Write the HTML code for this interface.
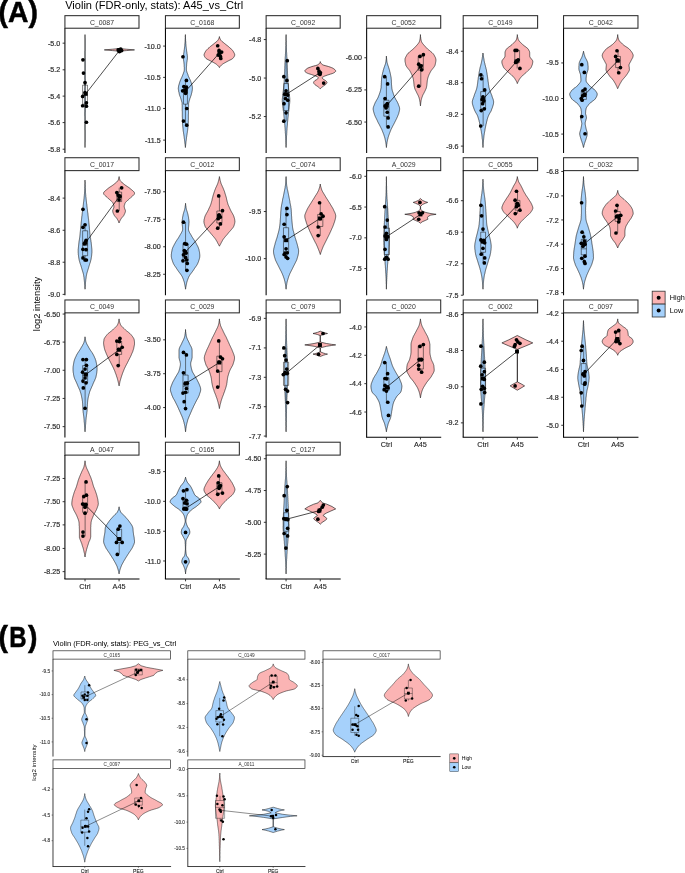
<!DOCTYPE html>
<html lang="en"><head><meta charset="utf-8"><title>Violin plots</title>
<style>html,body{margin:0;padding:0;background:#fff;overflow:hidden}svg{display:block}</style>
</head><body>
<svg width="685" height="873" viewBox="0 0 685 873" font-family='"Liberation Sans", Arial, sans-serif'>
<rect width="685" height="873" fill="#fff"/>
<text transform="translate(-1.4,22.3) scale(0.97,1)" font-size="29.2" font-weight="bold" fill="#000" stroke="#000" stroke-width="0.5">(A)</text>
<g font-size="29.2" font-weight="bold" fill="#000" stroke="#000" stroke-width="0.5"><text transform="translate(-1.4,647.4) scale(0.97,1)">(</text><text transform="translate(9.3,647.4) scale(0.82,1)">B</text><text transform="translate(28.0,647.4) scale(0.97,1)">)</text></g>
<text x="65.2" y="9" font-size="11" fill="#000" textLength="178" lengthAdjust="spacingAndGlyphs">Violin (FDR-only, stats): A45_vs_Ctrl</text>
<text x="53" y="645.8" font-size="7.5" fill="#000" textLength="123.3" lengthAdjust="spacingAndGlyphs">Violin (FDR-only, stats): PEG_vs_Ctrl</text>
<text transform="translate(39.7,304) rotate(-90)" font-size="9.3" fill="#000" text-anchor="middle">log2 intensity</text>
<text transform="translate(35.9,762.6) rotate(-90)" font-size="6.25" fill="#000" text-anchor="middle">log2 intensity</text>
<g>
<path d="M85,34.6 85,35.1 85,35.6 85,36.1 85,36.6 85,37.1 85,37.6 85,38.1 85.1,38.6 85.1,39.1 85.1,39.6 85.1,40.1 85.1,40.6 85.1,41.1 85.1,41.6 85.1,42.1 85.1,42.6 85.1,43.1 85.1,43.6 85.1,44.1 85.1,44.6 85.1,45.1 85.1,45.6 85.1,46.1 85.1,46.6 85.1,47.1 85.1,47.6 85.1,48.1 85.1,48.6 85.1,49.1 85.1,49.6 85.1,50.1 85.1,50.6 85.1,51.1 85.1,51.6 85.1,52.1 85.1,52.6 85.1,53.1 85.1,53.6 85.1,54.1 85.1,54.6 85.1,55.1 85.1,55.6 85.1,56.1 85.1,56.6 85.1,57.1 85.1,57.6 85.2,58.1 85.2,58.6 85.2,59.1 85.2,59.6 85.2,60.1 85.2,60.6 85.2,61.1 85.2,61.6 85.2,62.1 85.2,62.6 85.2,63.1 85.2,63.6 85.2,64.1 85.2,64.6 85.2,65.1 85.2,65.6 85.2,66.1 85.2,66.6 85.2,67.1 85.2,67.6 85.2,68.1 85.2,68.6 85.2,69.1 85.2,69.6 85.2,70.1 85.2,70.6 85.2,71.1 85.2,71.6 85.2,72.1 85.2,72.6 85.2,73.1 85.2,73.6 85.2,74.1 85.2,74.6 85.2,75.1 85.2,75.6 85.2,76.1 85.2,76.6 85.2,77.1 85.2,77.6 85.2,78.1 85.2,78.6 85.3,79.1 85.3,79.6 85.3,80.1 85.3,80.6 85.3,81.1 85.3,81.6 85.3,82.1 85.3,82.6 85.3,83.1 85.3,83.6 85.3,84.1 85.3,84.6 85.3,85.1 85.3,85.6 85.3,86.1 85.3,86.6 85.3,87.1 85.3,87.6 85.3,88.1 85.3,88.6 85.3,89.1 85.3,89.6 85.3,90.1 85.3,90.6 85.4,91.1 85.4,91.6 85.4,92.1 85.4,92.6 85.4,93.1 85.4,93.6 85.4,94.1 85.4,94.6 85.4,95.1 85.4,95.6 85.4,96.1 85.4,96.6 85.4,97.1 85.4,97.6 85.4,98.1 85.4,98.6 85.4,99.1 85.4,99.6 85.4,100.1 85.4,100.6 85.4,101.1 85.4,101.6 85.4,102.1 85.4,102.6 85.3,103.1 85.3,103.6 85.3,104.1 85.3,104.6 85.3,105.1 85.3,105.6 85.3,106.1 85.3,106.6 85.3,107.1 85.3,107.6 85.3,108.1 85.3,108.6 85.3,109.1 85.3,109.6 85.3,110.1 85.3,110.6 85.3,111.1 85.3,111.6 85.3,112.1 85.2,112.6 85.2,113.1 85.2,113.6 85.2,114.1 85.2,114.6 85.2,115.1 85.2,115.6 85.2,116.1 85.2,116.6 85.2,117.1 85.2,117.6 85.2,118.1 85.2,118.6 85.2,119.1 85.2,119.6 85.2,120.1 85.2,120.6 85.2,121.1 85.2,121.6 85.2,122.1 85.2,122.6 85.2,123.1 85.2,123.6 85.2,124.1 85.1,124.6 85.1,125.1 85.1,125.6 85.1,126.1 85.1,126.6 85.1,127.1 85.1,127.6 85.1,128.1 85.1,128.6 85.1,129.1 85.1,129.6 85.1,130.1 85.1,130.6 85.1,131.1 85.1,131.6 85.1,132.1 85.1,132.6 85.1,133.1 85.1,133.6 85.1,134.1 85.1,134.6 85.1,135.1 85.1,135.6 85.1,136.1 85.1,136.6 85.1,137.1 85.1,137.6 85.1,138.1 85.1,138.6 85.1,139.1 85.1,139.6 85.1,140.1 85.1,140.6 85.1,141.1 85.1,141.6 85.1,142.1 85,142.6 85,143.1 85,143.6 85,144.1 85,144.6 85,145.1 85,145.6 85,146.1 85,146.6 85,147.1 85,147.5 85,147.5 85,147.1 85,146.6 85,146.1 85,145.6 85,145.1 85,144.6 85,144.1 85,143.6 85,143.1 85,142.6 85,142.1 85,141.6 85,141.1 85,140.6 85,140.1 85,139.6 85,139.1 85,138.6 85,138.1 85,137.6 85,137.1 85,136.6 85,136.1 85,135.6 85,135.1 85,134.6 85,134.1 85,133.6 85,133.1 85,132.6 85,132.1 85,131.6 85,131.1 85,130.6 84.9,130.1 84.9,129.6 84.9,129.1 84.9,128.6 84.9,128.1 84.9,127.6 84.9,127.1 84.9,126.6 84.9,126.1 84.9,125.6 84.9,125.1 84.9,124.6 84.9,124.1 84.9,123.6 84.9,123.1 84.9,122.6 84.9,122.1 84.9,121.6 84.9,121.1 84.9,120.6 84.9,120.1 84.9,119.6 84.9,119.1 84.9,118.6 84.9,118.1 84.9,117.6 84.9,117.1 84.9,116.6 84.8,116.1 84.8,115.6 84.8,115.1 84.8,114.6 84.8,114.1 84.8,113.6 84.8,113.1 84.8,112.6 84.8,112.1 84.8,111.6 84.8,111.1 84.8,110.6 84.8,110.1 84.8,109.6 84.8,109.1 84.8,108.6 84.8,108.1 84.8,107.6 84.8,107.1 84.8,106.6 84.8,106.1 84.7,105.6 84.7,105.1 84.7,104.6 84.7,104.1 84.7,103.6 84.7,103.1 84.7,102.6 84.7,102.1 84.7,101.6 84.7,101.1 84.7,100.6 84.7,100.1 84.7,99.6 84.7,99.1 84.7,98.6 84.7,98.1 84.7,97.6 84.7,97.1 84.7,96.6 84.7,96.1 84.7,95.6 84.7,95.1 84.7,94.6 84.7,94.1 84.7,93.6 84.7,93.1 84.7,92.6 84.7,92.1 84.7,91.6 84.7,91.1 84.7,90.6 84.7,90.1 84.7,89.6 84.7,89.1 84.7,88.6 84.7,88.1 84.8,87.6 84.8,87.1 84.8,86.6 84.8,86.1 84.8,85.6 84.8,85.1 84.8,84.6 84.8,84.1 84.8,83.6 84.8,83.1 84.8,82.6 84.8,82.1 84.8,81.6 84.8,81.1 84.8,80.6 84.8,80.1 84.8,79.6 84.8,79.1 84.8,78.6 84.8,78.1 84.8,77.6 84.8,77.1 84.8,76.6 84.8,76.1 84.8,75.6 84.8,75.1 84.8,74.6 84.8,74.1 84.8,73.6 84.8,73.1 84.8,72.6 84.8,72.1 84.8,71.6 84.8,71.1 84.9,70.6 84.9,70.1 84.9,69.6 84.9,69.1 84.9,68.6 84.9,68.1 84.9,67.6 84.9,67.1 84.9,66.6 84.9,66.1 84.9,65.6 84.9,65.1 84.9,64.6 84.9,64.1 84.9,63.6 84.9,63.1 84.9,62.6 84.9,62.1 84.9,61.6 84.9,61.1 84.9,60.6 84.9,60.1 84.9,59.6 84.9,59.1 84.9,58.6 84.9,58.1 84.9,57.6 84.9,57.1 84.9,56.6 84.9,56.1 84.9,55.6 84.9,55.1 84.9,54.6 84.9,54.1 84.9,53.6 84.9,53.1 84.9,52.6 84.9,52.1 84.9,51.6 84.9,51.1 85,50.6 85,50.1 85,49.6 85,49.1 85,48.6 85,48.1 85,47.6 85,47.1 85,46.6 85,46.1 85,45.6 85,45.1 85,44.6 85,44.1 85,43.6 85,43.1 85,42.6 85,42.1 85,41.6 85,41.1 85,40.6 85,40.1 85,39.6 85,39.1 85,38.6 85,38.1 85,37.6 85,37.1 85,36.6 85,36.1 85,35.6 85,35.1 85,34.6Z" fill="#a6d1fb" stroke="#111" stroke-width="0.62" stroke-linejoin="round"/>
<path d="M119.4,48.5 126.3,49.2 134.5,49.9 126.3,50.6 119.4,51.2 119.4,51.2 112.5,50.6 104.3,49.9 112.5,49.2 119.4,48.5Z" fill="#fbb4b4" stroke="#111" stroke-width="0.62" stroke-linejoin="round"/>
<rect x="82.62" y="85.11" width="4.81" height="19.08" fill="#a6d1fb" fill-opacity="0"/>
<path d="M85.03,82.53V85.11M85.03,104.19V106.25M82.62,85.11H87.44V104.19H82.62ZM82.62,94.22H87.44" fill="none" stroke="#1a1a1a" stroke-width="0.55"/>
<path d="M85.72,93.88L119.41,50.56" stroke="#000" stroke-width="0.7" fill="none"/>
<circle cx="82.97" cy="59.84" r="1.85"/>
<circle cx="83.48" cy="73.08" r="1.85"/>
<circle cx="85.03" cy="82.53" r="1.85"/>
<circle cx="82.62" cy="96.45" r="1.85"/>
<circle cx="85.03" cy="92.5" r="1.85"/>
<circle cx="86.41" cy="102.81" r="1.85"/>
<circle cx="82.62" cy="105.73" r="1.85"/>
<circle cx="86.41" cy="106.25" r="1.85"/>
<circle cx="86.41" cy="122.23" r="1.85"/>
<circle cx="118.2" cy="49.88" r="1.85"/>
<circle cx="119.92" cy="49.53" r="1.85"/>
<circle cx="121.64" cy="50.56" r="1.85"/>
<circle cx="119.41" cy="51.59" r="1.85"/>
<circle cx="120.78" cy="49.19" r="1.85"/>
<rect x="83.77" y="91.92" width="3.9" height="3.9"/>
<rect x="117.46" y="48.61" width="3.9" height="3.9"/>
<rect x="64.92" y="15.67" width="74.07" height="12.55" fill="#fff" stroke="#2b2b2b" stroke-width="1.05"/>
<text x="101.96" y="25" font-size="6.9" fill="#333" text-anchor="middle">C_0087</text>
<path d="M64.92,28.22V153" stroke="#000" stroke-width="1.05" fill="none"/>
<path d="M62.62,43.17H64.92" stroke="#222" stroke-width="0.9"/>
<text x="60.12" y="45.73" font-size="7.1" fill="#333" stroke="#333" stroke-width="0.22" text-anchor="end">-5.0</text>
<path d="M62.62,69.81H64.92" stroke="#222" stroke-width="0.9"/>
<text x="60.12" y="72.37" font-size="7.1" fill="#333" stroke="#333" stroke-width="0.22" text-anchor="end">-5.2</text>
<path d="M62.62,96.11H64.92" stroke="#222" stroke-width="0.9"/>
<text x="60.12" y="98.67" font-size="7.1" fill="#333" stroke="#333" stroke-width="0.22" text-anchor="end">-5.4</text>
<path d="M62.62,122.58H64.92" stroke="#222" stroke-width="0.9"/>
<text x="60.12" y="125.13" font-size="7.1" fill="#333" stroke="#333" stroke-width="0.22" text-anchor="end">-5.6</text>
<path d="M62.62,149.22H64.92" stroke="#222" stroke-width="0.9"/>
<text x="60.12" y="151.77" font-size="7.1" fill="#333" stroke="#333" stroke-width="0.22" text-anchor="end">-5.8</text>
</g>
<g>
<path d="M185.4,34.6 185.4,35.1 185.4,35.6 185.4,36.1 185.4,36.6 185.4,37.1 185.5,37.6 185.5,38.1 185.5,38.6 185.5,39.1 185.6,39.6 185.6,40.1 185.6,40.6 185.7,41.1 185.7,41.6 185.7,42.1 185.8,42.6 185.8,43.1 185.8,43.6 185.9,44.1 185.9,44.6 185.9,45.1 186,45.6 186,46.1 186.1,46.6 186.2,47.1 186.2,47.6 186.3,48.1 186.3,48.6 186.4,49.1 186.5,49.6 186.5,50.1 186.6,50.6 186.7,51.1 186.7,51.6 186.8,52.1 186.9,52.6 186.9,53.1 187,53.6 187.1,54.1 187.2,54.6 187.2,55.1 187.3,55.6 187.4,56.1 187.4,56.6 187.4,57.1 187.4,57.6 187.4,58.1 187.4,58.6 187.3,59.1 187.3,59.6 187.2,60.1 187.1,60.6 187,61.1 187,61.6 186.9,62.1 186.8,62.6 186.8,63.1 186.7,63.6 186.7,64.1 186.6,64.6 186.6,65.1 186.6,65.6 186.5,66.1 186.5,66.6 186.5,67.1 186.4,67.6 186.4,68.1 186.4,68.6 186.4,69.1 186.4,69.6 186.5,70.1 186.5,70.6 186.6,71.1 186.8,71.6 186.9,72.1 187.1,72.6 187.3,73.1 187.5,73.6 187.7,74.1 187.9,74.6 188,75.1 188.2,75.6 188.4,76.1 188.6,76.6 188.8,77.1 189.1,77.6 189.3,78.1 189.5,78.6 189.8,79.1 190,79.6 190.2,80.1 190.5,80.6 190.7,81.1 190.8,81.6 191,82.1 191.2,82.6 191.3,83.1 191.5,83.6 191.6,84.1 191.8,84.6 191.9,85.1 192.1,85.6 192.2,86.1 192.3,86.6 192.3,87.1 192.4,87.6 192.4,88.1 192.4,88.6 192.4,89.1 192.3,89.6 192.3,90.1 192.2,90.6 192.1,91.1 192,91.6 191.9,92.1 191.8,92.6 191.7,93.1 191.5,93.6 191.4,94.1 191.3,94.6 191.2,95.1 191,95.6 190.8,96.1 190.6,96.6 190.5,97.1 190.3,97.6 190.1,98.1 189.9,98.6 189.8,99.1 189.6,99.6 189.5,100.1 189.3,100.6 189.2,101.1 189,101.6 188.9,102.1 188.8,102.6 188.7,103.1 188.6,103.6 188.6,104.1 188.6,104.6 188.6,105.1 188.6,105.6 188.6,106.1 188.6,106.6 188.6,107.1 188.5,107.6 188.5,108.1 188.5,108.6 188.5,109.1 188.5,109.6 188.5,110.1 188.5,110.6 188.5,111.1 188.5,111.6 188.5,112.1 188.5,112.6 188.5,113.1 188.5,113.6 188.5,114.1 188.4,114.6 188.4,115.1 188.4,115.6 188.4,116.1 188.4,116.6 188.4,117.1 188.4,117.6 188.4,118.1 188.4,118.6 188.4,119.1 188.4,119.6 188.3,120.1 188.3,120.6 188.3,121.1 188.3,121.6 188.3,122.1 188.3,122.6 188.2,123.1 188.2,123.6 188.2,124.1 188.1,124.6 188.1,125.1 188.1,125.6 188,126.1 188,126.6 187.9,127.1 187.9,127.6 187.8,128.1 187.8,128.6 187.7,129.1 187.7,129.6 187.6,130.1 187.6,130.6 187.5,131.1 187.4,131.6 187.3,132.1 187.3,132.6 187.2,133.1 187.1,133.6 187,134.1 187,134.6 186.9,135.1 186.8,135.6 186.7,136.1 186.7,136.6 186.6,137.1 186.5,137.6 186.5,138.1 186.4,138.6 186.3,139.1 186.3,139.6 186.2,140.1 186.2,140.6 186.1,141.1 186,141.6 186,142.1 185.9,142.6 185.9,143.1 185.8,143.6 185.7,144.1 185.7,144.6 185.6,145.1 185.6,145.6 185.5,146.1 185.5,146.6 185.4,147.1 185.4,147.5 185.4,147.5 185.3,147.1 185.3,146.6 185.2,146.1 185.2,145.6 185.1,145.1 185.1,144.6 185,144.1 184.9,143.6 184.9,143.1 184.8,142.6 184.8,142.1 184.7,141.6 184.7,141.1 184.6,140.6 184.5,140.1 184.5,139.6 184.4,139.1 184.3,138.6 184.3,138.1 184.2,137.6 184.2,137.1 184.1,136.6 184,136.1 183.9,135.6 183.9,135.1 183.8,134.6 183.7,134.1 183.6,133.6 183.6,133.1 183.5,132.6 183.4,132.1 183.3,131.6 183.3,131.1 183.2,130.6 183.1,130.1 183.1,129.6 183,129.1 183,128.6 182.9,128.1 182.9,127.6 182.8,127.1 182.8,126.6 182.7,126.1 182.7,125.6 182.6,125.1 182.6,124.6 182.6,124.1 182.5,123.6 182.5,123.1 182.5,122.6 182.5,122.1 182.4,121.6 182.4,121.1 182.4,120.6 182.4,120.1 182.4,119.6 182.4,119.1 182.4,118.6 182.4,118.1 182.4,117.6 182.3,117.1 182.3,116.6 182.3,116.1 182.3,115.6 182.3,115.1 182.3,114.6 182.3,114.1 182.3,113.6 182.3,113.1 182.3,112.6 182.3,112.1 182.3,111.6 182.2,111.1 182.2,110.6 182.2,110.1 182.2,109.6 182.2,109.1 182.2,108.6 182.2,108.1 182.2,107.6 182.2,107.1 182.2,106.6 182.2,106.1 182.2,105.6 182.2,105.1 182.1,104.6 182.1,104.1 182.1,103.6 182.1,103.1 182,102.6 181.9,102.1 181.7,101.6 181.6,101.1 181.4,100.6 181.3,100.1 181.1,99.6 181,99.1 180.8,98.6 180.7,98.1 180.5,97.6 180.3,97.1 180.1,96.6 179.9,96.1 179.7,95.6 179.6,95.1 179.4,94.6 179.3,94.1 179.2,93.6 179.1,93.1 179,92.6 178.9,92.1 178.7,91.6 178.6,91.1 178.6,90.6 178.5,90.1 178.4,89.6 178.4,89.1 178.3,88.6 178.3,88.1 178.4,87.6 178.4,87.1 178.5,86.6 178.6,86.1 178.7,85.6 178.8,85.1 179,84.6 179.1,84.1 179.3,83.6 179.4,83.1 179.6,82.6 179.7,82.1 179.9,81.6 180.1,81.1 180.3,80.6 180.5,80.1 180.7,79.6 181,79.1 181.2,78.6 181.4,78.1 181.7,77.6 181.9,77.1 182.1,76.6 182.3,76.1 182.5,75.6 182.7,75.1 182.9,74.6 183.1,74.1 183.3,73.6 183.5,73.1 183.6,72.6 183.8,72.1 184,71.6 184.1,71.1 184.2,70.6 184.3,70.1 184.3,69.6 184.3,69.1 184.3,68.6 184.3,68.1 184.3,67.6 184.3,67.1 184.2,66.6 184.2,66.1 184.2,65.6 184.1,65.1 184.1,64.6 184.1,64.1 184,63.6 184,63.1 183.9,62.6 183.9,62.1 183.8,61.6 183.7,61.1 183.6,60.6 183.6,60.1 183.5,59.6 183.4,59.1 183.4,58.6 183.3,58.1 183.3,57.6 183.3,57.1 183.3,56.6 183.4,56.1 183.4,55.6 183.5,55.1 183.6,54.6 183.7,54.1 183.7,53.6 183.8,53.1 183.9,52.6 183.9,52.1 184,51.6 184.1,51.1 184.1,50.6 184.2,50.1 184.3,49.6 184.3,49.1 184.4,48.6 184.5,48.1 184.5,47.6 184.6,47.1 184.7,46.6 184.7,46.1 184.8,45.6 184.8,45.1 184.8,44.6 184.9,44.1 184.9,43.6 185,43.1 185,42.6 185,42.1 185.1,41.6 185.1,41.1 185.1,40.6 185.2,40.1 185.2,39.6 185.2,39.1 185.2,38.6 185.3,38.1 185.3,37.6 185.3,37.1 185.3,36.6 185.3,36.1 185.4,35.6 185.4,35.1 185.4,34.6Z" fill="#a6d1fb" stroke="#111" stroke-width="0.62" stroke-linejoin="round"/>
<path d="M219.4,36.6 219.5,37.1 219.6,37.6 219.8,38.1 220,38.6 220.2,39.1 220.5,39.6 220.8,40.1 221.2,40.6 221.7,41.1 222.2,41.6 222.8,42.1 223.5,42.6 224.1,43.1 224.7,43.6 225.3,44.1 226,44.6 226.6,45.1 227.3,45.6 227.9,46.1 228.5,46.6 229.1,47.1 229.6,47.6 230.2,48.1 230.8,48.6 231.3,49.1 231.9,49.6 232.3,50.1 232.7,50.6 233.1,51.1 233.4,51.6 233.7,52.1 233.9,52.6 234.2,53.1 234.4,53.6 234.6,54.1 234.7,54.6 234.7,55.1 234.6,55.6 234.4,56.1 234.2,56.6 233.9,57.1 233.5,57.6 233.1,58.1 232.6,58.6 231.9,59.1 231,59.6 229.9,60.1 228.9,60.6 227.9,61.1 227,61.6 226.1,62.1 225.2,62.6 224.3,63.1 223.4,63.6 222.7,64.1 222,64.6 221.4,65.1 220.9,65.6 220.4,66.1 220,66.6 219.7,67.1 219.4,67.6 219.4,67.6 219.2,67.1 218.8,66.6 218.4,66.1 217.9,65.6 217.4,65.1 216.8,64.6 216.2,64.1 215.4,63.6 214.5,63.1 213.6,62.6 212.7,62.1 211.8,61.6 210.9,61.1 209.9,60.6 208.9,60.1 207.9,59.6 206.9,59.1 206.2,58.6 205.7,58.1 205.3,57.6 204.9,57.1 204.6,56.6 204.4,56.1 204.2,55.6 204.1,55.1 204.1,54.6 204.2,54.1 204.4,53.6 204.6,53.1 204.9,52.6 205.1,52.1 205.4,51.6 205.7,51.1 206.1,50.6 206.5,50.1 207,49.6 207.5,49.1 208,48.6 208.6,48.1 209.2,47.6 209.7,47.1 210.3,46.6 210.9,46.1 211.6,45.6 212.2,45.1 212.9,44.6 213.5,44.1 214.1,43.6 214.7,43.1 215.3,42.6 216,42.1 216.6,41.6 217.1,41.1 217.6,40.6 218,40.1 218.3,39.6 218.6,39.1 218.8,38.6 219,38.1 219.2,37.6 219.3,37.1 219.4,36.6Z" fill="#fbb4b4" stroke="#111" stroke-width="0.62" stroke-linejoin="round"/>
<rect x="183.48" y="85.62" width="3.95" height="18.56" fill="#a6d1fb" fill-opacity="0"/>
<path d="M185.46,80.47V85.62M185.46,104.19V125.16M183.48,85.62H187.44V104.19H183.48ZM183.48,90.27H187.44" fill="none" stroke="#1a1a1a" stroke-width="0.55"/>
<path d="M185.72,91.12L219.41,52.97" stroke="#000" stroke-width="0.7" fill="none"/>
<circle cx="182.97" cy="56.75" r="1.85"/>
<circle cx="186.41" cy="80.47" r="1.85"/>
<circle cx="183.83" cy="86.48" r="1.85"/>
<circle cx="186.41" cy="87.34" r="1.85"/>
<circle cx="182.62" cy="90.78" r="1.85"/>
<circle cx="185.03" cy="89.92" r="1.85"/>
<circle cx="185.55" cy="93.36" r="1.85"/>
<circle cx="186.75" cy="108.48" r="1.85"/>
<circle cx="183.48" cy="121.03" r="1.85"/>
<circle cx="186.75" cy="125.16" r="1.85"/>
<circle cx="217.69" cy="45.75" r="1.85"/>
<circle cx="219.06" cy="50.39" r="1.85"/>
<circle cx="221.64" cy="52.11" r="1.85"/>
<circle cx="218.2" cy="55.03" r="1.85"/>
<circle cx="220.44" cy="56.41" r="1.85"/>
<circle cx="220.78" cy="58.47" r="1.85"/>
<rect x="183.77" y="89.17" width="3.9" height="3.9"/>
<rect x="217.46" y="51.02" width="3.9" height="3.9"/>
<rect x="165.44" y="15.67" width="73.9" height="12.55" fill="#fff" stroke="#2b2b2b" stroke-width="1.05"/>
<text x="202.39" y="25" font-size="6.9" fill="#333" text-anchor="middle">C_0168</text>
<path d="M165.44,28.22V153" stroke="#000" stroke-width="1.05" fill="none"/>
<path d="M163.14,46.09H165.44" stroke="#222" stroke-width="0.9"/>
<text x="160.64" y="48.65" font-size="7.1" fill="#333" stroke="#333" stroke-width="0.22" text-anchor="end">-10.0</text>
<path d="M163.14,77.38H165.44" stroke="#222" stroke-width="0.9"/>
<text x="160.64" y="79.93" font-size="7.1" fill="#333" stroke="#333" stroke-width="0.22" text-anchor="end">-10.5</text>
<path d="M163.14,108.48H165.44" stroke="#222" stroke-width="0.9"/>
<text x="160.64" y="111.04" font-size="7.1" fill="#333" stroke="#333" stroke-width="0.22" text-anchor="end">-11.0</text>
<path d="M163.14,140.11H165.44" stroke="#222" stroke-width="0.9"/>
<text x="160.64" y="142.67" font-size="7.1" fill="#333" stroke="#333" stroke-width="0.22" text-anchor="end">-11.5</text>
</g>
<g>
<path d="M286.1,34.6 286.1,35.1 286.1,35.6 286.1,36.1 286.1,36.6 286.1,37.1 286.1,37.6 286.1,38.1 286.1,38.6 286.1,39.1 286.1,39.6 286.1,40.1 286.1,40.6 286.2,41.1 286.2,41.6 286.2,42.1 286.2,42.6 286.2,43.1 286.2,43.6 286.2,44.1 286.2,44.6 286.3,45.1 286.3,45.6 286.3,46.1 286.3,46.6 286.3,47.1 286.3,47.6 286.4,48.1 286.4,48.6 286.4,49.1 286.4,49.6 286.5,50.1 286.5,50.6 286.5,51.1 286.5,51.6 286.6,52.1 286.6,52.6 286.6,53.1 286.7,53.6 286.7,54.1 286.7,54.6 286.7,55.1 286.8,55.6 286.8,56.1 286.8,56.6 286.9,57.1 286.9,57.6 286.9,58.1 286.9,58.6 287,59.1 287,59.6 287,60.1 287,60.6 287.1,61.1 287.1,61.6 287.1,62.1 287.1,62.6 287.2,63.1 287.2,63.6 287.2,64.1 287.2,64.6 287.2,65.1 287.3,65.6 287.3,66.1 287.3,66.6 287.3,67.1 287.3,67.6 287.3,68.1 287.4,68.6 287.4,69.1 287.4,69.6 287.4,70.1 287.4,70.6 287.4,71.1 287.5,71.6 287.5,72.1 287.5,72.6 287.5,73.1 287.5,73.6 287.6,74.1 287.6,74.6 287.6,75.1 287.6,75.6 287.6,76.1 287.7,76.6 287.7,77.1 287.7,77.6 287.7,78.1 287.8,78.6 287.8,79.1 287.8,79.6 287.9,80.1 287.9,80.6 287.9,81.1 288,81.6 288,82.1 288,82.6 288.1,83.1 288.1,83.6 288.2,84.1 288.2,84.6 288.3,85.1 288.3,85.6 288.3,86.1 288.4,86.6 288.4,87.1 288.5,87.6 288.5,88.1 288.6,88.6 288.6,89.1 288.7,89.6 288.8,90.1 288.8,90.6 288.9,91.1 288.9,91.6 289,92.1 289.1,92.6 289.2,93.1 289.2,93.6 289.3,94.1 289.4,94.6 289.4,95.1 289.5,95.6 289.5,96.1 289.6,96.6 289.6,97.1 289.7,97.6 289.7,98.1 289.8,98.6 289.8,99.1 289.8,99.6 289.8,100.1 289.8,100.6 289.8,101.1 289.8,101.6 289.8,102.1 289.7,102.6 289.7,103.1 289.6,103.6 289.6,104.1 289.5,104.6 289.5,105.1 289.4,105.6 289.3,106.1 289.3,106.6 289.2,107.1 289.2,107.6 289.1,108.1 289.1,108.6 289,109.1 288.9,109.6 288.9,110.1 288.8,110.6 288.7,111.1 288.7,111.6 288.6,112.1 288.5,112.6 288.5,113.1 288.4,113.6 288.4,114.1 288.3,114.6 288.3,115.1 288.2,115.6 288.2,116.1 288.1,116.6 288,117.1 288,117.6 287.9,118.1 287.9,118.6 287.9,119.1 287.8,119.6 287.8,120.1 287.7,120.6 287.7,121.1 287.6,121.6 287.6,122.1 287.5,122.6 287.5,123.1 287.4,123.6 287.4,124.1 287.4,124.6 287.3,125.1 287.3,125.6 287.2,126.1 287.2,126.6 287.2,127.1 287.1,127.6 287.1,128.1 287,128.6 287,129.1 287,129.6 286.9,130.1 286.9,130.6 286.9,131.1 286.8,131.6 286.8,132.1 286.8,132.6 286.8,133.1 286.7,133.6 286.7,134.1 286.7,134.6 286.6,135.1 286.6,135.6 286.6,136.1 286.5,136.6 286.5,137.1 286.5,137.6 286.5,138.1 286.4,138.6 286.4,139.1 286.4,139.6 286.4,140.1 286.3,140.6 286.3,141.1 286.3,141.6 286.3,142.1 286.2,142.6 286.2,143.1 286.2,143.6 286.2,144.1 286.2,144.6 286.1,145.1 286.1,145.6 286.1,146.1 286.1,146.6 286.1,147.1 286.1,147.5 286.1,147.5 286,147.1 286,146.6 286,146.1 286,145.6 286,145.1 286,144.6 285.9,144.1 285.9,143.6 285.9,143.1 285.9,142.6 285.9,142.1 285.8,141.6 285.8,141.1 285.8,140.6 285.8,140.1 285.7,139.6 285.7,139.1 285.7,138.6 285.7,138.1 285.6,137.6 285.6,137.1 285.6,136.6 285.6,136.1 285.5,135.6 285.5,135.1 285.5,134.6 285.4,134.1 285.4,133.6 285.4,133.1 285.3,132.6 285.3,132.1 285.3,131.6 285.3,131.1 285.2,130.6 285.2,130.1 285.2,129.6 285.1,129.1 285.1,128.6 285,128.1 285,127.6 285,127.1 284.9,126.6 284.9,126.1 284.9,125.6 284.8,125.1 284.8,124.6 284.7,124.1 284.7,123.6 284.6,123.1 284.6,122.6 284.5,122.1 284.5,121.6 284.5,121.1 284.4,120.6 284.4,120.1 284.3,119.6 284.3,119.1 284.2,118.6 284.2,118.1 284.1,117.6 284.1,117.1 284,116.6 284,116.1 283.9,115.6 283.9,115.1 283.8,114.6 283.8,114.1 283.7,113.6 283.7,113.1 283.6,112.6 283.5,112.1 283.5,111.6 283.4,111.1 283.3,110.6 283.3,110.1 283.2,109.6 283.1,109.1 283.1,108.6 283,108.1 282.9,107.6 282.9,107.1 282.8,106.6 282.8,106.1 282.7,105.6 282.7,105.1 282.6,104.6 282.6,104.1 282.5,103.6 282.4,103.1 282.4,102.6 282.4,102.1 282.3,101.6 282.3,101.1 282.3,100.6 282.3,100.1 282.3,99.6 282.3,99.1 282.4,98.6 282.4,98.1 282.5,97.6 282.5,97.1 282.6,96.6 282.6,96.1 282.7,95.6 282.7,95.1 282.8,94.6 282.8,94.1 282.9,93.6 283,93.1 283,92.6 283.1,92.1 283.2,91.6 283.2,91.1 283.3,90.6 283.4,90.1 283.4,89.6 283.5,89.1 283.5,88.6 283.6,88.1 283.6,87.6 283.7,87.1 283.7,86.6 283.8,86.1 283.8,85.6 283.9,85.1 283.9,84.6 284,84.1 284,83.6 284,83.1 284.1,82.6 284.1,82.1 284.2,81.6 284.2,81.1 284.2,80.6 284.3,80.1 284.3,79.6 284.3,79.1 284.4,78.6 284.4,78.1 284.4,77.6 284.4,77.1 284.5,76.6 284.5,76.1 284.5,75.6 284.5,75.1 284.5,74.6 284.6,74.1 284.6,73.6 284.6,73.1 284.6,72.6 284.6,72.1 284.7,71.6 284.7,71.1 284.7,70.6 284.7,70.1 284.7,69.6 284.7,69.1 284.8,68.6 284.8,68.1 284.8,67.6 284.8,67.1 284.8,66.6 284.9,66.1 284.9,65.6 284.9,65.1 284.9,64.6 284.9,64.1 284.9,63.6 285,63.1 285,62.6 285,62.1 285,61.6 285.1,61.1 285.1,60.6 285.1,60.1 285.1,59.6 285.2,59.1 285.2,58.6 285.2,58.1 285.2,57.6 285.3,57.1 285.3,56.6 285.3,56.1 285.4,55.6 285.4,55.1 285.4,54.6 285.4,54.1 285.5,53.6 285.5,53.1 285.5,52.6 285.6,52.1 285.6,51.6 285.6,51.1 285.6,50.6 285.7,50.1 285.7,49.6 285.7,49.1 285.7,48.6 285.8,48.1 285.8,47.6 285.8,47.1 285.8,46.6 285.8,46.1 285.9,45.6 285.9,45.1 285.9,44.6 285.9,44.1 285.9,43.6 285.9,43.1 285.9,42.6 285.9,42.1 286,41.6 286,41.1 286,40.6 286,40.1 286,39.6 286,39.1 286,38.6 286,38.1 286,37.6 286,37.1 286,36.6 286.1,36.1 286.1,35.6 286.1,35.1 286.1,34.6Z" fill="#a6d1fb" stroke="#111" stroke-width="0.62" stroke-linejoin="round"/>
<path d="M320.3,61.6 320.4,62.1 320.6,62.6 320.9,63.1 321.3,63.6 321.7,64.1 322.4,64.6 323.4,65.1 325.1,65.6 327,66.1 328.7,66.6 330.2,67.1 331.5,67.6 332.7,68.1 333.5,68.6 334.2,69.1 334.8,69.6 335.3,70.1 335.6,70.6 335.7,71.1 335.5,71.6 335,72.1 334.2,72.6 333.4,73.1 332.2,73.6 330.5,74.1 328.9,74.6 327.4,75.1 325.9,75.6 324.6,76.1 323.6,76.6 322.7,77.1 322.1,77.6 322.2,78.1 322.6,78.6 323.2,79.1 323.9,79.6 324.7,80.1 325.6,80.6 326.2,81.1 326.6,81.6 326.9,82.1 327,82.6 326.8,83.1 326.5,83.6 326.1,84.1 325.6,84.6 325,85.1 324.2,85.6 323.4,86.1 322.7,86.6 322.1,87.1 321.5,87.6 321,88.1 320.4,88.6 320.3,88.7 320.3,88.7 320.1,88.6 319.6,88.1 319,87.6 318.4,87.1 317.8,86.6 317.1,86.1 316.3,85.6 315.5,85.1 314.9,84.6 314.4,84.1 314,83.6 313.7,83.1 313.6,82.6 313.7,82.1 314,81.6 314.4,81.1 314.9,80.6 315.8,80.1 316.7,79.6 317.3,79.1 317.9,78.6 318.4,78.1 318.4,77.6 317.8,77.1 316.9,76.6 315.9,76.1 314.6,75.6 313.1,75.1 311.7,74.6 310,74.1 308.4,73.6 307.2,73.1 306.3,72.6 305.6,72.1 305,71.6 304.8,71.1 304.9,70.6 305.2,70.1 305.7,69.6 306.4,69.1 307,68.6 307.8,68.1 309,67.6 310.4,67.1 311.8,66.6 313.5,66.1 315.5,65.6 317.2,65.1 318.1,64.6 318.8,64.1 319.3,63.6 319.6,63.1 320,62.6 320.2,62.1 320.3,61.6Z" fill="#fbb4b4" stroke="#111" stroke-width="0.62" stroke-linejoin="round"/>
<rect x="283.83" y="83.56" width="4.64" height="26.98" fill="#a6d1fb" fill-opacity="0"/>
<path d="M286.15,60.7V83.56M286.15,110.55V121.2M283.83,83.56H288.47V110.55H283.83ZM283.83,95.94H288.47" fill="none" stroke="#1a1a1a" stroke-width="0.55"/>
<path d="M286.41,94.22L319.41,73.08" stroke="#000" stroke-width="0.7" fill="none"/>
<circle cx="287.27" cy="60.7" r="1.85"/>
<circle cx="283.83" cy="76.69" r="1.85"/>
<circle cx="286.92" cy="80.47" r="1.85"/>
<circle cx="286.06" cy="90.78" r="1.85"/>
<circle cx="284.69" cy="94.22" r="1.85"/>
<circle cx="287.78" cy="95.08" r="1.85"/>
<circle cx="285.55" cy="98.52" r="1.85"/>
<circle cx="287.78" cy="100.23" r="1.85"/>
<circle cx="284" cy="103.67" r="1.85"/>
<circle cx="286.06" cy="112.78" r="1.85"/>
<circle cx="283.83" cy="121.2" r="1.85"/>
<circle cx="317.86" cy="68.44" r="1.85"/>
<circle cx="319.06" cy="71.02" r="1.85"/>
<circle cx="320.44" cy="72.73" r="1.85"/>
<circle cx="319.92" cy="74.45" r="1.85"/>
<circle cx="323.7" cy="83.05" r="1.85"/>
<rect x="284.46" y="92.27" width="3.9" height="3.9"/>
<rect x="317.46" y="71.13" width="3.9" height="3.9"/>
<rect x="266.12" y="15.67" width="74.07" height="12.55" fill="#fff" stroke="#2b2b2b" stroke-width="1.05"/>
<text x="303.16" y="25" font-size="6.9" fill="#333" text-anchor="middle">C_0092</text>
<path d="M266.12,28.22V153" stroke="#000" stroke-width="1.05" fill="none"/>
<path d="M263.82,39.56H266.12" stroke="#222" stroke-width="0.9"/>
<text x="261.32" y="42.12" font-size="7.1" fill="#333" stroke="#333" stroke-width="0.22" text-anchor="end">-4.8</text>
<path d="M263.82,78.06H266.12" stroke="#222" stroke-width="0.9"/>
<text x="261.32" y="80.62" font-size="7.1" fill="#333" stroke="#333" stroke-width="0.22" text-anchor="end">-5.0</text>
<path d="M263.82,116.56H266.12" stroke="#222" stroke-width="0.9"/>
<text x="261.32" y="119.12" font-size="7.1" fill="#333" stroke="#333" stroke-width="0.22" text-anchor="end">-5.2</text>
</g>
<g>
<path d="M386.4,56.1 386.4,56.6 386.4,57.1 386.5,57.6 386.5,58.1 386.6,58.6 386.6,59.1 386.7,59.6 386.7,60.1 386.8,60.6 386.9,61.1 386.9,61.6 387,62.1 387.1,62.6 387.2,63.1 387.4,63.6 387.5,64.1 387.7,64.6 387.8,65.1 388,65.6 388.2,66.1 388.4,66.6 388.5,67.1 388.7,67.6 388.9,68.1 389,68.6 389.2,69.1 389.3,69.6 389.5,70.1 389.6,70.6 389.7,71.1 389.8,71.6 390,72.1 390.1,72.6 390.2,73.1 390.3,73.6 390.4,74.1 390.5,74.6 390.6,75.1 390.7,75.6 390.8,76.1 390.9,76.6 391,77.1 391.1,77.6 391.1,78.1 391.2,78.6 391.2,79.1 391.3,79.6 391.3,80.1 391.4,80.6 391.4,81.1 391.4,81.6 391.4,82.1 391.4,82.6 391.5,83.1 391.5,83.6 391.5,84.1 391.5,84.6 391.6,85.1 391.6,85.6 391.6,86.1 391.7,86.6 391.7,87.1 391.8,87.6 391.8,88.1 391.9,88.6 392,89.1 392.1,89.6 392.2,90.1 392.3,90.6 392.5,91.1 392.6,91.6 392.8,92.1 393,92.6 393.1,93.1 393.3,93.6 393.5,94.1 393.6,94.6 393.8,95.1 394,95.6 394.2,96.1 394.4,96.6 394.6,97.1 394.8,97.6 395.1,98.1 395.4,98.6 395.6,99.1 395.9,99.6 396.2,100.1 396.5,100.6 396.8,101.1 397.1,101.6 397.3,102.1 397.6,102.6 397.8,103.1 398.1,103.6 398.3,104.1 398.4,104.6 398.6,105.1 398.8,105.6 399,106.1 399.2,106.6 399.3,107.1 399.5,107.6 399.6,108.1 399.6,108.6 399.6,109.1 399.6,109.6 399.5,110.1 399.4,110.6 399.3,111.1 399.2,111.6 399.1,112.1 398.9,112.6 398.8,113.1 398.7,113.6 398.5,114.1 398.3,114.6 398.1,115.1 397.9,115.6 397.7,116.1 397.5,116.6 397.3,117.1 397,117.6 396.8,118.1 396.6,118.6 396.3,119.1 396.1,119.6 395.8,120.1 395.6,120.6 395.3,121.1 395.1,121.6 394.8,122.1 394.6,122.6 394.3,123.1 394.1,123.6 393.8,124.1 393.6,124.6 393.3,125.1 393,125.6 392.8,126.1 392.5,126.6 392.2,127.1 392,127.6 391.7,128.1 391.5,128.6 391.2,129.1 391,129.6 390.8,130.1 390.6,130.6 390.4,131.1 390.2,131.6 390,132.1 389.8,132.6 389.6,133.1 389.4,133.6 389.2,134.1 389.1,134.6 388.9,135.1 388.7,135.6 388.6,136.1 388.4,136.6 388.2,137.1 388.1,137.6 388,138.1 387.9,138.6 387.7,139.1 387.6,139.6 387.5,140.1 387.4,140.6 387.3,141.1 387.2,141.6 387.1,142.1 387,142.6 387,143.1 386.9,143.6 386.8,144.1 386.7,144.6 386.7,145.1 386.6,145.6 386.5,146.1 386.5,146.6 386.4,147.1 386.4,147.5 386.4,147.5 386.4,147.1 386.3,146.6 386.3,146.1 386.2,145.6 386.2,145.1 386.1,144.6 386,144.1 385.9,143.6 385.9,143.1 385.8,142.6 385.7,142.1 385.6,141.6 385.5,141.1 385.4,140.6 385.3,140.1 385.2,139.6 385.1,139.1 385,138.6 384.8,138.1 384.7,137.6 384.6,137.1 384.4,136.6 384.3,136.1 384.1,135.6 383.9,135.1 383.8,134.6 383.6,134.1 383.4,133.6 383.2,133.1 383,132.6 382.8,132.1 382.6,131.6 382.4,131.1 382.2,130.6 382,130.1 381.8,129.6 381.6,129.1 381.3,128.6 381.1,128.1 380.8,127.6 380.6,127.1 380.3,126.6 380.1,126.1 379.8,125.6 379.5,125.1 379.3,124.6 379,124.1 378.7,123.6 378.5,123.1 378.2,122.6 378,122.1 377.7,121.6 377.5,121.1 377.3,120.6 377,120.1 376.8,119.6 376.5,119.1 376.3,118.6 376,118.1 375.8,117.6 375.5,117.1 375.3,116.6 375.1,116.1 374.9,115.6 374.7,115.1 374.5,114.6 374.3,114.1 374.2,113.6 374,113.1 373.9,112.6 373.7,112.1 373.6,111.6 373.5,111.1 373.4,110.6 373.3,110.1 373.2,109.6 373.2,109.1 373.2,108.6 373.2,108.1 373.3,107.6 373.5,107.1 373.6,106.6 373.8,106.1 374,105.6 374.2,105.1 374.4,104.6 374.5,104.1 374.8,103.6 375,103.1 375.2,102.6 375.5,102.1 375.8,101.6 376,101.1 376.3,100.6 376.6,100.1 376.9,99.6 377.2,99.1 377.5,98.6 377.7,98.1 378,97.6 378.2,97.1 378.4,96.6 378.6,96.1 378.8,95.6 379,95.1 379.2,94.6 379.3,94.1 379.5,93.6 379.7,93.1 379.9,92.6 380,92.1 380.2,91.6 380.3,91.1 380.5,90.6 380.6,90.1 380.7,89.6 380.8,89.1 380.9,88.6 381,88.1 381.1,87.6 381.1,87.1 381.1,86.6 381.2,86.1 381.2,85.6 381.2,85.1 381.3,84.6 381.3,84.1 381.3,83.6 381.3,83.1 381.4,82.6 381.4,82.1 381.4,81.6 381.4,81.1 381.5,80.6 381.5,80.1 381.5,79.6 381.6,79.1 381.6,78.6 381.7,78.1 381.7,77.6 381.8,77.1 381.9,76.6 382,76.1 382.1,75.6 382.2,75.1 382.3,74.6 382.4,74.1 382.5,73.6 382.6,73.1 382.7,72.6 382.8,72.1 383,71.6 383.1,71.1 383.2,70.6 383.3,70.1 383.5,69.6 383.6,69.1 383.8,68.6 383.9,68.1 384.1,67.6 384.3,67.1 384.5,66.6 384.6,66.1 384.8,65.6 385,65.1 385.2,64.6 385.3,64.1 385.5,63.6 385.6,63.1 385.7,62.6 385.8,62.1 385.9,61.6 386,61.1 386,60.6 386.1,60.1 386.2,59.6 386.2,59.1 386.3,58.6 386.3,58.1 386.3,57.6 386.4,57.1 386.4,56.6 386.4,56.1Z" fill="#a6d1fb" stroke="#111" stroke-width="0.62" stroke-linejoin="round"/>
<path d="M420.4,34.6 420.4,35.1 420.5,35.6 420.5,36.1 420.5,36.6 420.6,37.1 420.7,37.6 420.7,38.1 420.8,38.6 420.9,39.1 421,39.6 421.1,40.1 421.2,40.6 421.3,41.1 421.5,41.6 421.7,42.1 422,42.6 422.3,43.1 422.7,43.6 423.1,44.1 423.5,44.6 423.9,45.1 424.4,45.6 424.9,46.1 425.3,46.6 425.8,47.1 426.2,47.6 426.7,48.1 427.2,48.6 427.7,49.1 428.3,49.6 428.9,50.1 429.6,50.6 430.2,51.1 430.8,51.6 431.4,52.1 432,52.6 432.5,53.1 433,53.6 433.4,54.1 433.8,54.6 434.1,55.1 434.4,55.6 434.6,56.1 434.9,56.6 435.2,57.1 435.4,57.6 435.6,58.1 435.7,58.6 435.8,59.1 435.9,59.6 435.9,60.1 435.9,60.6 435.8,61.1 435.8,61.6 435.7,62.1 435.6,62.6 435.5,63.1 435.4,63.6 435.3,64.1 435.2,64.6 435,65.1 434.9,65.6 434.6,66.1 434.3,66.6 434,67.1 433.6,67.6 433.2,68.1 432.8,68.6 432.4,69.1 432,69.6 431.6,70.1 431.2,70.6 430.9,71.1 430.6,71.6 430.3,72.1 430.1,72.6 429.8,73.1 429.6,73.6 429.3,74.1 429.1,74.6 428.9,75.1 428.7,75.6 428.5,76.1 428.3,76.6 428.1,77.1 428,77.6 427.8,78.1 427.7,78.6 427.6,79.1 427.5,79.6 427.4,80.1 427.3,80.6 427.3,81.1 427.2,81.6 427.2,82.1 427.1,82.6 427.1,83.1 427,83.6 427,84.1 426.9,84.6 426.8,85.1 426.8,85.6 426.7,86.1 426.6,86.6 426.5,87.1 426.4,87.6 426.3,88.1 426.1,88.6 425.9,89.1 425.6,89.6 425.4,90.1 425.2,90.6 424.9,91.1 424.7,91.6 424.4,92.1 424.2,92.6 423.9,93.1 423.7,93.6 423.4,94.1 423.1,94.6 422.9,95.1 422.6,95.6 422.4,96.1 422.3,96.6 422.1,97.1 421.9,97.6 421.7,98.1 421.6,98.6 421.5,99.1 421.3,99.6 421.2,100.1 421.1,100.6 421,101.1 421,101.6 420.9,102.1 420.8,102.6 420.7,103.1 420.7,103.6 420.6,104.1 420.6,104.6 420.5,105.1 420.5,105.6 420.4,105.9 420.4,105.9 420.4,105.6 420.4,105.1 420.3,104.6 420.3,104.1 420.2,103.6 420.1,103.1 420.1,102.6 420,102.1 419.9,101.6 419.8,101.1 419.7,100.6 419.7,100.1 419.5,99.6 419.4,99.1 419.3,98.6 419.1,98.1 419,97.6 418.8,97.1 418.6,96.6 418.4,96.1 418.2,95.6 418,95.1 417.7,94.6 417.5,94.1 417.2,93.6 416.9,93.1 416.7,92.6 416.4,92.1 416.2,91.6 416,91.1 415.7,90.6 415.5,90.1 415.2,89.6 415,89.1 414.8,88.6 414.6,88.1 414.5,87.6 414.4,87.1 414.3,86.6 414.2,86.1 414.1,85.6 414,85.1 414,84.6 413.9,84.1 413.9,83.6 413.8,83.1 413.8,82.6 413.7,82.1 413.7,81.6 413.6,81.1 413.5,80.6 413.5,80.1 413.4,79.6 413.3,79.1 413.2,78.6 413.1,78.1 412.9,77.6 412.8,77.1 412.6,76.6 412.4,76.1 412.2,75.6 412,75.1 411.8,74.6 411.5,74.1 411.3,73.6 411.1,73.1 410.8,72.6 410.6,72.1 410.3,71.6 410,71.1 409.7,70.6 409.3,70.1 408.9,69.6 408.5,69.1 408.1,68.6 407.6,68.1 407.3,67.6 406.9,67.1 406.6,66.6 406.3,66.1 406,65.6 405.8,65.1 405.7,64.6 405.6,64.1 405.5,63.6 405.4,63.1 405.3,62.6 405.2,62.1 405.1,61.6 405,61.1 405,60.6 405,60.1 405,59.6 405,59.1 405.1,58.6 405.3,58.1 405.5,57.6 405.7,57.1 406,56.6 406.2,56.1 406.5,55.6 406.8,55.1 407.1,54.6 407.4,54.1 407.9,53.6 408.3,53.1 408.9,52.6 409.4,52.1 410.1,51.6 410.7,51.1 411.3,50.6 411.9,50.1 412.5,49.6 413.1,49.1 413.7,48.6 414.2,48.1 414.6,47.6 415.1,47.1 415.6,46.6 416,46.1 416.5,45.6 416.9,45.1 417.4,44.6 417.8,44.1 418.2,43.6 418.6,43.1 418.9,42.6 419.2,42.1 419.4,41.6 419.5,41.1 419.7,40.6 419.8,40.1 419.9,39.6 420,39.1 420.1,38.6 420.1,38.1 420.2,37.6 420.3,37.1 420.3,36.6 420.4,36.1 420.4,35.6 420.4,35.1 420.4,34.6Z" fill="#fbb4b4" stroke="#111" stroke-width="0.62" stroke-linejoin="round"/>
<rect x="383.83" y="100.23" width="5.16" height="15.98" fill="#a6d1fb" fill-opacity="0"/>
<path d="M386.41,76.69V100.23M386.41,116.22V126.88M383.83,100.23H388.98V116.22H383.83ZM383.83,107.11H388.98" fill="none" stroke="#1a1a1a" stroke-width="0.55"/>
<rect x="418.2" y="56.06" width="5.16" height="14.09" fill="#fbb4b4" fill-opacity="0"/>
<path d="M420.78,54.69V56.06M420.78,70.16V86.48M418.2,56.06H423.36V70.16H418.2ZM418.2,65H423.36" fill="none" stroke="#1a1a1a" stroke-width="0.55"/>
<path d="M386.75,105.39L420.44,66.72" stroke="#000" stroke-width="0.7" fill="none"/>
<circle cx="384.69" cy="76.69" r="1.85"/>
<circle cx="387.61" cy="83.91" r="1.85"/>
<circle cx="385.03" cy="98.52" r="1.85"/>
<circle cx="387.27" cy="103.67" r="1.85"/>
<circle cx="385.03" cy="105.91" r="1.85"/>
<circle cx="386.06" cy="107.97" r="1.85"/>
<circle cx="387.27" cy="112.27" r="1.85"/>
<circle cx="388.12" cy="117.94" r="1.85"/>
<circle cx="388.12" cy="126.88" r="1.85"/>
<circle cx="423.36" cy="54.69" r="1.85"/>
<circle cx="419.92" cy="56.41" r="1.85"/>
<circle cx="418.72" cy="64.14" r="1.85"/>
<circle cx="421.12" cy="65.86" r="1.85"/>
<circle cx="421.64" cy="69.81" r="1.85"/>
<circle cx="418.72" cy="86.14" r="1.85"/>
<rect x="384.8" y="103.44" width="3.9" height="3.9"/>
<rect x="418.49" y="64.77" width="3.9" height="3.9"/>
<rect x="366.64" y="15.67" width="74.07" height="12.55" fill="#fff" stroke="#2b2b2b" stroke-width="1.05"/>
<text x="403.68" y="25" font-size="6.9" fill="#333" text-anchor="middle">C_0052</text>
<path d="M366.64,28.22V153" stroke="#000" stroke-width="1.05" fill="none"/>
<path d="M364.34,57.78H366.64" stroke="#222" stroke-width="0.9"/>
<text x="361.84" y="60.34" font-size="7.1" fill="#333" stroke="#333" stroke-width="0.22" text-anchor="end">-6.00</text>
<path d="M364.34,89.92H366.64" stroke="#222" stroke-width="0.9"/>
<text x="361.84" y="92.48" font-size="7.1" fill="#333" stroke="#333" stroke-width="0.22" text-anchor="end">-6.25</text>
<path d="M364.34,122.06H366.64" stroke="#222" stroke-width="0.9"/>
<text x="361.84" y="124.62" font-size="7.1" fill="#333" stroke="#333" stroke-width="0.22" text-anchor="end">-6.50</text>
</g>
<g>
<path d="M483,53 483,53.5 483.1,54 483.2,54.5 483.2,55 483.3,55.5 483.4,56 483.5,56.5 483.5,57 483.6,57.5 483.7,58 483.8,58.5 483.9,59 484,59.5 484,60 484.1,60.5 484.2,61 484.3,61.5 484.4,62 484.5,62.5 484.6,63 484.8,63.5 484.9,64 485,64.5 485.1,65 485.3,65.5 485.4,66 485.5,66.5 485.7,67 485.8,67.5 485.9,68 486,68.5 486.2,69 486.3,69.5 486.4,70 486.5,70.5 486.6,71 486.6,71.5 486.7,72 486.8,72.5 486.9,73 487,73.5 487.1,74 487.1,74.5 487.2,75 487.3,75.5 487.4,76 487.4,76.5 487.5,77 487.6,77.5 487.7,78 487.7,78.5 487.8,79 487.9,79.5 488,80 488,80.5 488.1,81 488.1,81.5 488.2,82 488.3,82.5 488.3,83 488.4,83.5 488.4,84 488.5,84.5 488.6,85 488.7,85.5 488.7,86 488.8,86.5 488.9,87 489,87.5 489.1,88 489.3,88.5 489.4,89 489.5,89.5 489.7,90 489.9,90.5 490.1,91 490.3,91.5 490.5,92 490.6,92.5 490.8,93 491,93.5 491.2,94 491.4,94.5 491.6,95 491.8,95.5 491.9,96 492.1,96.5 492.3,97 492.4,97.5 492.6,98 492.8,98.5 493,99 493.2,99.5 493.3,100 493.4,100.5 493.5,101 493.6,101.5 493.6,102 493.6,102.5 493.6,103 493.5,103.5 493.4,104 493.3,104.5 493.2,105 493,105.5 492.9,106 492.7,106.5 492.5,107 492.4,107.5 492.2,108 492,108.5 491.8,109 491.6,109.5 491.5,110 491.3,110.5 491,111 490.8,111.5 490.5,112 490.2,112.5 489.9,113 489.6,113.5 489.4,114 489.1,114.5 488.8,115 488.6,115.5 488.4,116 488.2,116.5 488,117 487.8,117.5 487.7,118 487.5,118.5 487.4,119 487.2,119.5 487.1,120 487,120.5 486.8,121 486.7,121.5 486.6,122 486.5,122.5 486.4,123 486.3,123.5 486.1,124 486,124.5 485.9,125 485.8,125.5 485.7,126 485.6,126.5 485.5,127 485.4,127.5 485.3,128 485.2,128.5 485.1,129 485,129.5 484.9,130 484.9,130.5 484.8,131 484.7,131.5 484.6,132 484.5,132.5 484.4,133 484.3,133.5 484.3,134 484.2,134.5 484.1,135 484,135.5 484,136 483.9,136.5 483.9,137 483.8,137.5 483.7,138 483.7,138.5 483.6,139 483.6,139.5 483.5,140 483.5,140.5 483.4,141 483.4,141.5 483.3,142 483.3,142.5 483.3,143 483.2,143.5 483.2,144 483.1,144.5 483.1,145 483.1,145.5 483,146 483,146.5 483,147 483,147.5 483,147.5 483,147.5 483,147.5 482.9,147 482.9,146.5 482.9,146 482.9,145.5 482.8,145 482.8,144.5 482.8,144 482.7,143.5 482.7,143 482.6,142.5 482.6,142 482.6,141.5 482.5,141 482.5,140.5 482.4,140 482.4,139.5 482.3,139 482.2,138.5 482.2,138 482.1,137.5 482.1,137 482,136.5 482,136 481.9,135.5 481.8,135 481.8,134.5 481.7,134 481.6,133.5 481.5,133 481.4,132.5 481.4,132 481.3,131.5 481.2,131 481.1,130.5 481,130 480.9,129.5 480.8,129 480.7,128.5 480.6,128 480.5,127.5 480.4,127 480.3,126.5 480.2,126 480.1,125.5 480,125 479.9,124.5 479.8,124 479.7,123.5 479.6,123 479.5,122.5 479.3,122 479.2,121.5 479.1,121 479,120.5 478.8,120 478.7,119.5 478.6,119 478.4,118.5 478.3,118 478.1,117.5 477.9,117 477.8,116.5 477.6,116 477.4,115.5 477.1,115 476.9,114.5 476.6,114 476.3,113.5 476,113 475.7,112.5 475.4,112 475.2,111.5 474.9,111 474.7,110.5 474.5,110 474.3,109.5 474.1,109 473.9,108.5 473.8,108 473.6,107.5 473.4,107 473.2,106.5 473.1,106 472.9,105.5 472.8,105 472.6,104.5 472.5,104 472.4,103.5 472.4,103 472.3,102.5 472.3,102 472.3,101.5 472.4,101 472.5,100.5 472.6,100 472.8,99.5 472.9,99 473.1,98.5 473.3,98 473.5,97.5 473.7,97 473.9,96.5 474,96 474.2,95.5 474.4,95 474.5,94.5 474.7,94 474.9,93.5 475.1,93 475.3,92.5 475.5,92 475.7,91.5 475.9,91 476,90.5 476.2,90 476.4,89.5 476.5,89 476.7,88.5 476.8,88 476.9,87.5 477,87 477.1,86.5 477.2,86 477.3,85.5 477.4,85 477.4,84.5 477.5,84 477.6,83.5 477.6,83 477.7,82.5 477.7,82 477.8,81.5 477.9,81 477.9,80.5 478,80 478.1,79.5 478.1,79 478.2,78.5 478.3,78 478.3,77.5 478.4,77 478.5,76.5 478.6,76 478.6,75.5 478.7,75 478.8,74.5 478.9,74 479,73.5 479,73 479.1,72.5 479.2,72 479.3,71.5 479.4,71 479.5,70.5 479.6,70 479.7,69.5 479.8,69 479.9,68.5 480,68 480.1,67.5 480.3,67 480.4,66.5 480.5,66 480.7,65.5 480.8,65 480.9,64.5 481.1,64 481.2,63.5 481.3,63 481.4,62.5 481.5,62 481.6,61.5 481.7,61 481.8,60.5 481.9,60 482,59.5 482.1,59 482.2,58.5 482.2,58 482.3,57.5 482.4,57 482.5,56.5 482.6,56 482.6,55.5 482.7,55 482.8,54.5 482.8,54 482.9,53.5 483,53Z" fill="#a6d1fb" stroke="#111" stroke-width="0.62" stroke-linejoin="round"/>
<path d="M517.3,34.6 517.4,35.1 517.4,35.6 517.5,36.1 517.5,36.6 517.6,37.1 517.8,37.6 517.9,38.1 518,38.6 518.2,39.1 518.3,39.6 518.6,40.1 518.9,40.6 519.3,41.1 519.7,41.6 520.2,42.1 520.7,42.6 521.2,43.1 521.7,43.6 522.2,44.1 522.7,44.6 523.3,45.1 523.9,45.6 524.6,46.1 525.3,46.6 526,47.1 526.6,47.6 527.2,48.1 527.8,48.6 528.2,49.1 528.5,49.6 528.8,50.1 529,50.6 529.3,51.1 529.5,51.6 529.6,52.1 529.7,52.6 529.7,53.1 529.7,53.6 529.7,54.1 529.7,54.6 529.7,55.1 529.7,55.6 529.7,56.1 529.8,56.6 530,57.1 530.3,57.6 530.7,58.1 531.1,58.6 531.5,59.1 531.9,59.6 532.3,60.1 532.6,60.6 532.7,61.1 532.8,61.6 532.8,62.1 532.7,62.6 532.7,63.1 532.5,63.6 532.4,64.1 532.3,64.6 532.1,65.1 531.9,65.6 531.7,66.1 531.5,66.6 531.3,67.1 531,67.6 530.6,68.1 530.2,68.6 529.7,69.1 529.2,69.6 528.7,70.1 528.1,70.6 527.6,71.1 527.1,71.6 526.6,72.1 526.1,72.6 525.5,73.1 524.9,73.6 524.3,74.1 523.7,74.6 523.1,75.1 522.6,75.6 522,76.1 521.5,76.6 521.1,77.1 520.7,77.6 520.3,78.1 519.9,78.6 519.6,79.1 519.2,79.6 518.9,80.1 518.7,80.6 518.4,81.1 518.2,81.6 517.9,82.1 517.7,82.6 517.5,83.1 517.3,83.6 517.3,83.6 517.2,83.1 517,82.6 516.8,82.1 516.5,81.6 516.3,81.1 516,80.6 515.7,80.1 515.4,79.6 515.1,79.1 514.8,78.6 514.4,78.1 514,77.6 513.6,77.1 513.2,76.6 512.7,76.1 512.1,75.6 511.6,75.1 511,74.6 510.4,74.1 509.8,73.6 509.2,73.1 508.6,72.6 508.1,72.1 507.6,71.6 507.1,71.1 506.5,70.6 506,70.1 505.5,69.6 505,69.1 504.5,68.6 504.1,68.1 503.7,67.6 503.4,67.1 503.2,66.6 503,66.1 502.8,65.6 502.6,65.1 502.4,64.6 502.3,64.1 502.1,63.6 502,63.1 501.9,62.6 501.9,62.1 501.9,61.6 501.9,61.1 502.1,60.6 502.4,60.1 502.8,59.6 503.2,59.1 503.6,58.6 504,58.1 504.4,57.6 504.7,57.1 504.9,56.6 505,56.1 505,55.6 505,55.1 505,54.6 505,54.1 505,53.6 505,53.1 505,52.6 505.1,52.1 505.2,51.6 505.4,51.1 505.6,50.6 505.9,50.1 506.1,49.6 506.5,49.1 506.9,48.6 507.4,48.1 508.1,47.6 508.7,47.1 509.4,46.6 510.1,46.1 510.8,45.6 511.4,45.1 512,44.6 512.5,44.1 513,43.6 513.5,43.1 514,42.6 514.5,42.1 515,41.6 515.4,41.1 515.8,40.6 516.1,40.1 516.4,39.6 516.5,39.1 516.7,38.6 516.8,38.1 516.9,37.6 517.1,37.1 517.1,36.6 517.2,36.1 517.3,35.6 517.3,35.1 517.3,34.6Z" fill="#fbb4b4" stroke="#111" stroke-width="0.62" stroke-linejoin="round"/>
<rect x="480.73" y="91.64" width="4.81" height="17.19" fill="#a6d1fb" fill-opacity="0"/>
<path d="M483.14,74.97V91.64M483.14,108.83V126.02M480.73,91.64H485.55V108.83H480.73ZM480.73,100.23H485.55" fill="none" stroke="#1a1a1a" stroke-width="0.55"/>
<rect x="514.77" y="50.39" width="4.81" height="12.03" fill="#fbb4b4" fill-opacity="0"/>
<path d="M517.17,50.39V50.39M517.17,62.42V68.44M514.77,50.39H519.58V62.42H514.77ZM514.77,59.84H519.58" fill="none" stroke="#1a1a1a" stroke-width="0.55"/>
<path d="M482.97,99.38L516.48,61.56" stroke="#000" stroke-width="0.7" fill="none"/>
<circle cx="480.91" cy="74.97" r="1.85"/>
<circle cx="481.59" cy="78.75" r="1.85"/>
<circle cx="484.69" cy="89.92" r="1.85"/>
<circle cx="482.97" cy="96.8" r="1.85"/>
<circle cx="482.11" cy="99.38" r="1.85"/>
<circle cx="483.83" cy="101.09" r="1.85"/>
<circle cx="482.62" cy="103.67" r="1.85"/>
<circle cx="484.34" cy="108.83" r="1.85"/>
<circle cx="481.25" cy="110.55" r="1.85"/>
<circle cx="480.73" cy="126.02" r="1.85"/>
<circle cx="515.11" cy="50.39" r="1.85"/>
<circle cx="516.83" cy="50.39" r="1.85"/>
<circle cx="518.2" cy="59.84" r="1.85"/>
<circle cx="515.62" cy="62.42" r="1.85"/>
<circle cx="517.34" cy="60.7" r="1.85"/>
<circle cx="519.92" cy="68.44" r="1.85"/>
<rect x="481.02" y="97.42" width="3.9" height="3.9"/>
<rect x="514.53" y="59.61" width="3.9" height="3.9"/>
<rect x="463.2" y="15.67" width="74.42" height="12.55" fill="#fff" stroke="#2b2b2b" stroke-width="1.05"/>
<text x="500.41" y="25" font-size="6.9" fill="#333" text-anchor="middle">C_0149</text>
<path d="M463.2,28.22V153" stroke="#000" stroke-width="1.05" fill="none"/>
<path d="M460.9,51.25H463.2" stroke="#222" stroke-width="0.9"/>
<text x="458.4" y="53.81" font-size="7.1" fill="#333" stroke="#333" stroke-width="0.22" text-anchor="end">-8.4</text>
<path d="M460.9,82.7H463.2" stroke="#222" stroke-width="0.9"/>
<text x="458.4" y="85.26" font-size="7.1" fill="#333" stroke="#333" stroke-width="0.22" text-anchor="end">-8.8</text>
<path d="M460.9,114.33H463.2" stroke="#222" stroke-width="0.9"/>
<text x="458.4" y="116.88" font-size="7.1" fill="#333" stroke="#333" stroke-width="0.22" text-anchor="end">-9.2</text>
<path d="M460.9,146.12H463.2" stroke="#222" stroke-width="0.9"/>
<text x="458.4" y="148.68" font-size="7.1" fill="#333" stroke="#333" stroke-width="0.22" text-anchor="end">-9.6</text>
</g>
<g>
<path d="M583.5,51.2 583.6,51.8 583.7,52.2 583.8,52.8 583.9,53.2 584.1,53.8 584.2,54.2 584.3,54.8 584.5,55.2 584.7,55.8 584.8,56.2 585,56.8 585.2,57.2 585.4,57.8 585.7,58.2 585.9,58.8 586.2,59.2 586.5,59.8 586.7,60.2 587,60.8 587.2,61.2 587.4,61.8 587.6,62.2 587.7,62.8 587.8,63.2 587.8,63.8 587.9,64.2 587.9,64.8 588,65.2 588,65.8 588.1,66.2 588.1,66.8 588.1,67.2 588.1,67.8 588.1,68.2 588.1,68.8 588.1,69.2 588,69.8 587.9,70.2 587.7,70.8 587.6,71.2 587.4,71.8 587.2,72.2 587,72.8 586.9,73.2 586.7,73.8 586.6,74.2 586.5,74.8 586.4,75.2 586.4,75.8 586.3,76.2 586.3,76.8 586.2,77.2 586.2,77.8 586.1,78.2 586.1,78.8 586.1,79.2 586.1,79.8 586.1,80.2 586.1,80.8 586.2,81.2 586.4,81.8 586.7,82.2 587,82.8 587.4,83.2 587.8,83.8 588.3,84.2 588.7,84.8 589.2,85.2 589.6,85.8 590.1,86.2 590.7,86.8 591.3,87.2 592,87.8 592.7,88.2 593.4,88.8 594,89.2 594.6,89.8 595.1,90.2 595.5,90.8 595.8,91.2 596.2,91.8 596.5,92.2 596.8,92.8 597,93.2 597.2,93.8 597.2,94.2 597.2,94.8 597.1,95.2 596.9,95.8 596.7,96.2 596.5,96.8 596.2,97.2 596,97.8 595.7,98.2 595.4,98.8 594.9,99.2 594.4,99.8 593.8,100.2 593.2,100.8 592.5,101.2 591.8,101.8 591.1,102.2 590.5,102.8 589.9,103.2 589.4,103.8 589,104.2 588.6,104.8 588.2,105.2 587.7,105.8 587.4,106.2 587,106.8 586.7,107.2 586.4,107.8 586.2,108.2 586.1,108.8 586,109.2 585.9,109.8 585.8,110.2 585.7,110.8 585.7,111.2 585.6,111.8 585.6,112.2 585.6,112.8 585.5,113.2 585.6,113.8 585.7,114.2 585.8,114.8 586,115.2 586.1,115.8 586.2,116.2 586.3,116.8 586.4,117.2 586.4,117.8 586.3,118.2 586.3,118.8 586.1,119.2 586,119.8 585.9,120.2 585.7,120.8 585.6,121.2 585.4,121.8 585.3,122.2 585.2,122.8 585.2,123.2 585.2,123.8 585.2,124.2 585.3,124.8 585.4,125.2 585.5,125.8 585.6,126.2 585.7,126.8 585.8,127.2 585.9,127.8 586,128.2 586.1,128.8 586.2,129.2 586.4,129.8 586.5,130.2 586.7,130.8 586.8,131.2 587,131.8 587.1,132.2 587.2,132.8 587.2,133.2 587.3,133.8 587.2,134.2 587.2,134.8 587.1,135.2 587,135.8 586.9,136.2 586.7,136.8 586.6,137.2 586.4,137.8 586.3,138.2 586.1,138.8 586,139.2 585.8,139.8 585.6,140.2 585.5,140.8 585.3,141.2 585.1,141.8 584.9,142.2 584.8,142.8 584.6,143.2 584.4,143.8 584.3,144.2 584.2,144.8 584,145.2 583.9,145.8 583.8,146.2 583.7,146.8 583.5,147.2 583.5,147.5 583.5,147.5 583.4,147.2 583.3,146.8 583.2,146.2 583.1,145.8 582.9,145.2 582.8,144.8 582.7,144.2 582.5,143.8 582.4,143.2 582.2,142.8 582,142.2 581.9,141.8 581.7,141.2 581.5,140.8 581.3,140.2 581.2,139.8 581,139.2 580.9,138.8 580.7,138.2 580.6,137.8 580.4,137.2 580.3,136.8 580.1,136.2 580,135.8 579.9,135.2 579.8,134.8 579.7,134.2 579.7,133.8 579.7,133.2 579.8,132.8 579.9,132.2 580,131.8 580.2,131.2 580.3,130.8 580.5,130.2 580.6,129.8 580.8,129.2 580.9,128.8 581,128.2 581.1,127.8 581.2,127.2 581.3,126.8 581.4,126.2 581.5,125.8 581.6,125.2 581.7,124.8 581.7,124.2 581.8,123.8 581.8,123.2 581.7,122.8 581.6,122.2 581.5,121.8 581.4,121.2 581.3,120.8 581.1,120.2 581,119.8 580.8,119.2 580.7,118.8 580.6,118.2 580.6,117.8 580.6,117.2 580.6,116.8 580.7,116.2 580.9,115.8 581,115.2 581.1,114.8 581.3,114.2 581.4,113.8 581.4,113.2 581.4,112.8 581.4,112.2 581.4,111.8 581.3,111.2 581.2,110.8 581.2,110.2 581.1,109.8 581,109.2 580.9,108.8 580.7,108.2 580.5,107.8 580.3,107.2 580,106.8 579.6,106.2 579.2,105.8 578.8,105.2 578.4,104.8 578,104.2 577.5,103.8 577.1,103.2 576.5,102.8 575.9,102.2 575.2,101.8 574.5,101.2 573.8,100.8 573.2,100.2 572.6,99.8 572,99.2 571.6,98.8 571.3,98.2 571,97.8 570.7,97.2 570.5,96.8 570.2,96.2 570,95.8 569.9,95.2 569.8,94.8 569.7,94.2 569.8,93.8 569.9,93.2 570.2,92.8 570.5,92.2 570.8,91.8 571.1,91.2 571.5,90.8 571.9,90.2 572.4,89.8 573,89.2 573.6,88.8 574.3,88.2 575,87.8 575.6,87.2 576.3,86.8 576.9,86.2 577.4,85.8 577.8,85.2 578.2,84.8 578.7,84.2 579.1,83.8 579.6,83.2 580,82.8 580.3,82.2 580.6,81.8 580.8,81.2 580.9,80.8 580.9,80.2 580.9,79.8 580.9,79.2 580.9,78.8 580.8,78.2 580.8,77.8 580.7,77.2 580.7,76.8 580.7,76.2 580.6,75.8 580.6,75.2 580.5,74.8 580.4,74.2 580.2,73.8 580.1,73.2 579.9,72.8 579.7,72.2 579.6,71.8 579.4,71.2 579.2,70.8 579.1,70.2 579,69.8 578.9,69.2 578.9,68.8 578.8,68.2 578.9,67.8 578.9,67.2 578.9,66.8 578.9,66.2 579,65.8 579,65.2 579,64.8 579.1,64.2 579.1,63.8 579.2,63.2 579.3,62.8 579.4,62.2 579.6,61.8 579.8,61.2 580,60.8 580.3,60.2 580.5,59.8 580.8,59.2 581.1,58.8 581.3,58.2 581.6,57.8 581.8,57.2 582,56.8 582.2,56.2 582.3,55.8 582.5,55.2 582.6,54.8 582.8,54.2 582.9,53.8 583,53.2 583.2,52.8 583.3,52.2 583.4,51.8 583.5,51.2Z" fill="#a6d1fb" stroke="#111" stroke-width="0.62" stroke-linejoin="round"/>
<path d="M617.7,34.6 617.7,35.1 617.7,35.6 617.8,36.1 617.9,36.6 618,37.1 618.1,37.6 618.2,38.1 618.4,38.6 618.5,39.1 618.7,39.6 618.9,40.1 619.2,40.6 619.6,41.1 620,41.6 620.5,42.1 621,42.6 621.5,43.1 622,43.6 622.5,44.1 623.1,44.6 623.7,45.1 624.3,45.6 625.1,46.1 625.8,46.6 626.6,47.1 627.4,47.6 628.1,48.1 628.7,48.6 629.3,49.1 629.8,49.6 630.2,50.1 630.6,50.6 631,51.1 631.4,51.6 631.7,52.1 632.1,52.6 632.4,53.1 632.6,53.6 632.9,54.1 633,54.6 633.1,55.1 633.2,55.6 633.1,56.1 633,56.6 632.9,57.1 632.7,57.6 632.4,58.1 632.2,58.6 631.9,59.1 631.6,59.6 631.3,60.1 631.1,60.6 630.8,61.1 630.6,61.6 630.3,62.1 630,62.6 629.7,63.1 629.5,63.6 629.2,64.1 629.1,64.6 629,65.1 629,65.6 629.1,66.1 629.1,66.6 629.2,67.1 629.3,67.6 629.3,68.1 629.3,68.6 629.4,69.1 629.4,69.6 629.3,70.1 629.2,70.6 629,71.1 628.7,71.6 628.4,72.1 628.1,72.6 627.8,73.1 627.5,73.6 627.1,74.1 626.8,74.6 626.4,75.1 626.1,75.6 625.7,76.1 625.3,76.6 624.9,77.1 624.4,77.6 624,78.1 623.5,78.6 623.1,79.1 622.7,79.6 622.3,80.1 621.9,80.6 621.6,81.1 621.3,81.6 621,82.1 620.7,82.6 620.4,83.1 620.1,83.6 619.8,84.1 619.6,84.6 619.3,85.1 619.1,85.6 618.8,86.1 618.6,86.6 618.4,87.1 618.2,87.6 617.9,88.1 617.7,88.6 617.7,88.7 617.7,88.7 617.6,88.6 617.4,88.1 617.2,87.6 617,87.1 616.8,86.6 616.5,86.1 616.3,85.6 616,85.1 615.8,84.6 615.5,84.1 615.3,83.6 615,83.1 614.7,82.6 614.4,82.1 614.1,81.6 613.8,81.1 613.5,80.6 613.1,80.1 612.7,79.6 612.3,79.1 611.9,78.6 611.4,78.1 610.9,77.6 610.5,77.1 610,76.6 609.6,76.1 609.3,75.6 608.9,75.1 608.6,74.6 608.3,74.1 607.9,73.6 607.6,73.1 607.2,72.6 606.9,72.1 606.7,71.6 606.4,71.1 606.2,70.6 606.1,70.1 606,69.6 606,69.1 606,68.6 606.1,68.1 606.1,67.6 606.2,67.1 606.2,66.6 606.3,66.1 606.3,65.6 606.3,65.1 606.3,64.6 606.1,64.1 605.9,63.6 605.6,63.1 605.3,62.6 605.1,62.1 604.8,61.6 604.6,61.1 604.3,60.6 604,60.1 603.7,59.6 603.5,59.1 603.2,58.6 602.9,58.1 602.7,57.6 602.5,57.1 602.4,56.6 602.3,56.1 602.2,55.6 602.3,55.1 602.4,54.6 602.5,54.1 602.7,53.6 603,53.1 603.3,52.6 603.6,52.1 604,51.6 604.4,51.1 604.8,50.6 605.2,50.1 605.6,49.6 606.1,49.1 606.6,48.6 607.3,48.1 608,47.6 608.8,47.1 609.5,46.6 610.3,46.1 611,45.6 611.7,45.1 612.3,44.6 612.8,44.1 613.4,43.6 613.9,43.1 614.4,42.6 614.9,42.1 615.3,41.6 615.8,41.1 616.1,40.6 616.5,40.1 616.7,39.6 616.9,39.1 617,38.6 617.2,38.1 617.3,37.6 617.4,37.1 617.5,36.6 617.6,36.1 617.6,35.6 617.7,35.1 617.7,34.6Z" fill="#fbb4b4" stroke="#111" stroke-width="0.62" stroke-linejoin="round"/>
<rect x="581.25" y="90.78" width="5.16" height="8.59" fill="#a6d1fb" fill-opacity="0"/>
<path d="M583.83,89.06V90.78M583.83,99.38V100.23M581.25,90.78H586.41V99.38H581.25ZM581.25,95.08H586.41" fill="none" stroke="#1a1a1a" stroke-width="0.55"/>
<rect x="615.62" y="56.41" width="4.81" height="11.17" fill="#fbb4b4" fill-opacity="0"/>
<path d="M618.03,50.73V56.41M618.03,67.58V72.73M615.62,56.41H620.44V67.58H615.62ZM615.62,60.7H620.44" fill="none" stroke="#1a1a1a" stroke-width="0.55"/>
<path d="M584.34,95.08L617.86,60.7" stroke="#000" stroke-width="0.7" fill="none"/>
<circle cx="581.77" cy="64.66" r="1.85"/>
<circle cx="584.34" cy="72.39" r="1.85"/>
<circle cx="585.03" cy="89.06" r="1.85"/>
<circle cx="582.97" cy="90.78" r="1.85"/>
<circle cx="584.69" cy="94.22" r="1.85"/>
<circle cx="582.62" cy="95.94" r="1.85"/>
<circle cx="581.25" cy="98.52" r="1.85"/>
<circle cx="582.11" cy="100.23" r="1.85"/>
<circle cx="581.77" cy="116.56" r="1.85"/>
<circle cx="585.03" cy="133.75" r="1.85"/>
<circle cx="617" cy="50.73" r="1.85"/>
<circle cx="615.62" cy="56.41" r="1.85"/>
<circle cx="620.44" cy="67.58" r="1.85"/>
<circle cx="618.72" cy="72.73" r="1.85"/>
<circle cx="617.34" cy="59.84" r="1.85"/>
<rect x="582.39" y="93.13" width="3.9" height="3.9"/>
<rect x="615.91" y="58.75" width="3.9" height="3.9"/>
<rect x="563.55" y="15.67" width="74.42" height="12.55" fill="#fff" stroke="#2b2b2b" stroke-width="1.05"/>
<text x="600.75" y="25" font-size="6.9" fill="#333" text-anchor="middle">C_0042</text>
<path d="M563.55,28.22V153" stroke="#000" stroke-width="1.05" fill="none"/>
<path d="M561.25,62.94H563.55" stroke="#222" stroke-width="0.9"/>
<text x="558.75" y="65.49" font-size="7.1" fill="#333" stroke="#333" stroke-width="0.22" text-anchor="end">-9.5</text>
<path d="M561.25,98.52H563.55" stroke="#222" stroke-width="0.9"/>
<text x="558.75" y="101.07" font-size="7.1" fill="#333" stroke="#333" stroke-width="0.22" text-anchor="end">-10.0</text>
<path d="M561.25,134.09H563.55" stroke="#222" stroke-width="0.9"/>
<text x="558.75" y="136.65" font-size="7.1" fill="#333" stroke="#333" stroke-width="0.22" text-anchor="end">-10.5</text>
</g>
<g>
<path d="M85,180.1 85,180.6 85,181.1 85,181.6 85.1,182.1 85.1,182.6 85.1,183.1 85.1,183.6 85.1,184.1 85.1,184.6 85.1,185.1 85.2,185.6 85.2,186.1 85.2,186.6 85.2,187.1 85.2,187.6 85.3,188.1 85.3,188.6 85.3,189.1 85.4,189.6 85.4,190.1 85.4,190.6 85.4,191.1 85.5,191.6 85.5,192.1 85.5,192.6 85.6,193.1 85.6,193.6 85.6,194.1 85.7,194.6 85.7,195.1 85.8,195.6 85.8,196.1 85.8,196.6 85.9,197.1 86,197.6 86,198.1 86.1,198.6 86.1,199.1 86.2,199.6 86.2,200.1 86.3,200.6 86.4,201.1 86.4,201.6 86.5,202.1 86.5,202.6 86.6,203.1 86.6,203.6 86.7,204.1 86.8,204.6 86.8,205.1 86.9,205.6 86.9,206.1 87,206.6 87.1,207.1 87.1,207.6 87.2,208.1 87.2,208.6 87.3,209.1 87.4,209.6 87.4,210.1 87.5,210.6 87.5,211.1 87.6,211.6 87.7,212.1 87.7,212.6 87.8,213.1 87.9,213.6 87.9,214.1 88,214.6 88,215.1 88.1,215.6 88.2,216.1 88.2,216.6 88.3,217.1 88.3,217.6 88.4,218.1 88.4,218.6 88.5,219.1 88.6,219.6 88.6,220.1 88.7,220.6 88.7,221.1 88.8,221.6 88.8,222.1 88.9,222.6 88.9,223.1 89,223.6 89,224.1 89.1,224.6 89.1,225.1 89.2,225.6 89.2,226.1 89.3,226.6 89.3,227.1 89.4,227.6 89.4,228.1 89.4,228.6 89.5,229.1 89.5,229.6 89.6,230.1 89.6,230.6 89.7,231.1 89.7,231.6 89.8,232.1 89.8,232.6 89.9,233.1 89.9,233.6 90,234.1 90,234.6 90.1,235.1 90.1,235.6 90.2,236.1 90.3,236.6 90.3,237.1 90.4,237.6 90.5,238.1 90.6,238.6 90.6,239.1 90.7,239.6 90.8,240.1 90.9,240.6 90.9,241.1 91,241.6 91.1,242.1 91.2,242.6 91.2,243.1 91.3,243.6 91.3,244.1 91.4,244.6 91.4,245.1 91.5,245.6 91.5,246.1 91.6,246.6 91.6,247.1 91.7,247.6 91.7,248.1 91.8,248.6 91.8,249.1 91.9,249.6 91.9,250.1 91.9,250.6 91.9,251.1 91.9,251.6 91.9,252.1 91.9,252.6 91.8,253.1 91.8,253.6 91.8,254.1 91.7,254.6 91.7,255.1 91.6,255.6 91.5,256.1 91.5,256.6 91.4,257.1 91.3,257.6 91.2,258.1 91.2,258.6 91.1,259.1 91,259.6 90.9,260.1 90.7,260.6 90.6,261.1 90.5,261.6 90.3,262.1 90.2,262.6 90,263.1 89.8,263.6 89.7,264.1 89.5,264.6 89.4,265.1 89.2,265.6 89,266.1 88.9,266.6 88.8,267.1 88.6,267.6 88.5,268.1 88.3,268.6 88.1,269.1 88,269.6 87.8,270.1 87.7,270.6 87.5,271.1 87.4,271.6 87.2,272.1 87.1,272.6 86.9,273.1 86.8,273.6 86.7,274.1 86.6,274.6 86.5,275.1 86.4,275.6 86.3,276.1 86.2,276.6 86.2,277.1 86.1,277.6 86,278.1 86,278.6 85.9,279.1 85.8,279.6 85.8,280.1 85.7,280.6 85.7,281.1 85.6,281.6 85.6,282.1 85.5,282.6 85.5,283.1 85.4,283.6 85.4,284.1 85.3,284.6 85.3,285.1 85.3,285.6 85.2,286.1 85.2,286.6 85.2,287.1 85.1,287.6 85.1,288.1 85.1,288.6 85,289.1 85,289.2 85,289.2 85,289.1 85,288.6 85,288.1 84.9,287.6 84.9,287.1 84.9,286.6 84.8,286.1 84.8,285.6 84.8,285.1 84.7,284.6 84.7,284.1 84.6,283.6 84.6,283.1 84.5,282.6 84.5,282.1 84.4,281.6 84.4,281.1 84.3,280.6 84.3,280.1 84.2,279.6 84.2,279.1 84.1,278.6 84,278.1 84,277.6 83.9,277.1 83.8,276.6 83.8,276.1 83.7,275.6 83.6,275.1 83.5,274.6 83.4,274.1 83.3,273.6 83.1,273.1 83,272.6 82.8,272.1 82.7,271.6 82.5,271.1 82.4,270.6 82.2,270.1 82.1,269.6 81.9,269.1 81.8,268.6 81.6,268.1 81.5,267.6 81.3,267.1 81.2,266.6 81,266.1 80.9,265.6 80.7,265.1 80.5,264.6 80.4,264.1 80.2,263.6 80.1,263.1 79.9,262.6 79.7,262.1 79.6,261.6 79.5,261.1 79.3,260.6 79.2,260.1 79.1,259.6 79,259.1 78.9,258.6 78.8,258.1 78.7,257.6 78.7,257.1 78.6,256.6 78.5,256.1 78.5,255.6 78.4,255.1 78.3,254.6 78.3,254.1 78.3,253.6 78.2,253.1 78.2,252.6 78.2,252.1 78.2,251.6 78.2,251.1 78.2,250.6 78.2,250.1 78.2,249.6 78.2,249.1 78.3,248.6 78.3,248.1 78.4,247.6 78.4,247.1 78.5,246.6 78.5,246.1 78.6,245.6 78.6,245.1 78.7,244.6 78.7,244.1 78.8,243.6 78.8,243.1 78.9,242.6 79,242.1 79,241.6 79.1,241.1 79.2,240.6 79.3,240.1 79.4,239.6 79.4,239.1 79.5,238.6 79.6,238.1 79.7,237.6 79.7,237.1 79.8,236.6 79.9,236.1 79.9,235.6 80,235.1 80,234.6 80.1,234.1 80.1,233.6 80.2,233.1 80.2,232.6 80.3,232.1 80.3,231.6 80.4,231.1 80.4,230.6 80.5,230.1 80.5,229.6 80.6,229.1 80.6,228.6 80.7,228.1 80.7,227.6 80.8,227.1 80.8,226.6 80.9,226.1 80.9,225.6 81,225.1 81,224.6 81.1,224.1 81.1,223.6 81.2,223.1 81.2,222.6 81.2,222.1 81.3,221.6 81.3,221.1 81.4,220.6 81.5,220.1 81.5,219.6 81.6,219.1 81.6,218.6 81.7,218.1 81.7,217.6 81.8,217.1 81.8,216.6 81.9,216.1 82,215.6 82,215.1 82.1,214.6 82.1,214.1 82.2,213.6 82.3,213.1 82.3,212.6 82.4,212.1 82.5,211.6 82.5,211.1 82.6,210.6 82.6,210.1 82.7,209.6 82.8,209.1 82.8,208.6 82.9,208.1 82.9,207.6 83,207.1 83.1,206.6 83.1,206.1 83.2,205.6 83.2,205.1 83.3,204.6 83.4,204.1 83.4,203.6 83.5,203.1 83.5,202.6 83.6,202.1 83.7,201.6 83.7,201.1 83.8,200.6 83.8,200.1 83.9,199.6 83.9,199.1 84,198.6 84.1,198.1 84.1,197.6 84.2,197.1 84.2,196.6 84.3,196.1 84.3,195.6 84.4,195.1 84.4,194.6 84.4,194.1 84.5,193.6 84.5,193.1 84.5,192.6 84.6,192.1 84.6,191.6 84.6,191.1 84.7,190.6 84.7,190.1 84.7,189.6 84.7,189.1 84.8,188.6 84.8,188.1 84.8,187.6 84.8,187.1 84.9,186.6 84.9,186.1 84.9,185.6 84.9,185.1 84.9,184.6 85,184.1 85,183.6 85,183.1 85,182.6 85,182.1 85,181.6 85,181.1 85,180.6 85,180.1Z" fill="#a6d1fb" stroke="#111" stroke-width="0.62" stroke-linejoin="round"/>
<path d="M119.1,176.6 119.1,177.1 119.2,177.6 119.3,178.1 119.4,178.6 119.6,179.1 119.8,179.6 119.9,180.1 120.2,180.6 120.6,181.1 121,181.6 121.6,182.1 122.1,182.6 122.7,183.1 123.3,183.6 123.9,184.1 124.5,184.6 125.2,185.1 125.9,185.6 126.7,186.1 127.4,186.6 128.2,187.1 128.9,187.6 129.6,188.1 130.2,188.6 130.8,189.1 131.4,189.6 132,190.1 132.6,190.6 133.2,191.1 133.7,191.6 134.1,192.1 134.4,192.6 134.5,193.1 134.5,193.6 134.3,194.1 134,194.6 133.5,195.1 133,195.6 132.5,196.1 131.9,196.6 131.3,197.1 130.7,197.6 130.2,198.1 129.7,198.6 129.2,199.1 128.6,199.6 128,200.1 127.4,200.6 126.8,201.1 126.3,201.6 125.8,202.1 125.4,202.6 125.1,203.1 124.9,203.6 124.8,204.1 124.6,204.6 124.4,205.1 124.3,205.6 124.3,206.1 124.2,206.6 124.3,207.1 124.4,207.6 124.5,208.1 124.7,208.6 124.9,209.1 125.1,209.6 125.3,210.1 125.4,210.6 125.4,211.1 125.4,211.6 125.3,212.1 125.1,212.6 124.9,213.1 124.7,213.6 124.5,214.1 124.2,214.6 124,215.1 123.7,215.6 123.3,216.1 122.9,216.6 122.4,217.1 122,217.6 121.6,218.1 121.2,218.6 120.9,219.1 120.6,219.6 120.3,220.1 120.1,220.6 119.8,221.1 119.6,221.6 119.4,222.1 119.2,222.6 119.1,223 119.1,223 118.9,222.6 118.7,222.1 118.5,221.6 118.3,221.1 118.1,220.6 117.8,220.1 117.5,219.6 117.2,219.1 116.9,218.6 116.6,218.1 116.1,217.6 115.7,217.1 115.2,216.6 114.8,216.1 114.4,215.6 114.2,215.1 113.9,214.6 113.7,214.1 113.4,213.6 113.2,213.1 113,212.6 112.9,212.1 112.8,211.6 112.7,211.1 112.7,210.6 112.8,210.1 113,209.6 113.2,209.1 113.4,208.6 113.6,208.1 113.8,207.6 113.9,207.1 113.9,206.6 113.9,206.1 113.8,205.6 113.7,205.1 113.5,204.6 113.4,204.1 113.2,203.6 113,203.1 112.7,202.6 112.3,202.1 111.9,201.6 111.3,201.1 110.8,200.6 110.2,200.1 109.6,199.6 109,199.1 108.4,198.6 107.9,198.1 107.4,197.6 106.8,197.1 106.2,196.6 105.7,196.1 105.1,195.6 104.6,195.1 104.1,194.6 103.8,194.1 103.6,193.6 103.6,193.1 103.7,192.6 104,192.1 104.4,191.6 104.9,191.1 105.5,190.6 106.1,190.1 106.7,189.6 107.3,189.1 107.9,188.6 108.5,188.1 109.2,187.6 109.9,187.1 110.7,186.6 111.5,186.1 112.2,185.6 112.9,185.1 113.6,184.6 114.2,184.1 114.8,183.6 115.4,183.1 116,182.6 116.6,182.1 117.1,181.6 117.5,181.1 117.9,180.6 118.2,180.1 118.4,179.6 118.6,179.1 118.7,178.6 118.9,178.1 119,177.6 119,177.1 119.1,176.6Z" fill="#fbb4b4" stroke="#111" stroke-width="0.62" stroke-linejoin="round"/>
<rect x="82.62" y="230.78" width="4.98" height="24.92" fill="#a6d1fb" fill-opacity="0"/>
<path d="M85.12,224.77V230.78M85.12,255.7V260M82.62,230.78H87.61V255.7H82.62ZM82.62,245.39H87.61" fill="none" stroke="#1a1a1a" stroke-width="0.55"/>
<rect x="116.83" y="192.11" width="4.81" height="9.45" fill="#fbb4b4" fill-opacity="0"/>
<path d="M119.23,187.81V192.11M119.23,201.56V211.02M116.83,192.11H121.64V201.56H116.83ZM116.83,196.41H121.64" fill="none" stroke="#1a1a1a" stroke-width="0.55"/>
<path d="M85.55,242.81L119.41,196.41" stroke="#000" stroke-width="0.7" fill="none"/>
<circle cx="82.97" cy="209.3" r="1.85"/>
<circle cx="85.03" cy="224.77" r="1.85"/>
<circle cx="82.97" cy="227.34" r="1.85"/>
<circle cx="86.06" cy="240.23" r="1.85"/>
<circle cx="84.34" cy="243.67" r="1.85"/>
<circle cx="82.97" cy="249.34" r="1.85"/>
<circle cx="86.06" cy="249.69" r="1.85"/>
<circle cx="82.97" cy="257.94" r="1.85"/>
<circle cx="85.03" cy="260" r="1.85"/>
<circle cx="86.41" cy="260" r="1.85"/>
<circle cx="121.64" cy="187.81" r="1.85"/>
<circle cx="116.83" cy="192.62" r="1.85"/>
<circle cx="118.2" cy="195.03" r="1.85"/>
<circle cx="119.92" cy="196.41" r="1.85"/>
<circle cx="119.06" cy="199.84" r="1.85"/>
<circle cx="117.34" cy="211.02" r="1.85"/>
<rect x="83.6" y="240.86" width="3.9" height="3.9"/>
<rect x="117.46" y="194.46" width="3.9" height="3.9"/>
<rect x="64.92" y="157.73" width="74.07" height="12.89" fill="#fff" stroke="#2b2b2b" stroke-width="1.05"/>
<text x="101.96" y="167" font-size="6.9" fill="#333" text-anchor="middle">C_0017</text>
<path d="M64.92,170.62V295.23" stroke="#000" stroke-width="1.05" fill="none"/>
<path d="M62.62,198.12H64.92" stroke="#222" stroke-width="0.9"/>
<text x="60.12" y="200.68" font-size="7.1" fill="#333" stroke="#333" stroke-width="0.22" text-anchor="end">-8.4</text>
<path d="M62.62,230.27H64.92" stroke="#222" stroke-width="0.9"/>
<text x="60.12" y="232.82" font-size="7.1" fill="#333" stroke="#333" stroke-width="0.22" text-anchor="end">-8.6</text>
<path d="M62.62,262.23H64.92" stroke="#222" stroke-width="0.9"/>
<text x="60.12" y="264.79" font-size="7.1" fill="#333" stroke="#333" stroke-width="0.22" text-anchor="end">-8.8</text>
<path d="M62.62,294.38H64.92" stroke="#222" stroke-width="0.9"/>
<text x="60.12" y="296.93" font-size="7.1" fill="#333" stroke="#333" stroke-width="0.22" text-anchor="end">-9.0</text>
</g>
<g>
<path d="M185.5,203.3 185.6,203.8 185.6,204.3 185.7,204.8 185.7,205.3 185.8,205.8 185.9,206.3 186,206.8 186,207.3 186.1,207.8 186.2,208.3 186.3,208.8 186.4,209.3 186.5,209.8 186.7,210.3 186.8,210.8 187,211.3 187.2,211.8 187.3,212.3 187.5,212.8 187.6,213.3 187.8,213.8 187.9,214.3 188,214.8 188.1,215.3 188.2,215.8 188.3,216.3 188.4,216.8 188.5,217.3 188.6,217.8 188.6,218.3 188.7,218.8 188.8,219.3 188.8,219.8 188.9,220.3 188.9,220.8 189,221.3 189,221.8 189,222.3 189,222.8 188.9,223.3 188.9,223.8 188.9,224.3 188.8,224.8 188.8,225.3 188.7,225.8 188.7,226.3 188.6,226.8 188.6,227.3 188.5,227.8 188.5,228.3 188.5,228.8 188.5,229.3 188.5,229.8 188.6,230.3 188.8,230.8 189,231.3 189.2,231.8 189.4,232.3 189.7,232.8 190,233.3 190.3,233.8 190.6,234.3 190.9,234.8 191.2,235.3 191.5,235.8 191.7,236.3 192,236.8 192.3,237.3 192.7,237.8 193,238.3 193.3,238.8 193.6,239.3 194,239.8 194.3,240.3 194.6,240.8 195,241.3 195.3,241.8 195.6,242.3 195.8,242.8 196.1,243.3 196.4,243.8 196.6,244.3 196.9,244.8 197.2,245.3 197.4,245.8 197.7,246.3 197.9,246.8 198.1,247.3 198.4,247.8 198.5,248.3 198.7,248.8 198.9,249.3 199,249.8 199.1,250.3 199.2,250.8 199.3,251.3 199.4,251.8 199.5,252.3 199.6,252.8 199.6,253.3 199.7,253.8 199.7,254.3 199.8,254.8 199.8,255.3 199.8,255.8 199.8,256.3 199.7,256.8 199.7,257.3 199.6,257.8 199.5,258.3 199.3,258.8 199.2,259.3 199.1,259.8 198.9,260.3 198.7,260.8 198.6,261.3 198.4,261.8 198.2,262.3 198,262.8 197.8,263.3 197.5,263.8 197.3,264.3 197,264.8 196.7,265.3 196.4,265.8 196,266.3 195.7,266.8 195.3,267.3 195,267.8 194.6,268.3 194.3,268.8 194,269.3 193.6,269.8 193.3,270.3 193,270.8 192.6,271.3 192.3,271.8 191.9,272.3 191.5,272.8 191.1,273.3 190.8,273.8 190.4,274.3 190,274.8 189.7,275.3 189.4,275.8 189.1,276.3 188.8,276.8 188.6,277.3 188.4,277.8 188.2,278.3 188,278.8 187.8,279.3 187.6,279.8 187.4,280.3 187.3,280.8 187.1,281.3 187,281.8 186.8,282.3 186.7,282.8 186.6,283.3 186.5,283.8 186.4,284.3 186.3,284.8 186.2,285.3 186.1,285.8 186,286.3 185.9,286.8 185.8,287.3 185.7,287.8 185.7,288.3 185.6,288.8 185.5,289.2 185.5,289.2 185.5,288.8 185.4,288.3 185.4,287.8 185.3,287.3 185.2,286.8 185.1,286.3 185,285.8 184.9,285.3 184.8,284.8 184.7,284.3 184.6,283.8 184.5,283.3 184.4,282.8 184.3,282.3 184.1,281.8 184,281.3 183.8,280.8 183.6,280.3 183.5,279.8 183.3,279.3 183.1,278.8 182.9,278.3 182.7,277.8 182.5,277.3 182.3,276.8 182,276.3 181.7,275.8 181.4,275.3 181,274.8 180.7,274.3 180.3,273.8 180,273.3 179.6,272.8 179.2,272.3 178.8,271.8 178.5,271.3 178.1,270.8 177.8,270.3 177.5,269.8 177.1,269.3 176.8,268.8 176.4,268.3 176.1,267.8 175.8,267.3 175.4,266.8 175.1,266.3 174.7,265.8 174.4,265.3 174.1,264.8 173.8,264.3 173.5,263.8 173.3,263.3 173.1,262.8 172.9,262.3 172.7,261.8 172.5,261.3 172.4,260.8 172.2,260.3 172,259.8 171.9,259.3 171.7,258.8 171.6,258.3 171.5,257.8 171.4,257.3 171.3,256.8 171.3,256.3 171.3,255.8 171.3,255.3 171.3,254.8 171.3,254.3 171.4,253.8 171.5,253.3 171.5,252.8 171.6,252.3 171.7,251.8 171.8,251.3 171.9,250.8 172,250.3 172.1,249.8 172.2,249.3 172.4,248.8 172.5,248.3 172.7,247.8 172.9,247.3 173.2,246.8 173.4,246.3 173.7,245.8 173.9,245.3 174.2,244.8 174.4,244.3 174.7,243.8 175,243.3 175.3,242.8 175.5,242.3 175.8,241.8 176.1,241.3 176.4,240.8 176.8,240.3 177.1,239.8 177.4,239.3 177.8,238.8 178.1,238.3 178.4,237.8 178.8,237.3 179.1,236.8 179.3,236.3 179.6,235.8 179.9,235.3 180.2,234.8 180.5,234.3 180.8,233.8 181.1,233.3 181.4,232.8 181.6,232.3 181.9,231.8 182.1,231.3 182.3,230.8 182.5,230.3 182.6,229.8 182.6,229.3 182.6,228.8 182.6,228.3 182.6,227.8 182.5,227.3 182.5,226.8 182.4,226.3 182.4,225.8 182.3,225.3 182.3,224.8 182.2,224.3 182.2,223.8 182.1,223.3 182.1,222.8 182.1,222.3 182.1,221.8 182.1,221.3 182.2,220.8 182.2,220.3 182.3,219.8 182.3,219.3 182.4,218.8 182.5,218.3 182.5,217.8 182.6,217.3 182.7,216.8 182.8,216.3 182.9,215.8 183,215.3 183.1,214.8 183.2,214.3 183.3,213.8 183.5,213.3 183.6,212.8 183.8,212.3 183.9,211.8 184.1,211.3 184.3,210.8 184.4,210.3 184.6,209.8 184.7,209.3 184.8,208.8 184.9,208.3 185,207.8 185.1,207.3 185.1,206.8 185.2,206.3 185.3,205.8 185.3,205.3 185.4,204.8 185.5,204.3 185.5,203.8 185.5,203.3Z" fill="#a6d1fb" stroke="#111" stroke-width="0.62" stroke-linejoin="round"/>
<path d="M219.4,176.6 219.5,177.1 219.6,177.6 219.7,178.1 219.8,178.6 219.9,179.1 220,179.6 220.1,180.1 220.2,180.6 220.4,181.1 220.5,181.6 220.6,182.1 220.8,182.6 220.9,183.1 221.1,183.6 221.3,184.1 221.5,184.6 221.7,185.1 222,185.6 222.2,186.1 222.4,186.6 222.7,187.1 222.9,187.6 223.1,188.1 223.3,188.6 223.6,189.1 223.7,189.6 223.9,190.1 224.1,190.6 224.3,191.1 224.5,191.6 224.6,192.1 224.8,192.6 224.9,193.1 225.1,193.6 225.3,194.1 225.4,194.6 225.6,195.1 225.7,195.6 225.9,196.1 226,196.6 226.1,197.1 226.3,197.6 226.4,198.1 226.5,198.6 226.6,199.1 226.7,199.6 226.8,200.1 227,200.6 227.1,201.1 227.2,201.6 227.3,202.1 227.5,202.6 227.6,203.1 227.8,203.6 227.9,204.1 228.1,204.6 228.3,205.1 228.5,205.6 228.7,206.1 229,206.6 229.2,207.1 229.4,207.6 229.6,208.1 229.9,208.6 230.1,209.1 230.3,209.6 230.6,210.1 230.8,210.6 231.1,211.1 231.3,211.6 231.6,212.1 231.9,212.6 232.2,213.1 232.5,213.6 232.8,214.1 233,214.6 233.3,215.1 233.5,215.6 233.7,216.1 233.9,216.6 234,217.1 234.2,217.6 234.3,218.1 234.5,218.6 234.6,219.1 234.7,219.6 234.8,220.1 234.8,220.6 234.9,221.1 234.9,221.6 234.8,222.1 234.8,222.6 234.7,223.1 234.6,223.6 234.4,224.1 234.3,224.6 234.2,225.1 234,225.6 233.8,226.1 233.6,226.6 233.3,227.1 233,227.6 232.6,228.1 232.2,228.6 231.8,229.1 231.3,229.6 230.9,230.1 230.5,230.6 230,231.1 229.6,231.6 229.1,232.1 228.7,232.6 228.3,233.1 227.9,233.6 227.5,234.1 227.1,234.6 226.6,235.1 226.2,235.6 225.7,236.1 225.3,236.6 224.9,237.1 224.5,237.6 224.1,238.1 223.7,238.6 223.3,239.1 223,239.6 222.7,240.1 222.4,240.6 222.1,241.1 221.9,241.6 221.6,242.1 221.3,242.6 221.1,243.1 220.8,243.6 220.5,244.1 220.3,244.6 220,245.1 219.7,245.6 219.5,246.1 219.4,246.2 219.4,246.2 219.3,246.1 219.1,245.6 218.8,245.1 218.6,244.6 218.3,244.1 218,243.6 217.7,243.1 217.5,242.6 217.2,242.1 217,241.6 216.7,241.1 216.4,240.6 216.1,240.1 215.8,239.6 215.5,239.1 215.1,238.6 214.7,238.1 214.3,237.6 213.9,237.1 213.5,236.6 213.1,236.1 212.6,235.6 212.2,235.1 211.8,234.6 211.3,234.1 210.9,233.6 210.5,233.1 210.1,232.6 209.7,232.1 209.2,231.6 208.8,231.1 208.4,230.6 207.9,230.1 207.5,229.6 207,229.1 206.6,228.6 206.2,228.1 205.8,227.6 205.5,227.1 205.2,226.6 205,226.1 204.8,225.6 204.7,225.1 204.5,224.6 204.4,224.1 204.2,223.6 204.1,223.1 204,222.6 204,222.1 203.9,221.6 203.9,221.1 204,220.6 204,220.1 204.1,219.6 204.2,219.1 204.4,218.6 204.5,218.1 204.6,217.6 204.8,217.1 204.9,216.6 205.1,216.1 205.3,215.6 205.5,215.1 205.8,214.6 206.1,214.1 206.3,213.6 206.6,213.1 206.9,212.6 207.2,212.1 207.5,211.6 207.7,211.1 208,210.6 208.2,210.1 208.5,209.6 208.7,209.1 208.9,208.6 209.2,208.1 209.4,207.6 209.6,207.1 209.9,206.6 210.1,206.1 210.3,205.6 210.5,205.1 210.7,204.6 210.9,204.1 211,203.6 211.2,203.1 211.3,202.6 211.5,202.1 211.6,201.6 211.7,201.1 211.9,200.6 212,200.1 212.1,199.6 212.2,199.1 212.3,198.6 212.4,198.1 212.6,197.6 212.7,197.1 212.8,196.6 213,196.1 213.1,195.6 213.2,195.1 213.4,194.6 213.5,194.1 213.7,193.6 213.9,193.1 214,192.6 214.2,192.1 214.4,191.6 214.5,191.1 214.7,190.6 214.9,190.1 215.1,189.6 215.3,189.1 215.5,188.6 215.7,188.1 215.9,187.6 216.1,187.1 216.4,186.6 216.6,186.1 216.8,185.6 217.1,185.1 217.3,184.6 217.5,184.1 217.7,183.6 217.9,183.1 218,182.6 218.2,182.1 218.3,181.6 218.5,181.1 218.6,180.6 218.7,180.1 218.8,179.6 219,179.1 219.1,178.6 219.2,178.1 219.3,177.6 219.3,177.1 219.4,176.6Z" fill="#fbb4b4" stroke="#111" stroke-width="0.62" stroke-linejoin="round"/>
<rect x="182.97" y="243.67" width="5.16" height="16.33" fill="#a6d1fb" fill-opacity="0"/>
<path d="M185.55,222.19V243.67M185.55,260V270.31M182.97,243.67H188.12V260H182.97ZM182.97,253.12H188.12" fill="none" stroke="#1a1a1a" stroke-width="0.55"/>
<rect x="216.83" y="211.02" width="5.16" height="12.03" fill="#fbb4b4" fill-opacity="0"/>
<path d="M219.41,196.06V211.02M219.41,223.05V228.2M216.83,211.02H221.98V223.05H216.83ZM216.83,216.17H221.98" fill="none" stroke="#1a1a1a" stroke-width="0.55"/>
<path d="M185.2,252.27L219.06,216.17" stroke="#000" stroke-width="0.7" fill="none"/>
<circle cx="183.48" cy="222.19" r="1.85"/>
<circle cx="184.69" cy="243.67" r="1.85"/>
<circle cx="186.41" cy="244.19" r="1.85"/>
<circle cx="184.34" cy="250.55" r="1.85"/>
<circle cx="186.06" cy="253.12" r="1.85"/>
<circle cx="183.48" cy="254.84" r="1.85"/>
<circle cx="185.55" cy="257.42" r="1.85"/>
<circle cx="182.97" cy="260.86" r="1.85"/>
<circle cx="186.75" cy="260" r="1.85"/>
<circle cx="187.27" cy="263.44" r="1.85"/>
<circle cx="186.92" cy="270.31" r="1.85"/>
<circle cx="218.72" cy="195.89" r="1.85"/>
<circle cx="222.5" cy="210.67" r="1.85"/>
<circle cx="219.06" cy="214.97" r="1.85"/>
<circle cx="220.44" cy="217.03" r="1.85"/>
<circle cx="218.2" cy="218.75" r="1.85"/>
<circle cx="220.44" cy="223.91" r="1.85"/>
<circle cx="217.69" cy="228.2" r="1.85"/>
<rect x="183.25" y="250.32" width="3.9" height="3.9"/>
<rect x="217.11" y="214.22" width="3.9" height="3.9"/>
<rect x="165.44" y="157.73" width="73.9" height="12.89" fill="#fff" stroke="#2b2b2b" stroke-width="1.05"/>
<text x="202.39" y="167" font-size="6.9" fill="#333" text-anchor="middle">C_0012</text>
<path d="M165.44,170.62V295.23" stroke="#000" stroke-width="1.05" fill="none"/>
<path d="M163.14,191.77H165.44" stroke="#222" stroke-width="0.9"/>
<text x="160.64" y="194.32" font-size="7.1" fill="#333" stroke="#333" stroke-width="0.22" text-anchor="end">-7.50</text>
<path d="M163.14,219.27H165.44" stroke="#222" stroke-width="0.9"/>
<text x="160.64" y="221.82" font-size="7.1" fill="#333" stroke="#333" stroke-width="0.22" text-anchor="end">-7.75</text>
<path d="M163.14,246.77H165.44" stroke="#222" stroke-width="0.9"/>
<text x="160.64" y="249.32" font-size="7.1" fill="#333" stroke="#333" stroke-width="0.22" text-anchor="end">-8.00</text>
<path d="M163.14,274.27H165.44" stroke="#222" stroke-width="0.9"/>
<text x="160.64" y="276.82" font-size="7.1" fill="#333" stroke="#333" stroke-width="0.22" text-anchor="end">-8.25</text>
</g>
<g>
<path d="M286.1,176.6 286.1,177.1 286.1,177.6 286.1,178.1 286.1,178.6 286.2,179.1 286.2,179.6 286.2,180.1 286.2,180.6 286.3,181.1 286.3,181.6 286.4,182.1 286.4,182.6 286.5,183.1 286.5,183.6 286.6,184.1 286.6,184.6 286.7,185.1 286.7,185.6 286.8,186.1 286.9,186.6 287,187.1 287.1,187.6 287.1,188.1 287.2,188.6 287.3,189.1 287.4,189.6 287.6,190.1 287.7,190.6 287.8,191.1 287.9,191.6 288,192.1 288.1,192.6 288.2,193.1 288.3,193.6 288.4,194.1 288.5,194.6 288.6,195.1 288.7,195.6 288.8,196.1 288.9,196.6 289,197.1 289.1,197.6 289.2,198.1 289.3,198.6 289.4,199.1 289.5,199.6 289.6,200.1 289.7,200.6 289.8,201.1 289.9,201.6 289.9,202.1 290,202.6 290.1,203.1 290.2,203.6 290.3,204.1 290.4,204.6 290.5,205.1 290.6,205.6 290.7,206.1 290.8,206.6 290.8,207.1 290.9,207.6 291,208.1 291.1,208.6 291.1,209.1 291.2,209.6 291.2,210.1 291.3,210.6 291.3,211.1 291.3,211.6 291.4,212.1 291.4,212.6 291.4,213.1 291.4,213.6 291.5,214.1 291.5,214.6 291.5,215.1 291.5,215.6 291.6,216.1 291.6,216.6 291.6,217.1 291.7,217.6 291.7,218.1 291.7,218.6 291.8,219.1 291.8,219.6 291.8,220.1 291.9,220.6 291.9,221.1 292,221.6 292,222.1 292.1,222.6 292.1,223.1 292.2,223.6 292.2,224.1 292.3,224.6 292.3,225.1 292.4,225.6 292.4,226.1 292.5,226.6 292.6,227.1 292.6,227.6 292.7,228.1 292.8,228.6 292.9,229.1 293,229.6 293.1,230.1 293.2,230.6 293.4,231.1 293.5,231.6 293.6,232.1 293.8,232.6 293.9,233.1 294,233.6 294.2,234.1 294.3,234.6 294.4,235.1 294.6,235.6 294.7,236.1 294.9,236.6 295,237.1 295.1,237.6 295.3,238.1 295.5,238.6 295.6,239.1 295.8,239.6 295.9,240.1 296.1,240.6 296.3,241.1 296.4,241.6 296.6,242.1 296.7,242.6 296.9,243.1 297,243.6 297.1,244.1 297.3,244.6 297.4,245.1 297.5,245.6 297.7,246.1 297.8,246.6 297.9,247.1 298,247.6 298.2,248.1 298.3,248.6 298.4,249.1 298.5,249.6 298.5,250.1 298.6,250.6 298.6,251.1 298.6,251.6 298.6,252.1 298.5,252.6 298.5,253.1 298.4,253.6 298.3,254.1 298.2,254.6 298.1,255.1 298,255.6 297.8,256.1 297.7,256.6 297.6,257.1 297.4,257.6 297.3,258.1 297.1,258.6 297,259.1 296.8,259.6 296.6,260.1 296.4,260.6 296.2,261.1 295.9,261.6 295.7,262.1 295.4,262.6 295.2,263.1 294.9,263.6 294.7,264.1 294.4,264.6 294.1,265.1 293.9,265.6 293.6,266.1 293.4,266.6 293.2,267.1 292.9,267.6 292.7,268.1 292.4,268.6 292.2,269.1 291.9,269.6 291.6,270.1 291.4,270.6 291.1,271.1 290.9,271.6 290.6,272.1 290.4,272.6 290.1,273.1 289.9,273.6 289.7,274.1 289.5,274.6 289.3,275.1 289.1,275.6 288.9,276.1 288.7,276.6 288.6,277.1 288.4,277.6 288.2,278.1 288.1,278.6 287.9,279.1 287.8,279.6 287.6,280.1 287.5,280.6 287.4,281.1 287.2,281.6 287.1,282.1 287,282.6 286.9,283.1 286.8,283.6 286.7,284.1 286.7,284.6 286.6,285.1 286.5,285.6 286.4,286.1 286.3,286.6 286.3,287.1 286.2,287.6 286.2,288.1 286.1,288.6 286.1,289.1 286.1,289.2 286.1,289.2 286.1,289.1 286,288.6 286,288.1 285.9,287.6 285.8,287.1 285.8,286.6 285.7,286.1 285.6,285.6 285.6,285.1 285.5,284.6 285.4,284.1 285.3,283.6 285.2,283.1 285.1,282.6 285,282.1 284.9,281.6 284.8,281.1 284.6,280.6 284.5,280.1 284.4,279.6 284.2,279.1 284.1,278.6 283.9,278.1 283.7,277.6 283.6,277.1 283.4,276.6 283.2,276.1 283,275.6 282.8,275.1 282.6,274.6 282.4,274.1 282.2,273.6 282,273.1 281.7,272.6 281.5,272.1 281.3,271.6 281,271.1 280.7,270.6 280.5,270.1 280.2,269.6 280,269.1 279.7,268.6 279.5,268.1 279.2,267.6 279,267.1 278.7,266.6 278.5,266.1 278.2,265.6 278,265.1 277.7,264.6 277.5,264.1 277.2,263.6 276.9,263.1 276.7,262.6 276.4,262.1 276.2,261.6 276,261.1 275.7,260.6 275.5,260.1 275.3,259.6 275.2,259.1 275,258.6 274.9,258.1 274.7,257.6 274.6,257.1 274.4,256.6 274.3,256.1 274.2,255.6 274,255.1 273.9,254.6 273.8,254.1 273.7,253.6 273.6,253.1 273.6,252.6 273.5,252.1 273.5,251.6 273.5,251.1 273.5,250.6 273.6,250.1 273.7,249.6 273.7,249.1 273.8,248.6 274,248.1 274.1,247.6 274.2,247.1 274.3,246.6 274.5,246.1 274.6,245.6 274.7,245.1 274.9,244.6 275,244.1 275.1,243.6 275.3,243.1 275.4,242.6 275.5,242.1 275.7,241.6 275.9,241.1 276,240.6 276.2,240.1 276.3,239.6 276.5,239.1 276.7,238.6 276.8,238.1 277,237.6 277.1,237.1 277.3,236.6 277.4,236.1 277.5,235.6 277.7,235.1 277.8,234.6 278,234.1 278.1,233.6 278.2,233.1 278.4,232.6 278.5,232.1 278.6,231.6 278.8,231.1 278.9,230.6 279,230.1 279.1,229.6 279.2,229.1 279.3,228.6 279.4,228.1 279.5,227.6 279.6,227.1 279.6,226.6 279.7,226.1 279.8,225.6 279.8,225.1 279.9,224.6 279.9,224.1 280,223.6 280,223.1 280.1,222.6 280.1,222.1 280.2,221.6 280.2,221.1 280.2,220.6 280.3,220.1 280.3,219.6 280.4,219.1 280.4,218.6 280.4,218.1 280.5,217.6 280.5,217.1 280.5,216.6 280.6,216.1 280.6,215.6 280.6,215.1 280.6,214.6 280.7,214.1 280.7,213.6 280.7,213.1 280.7,212.6 280.8,212.1 280.8,211.6 280.8,211.1 280.9,210.6 280.9,210.1 281,209.6 281,209.1 281.1,208.6 281.1,208.1 281.2,207.6 281.3,207.1 281.4,206.6 281.4,206.1 281.5,205.6 281.6,205.1 281.7,204.6 281.8,204.1 281.9,203.6 282,203.1 282.1,202.6 282.2,202.1 282.3,201.6 282.4,201.1 282.5,200.6 282.5,200.1 282.6,199.6 282.7,199.1 282.8,198.6 282.9,198.1 283.1,197.6 283.2,197.1 283.3,196.6 283.4,196.1 283.5,195.6 283.6,195.1 283.7,194.6 283.8,194.1 283.9,193.6 284,193.1 284.1,192.6 284.2,192.1 284.3,191.6 284.4,191.1 284.5,190.6 284.6,190.1 284.7,189.6 284.8,189.1 284.9,188.6 285,188.1 285.1,187.6 285.2,187.1 285.2,186.6 285.3,186.1 285.4,185.6 285.5,185.1 285.5,184.6 285.6,184.1 285.6,183.6 285.7,183.1 285.7,182.6 285.8,182.1 285.8,181.6 285.8,181.1 285.9,180.6 285.9,180.1 285.9,179.6 286,179.1 286,178.6 286,178.1 286,177.6 286.1,177.1 286.1,176.6Z" fill="#a6d1fb" stroke="#111" stroke-width="0.62" stroke-linejoin="round"/>
<path d="M320.3,184 320.3,184.5 320.4,185 320.5,185.5 320.6,186 320.7,186.5 320.9,187 321,187.5 321.2,188 321.3,188.5 321.5,189 321.6,189.5 321.8,190 322,190.5 322.3,191 322.5,191.5 322.8,192 323.1,192.5 323.4,193 323.7,193.5 324,194 324.3,194.5 324.6,195 324.9,195.5 325.2,196 325.5,196.5 325.8,197 326.1,197.5 326.4,198 326.7,198.5 327,199 327.4,199.5 327.7,200 328,200.5 328.3,201 328.6,201.5 329,202 329.3,202.5 329.6,203 329.9,203.5 330.2,204 330.5,204.5 330.8,205 331.1,205.5 331.4,206 331.7,206.5 332,207 332.3,207.5 332.6,208 332.9,208.5 333.1,209 333.4,209.5 333.6,210 333.8,210.5 334.1,211 334.3,211.5 334.5,212 334.8,212.5 335,213 335.2,213.5 335.3,214 335.5,214.5 335.6,215 335.7,215.5 335.7,216 335.7,216.5 335.7,217 335.6,217.5 335.5,218 335.4,218.5 335.3,219 335.2,219.5 335,220 334.9,220.5 334.7,221 334.6,221.5 334.4,222 334.3,222.5 334.1,223 333.9,223.5 333.8,224 333.6,224.5 333.4,225 333.2,225.5 333,226 332.8,226.5 332.6,227 332.4,227.5 332.1,228 331.9,228.5 331.7,229 331.5,229.5 331.3,230 331,230.5 330.8,231 330.6,231.5 330.4,232 330.1,232.5 329.9,233 329.7,233.5 329.4,234 329.2,234.5 328.9,235 328.7,235.5 328.4,236 328.2,236.5 328,237 327.7,237.5 327.5,238 327.2,238.5 327,239 326.7,239.5 326.5,240 326.2,240.5 326,241 325.7,241.5 325.4,242 325.2,242.5 324.9,243 324.7,243.5 324.4,244 324.2,244.5 323.9,245 323.7,245.5 323.5,246 323.2,246.5 323,247 322.8,247.5 322.6,248 322.4,248.5 322.2,249 322,249.5 321.8,250 321.6,250.5 321.4,251 321.3,251.5 321.1,252 320.9,252.5 320.7,253 320.6,253.5 320.4,254 320.3,254.5 320.3,254.5 320.1,254 320,253.5 319.8,253 319.6,252.5 319.5,252 319.3,251.5 319.1,251 318.9,250.5 318.7,250 318.5,249.5 318.3,249 318.1,248.5 317.9,248 317.7,247.5 317.5,247 317.3,246.5 317.1,246 316.8,245.5 316.6,245 316.4,244.5 316.1,244 315.9,243.5 315.6,243 315.3,242.5 315.1,242 314.8,241.5 314.6,241 314.3,240.5 314.1,240 313.8,239.5 313.6,239 313.3,238.5 313.1,238 312.8,237.5 312.6,237 312.3,236.5 312.1,236 311.8,235.5 311.6,235 311.3,234.5 311.1,234 310.9,233.5 310.6,233 310.4,232.5 310.2,232 309.9,231.5 309.7,231 309.5,230.5 309.3,230 309.1,229.5 308.8,229 308.6,228.5 308.4,228 308.2,227.5 308,227 307.7,226.5 307.5,226 307.3,225.5 307.1,225 307,224.5 306.8,224 306.6,223.5 306.4,223 306.3,222.5 306.1,222 306,221.5 305.8,221 305.7,220.5 305.5,220 305.4,219.5 305.2,219 305.1,218.5 305,218 304.9,217.5 304.8,217 304.8,216.5 304.8,216 304.8,215.5 304.9,215 305,214.5 305.2,214 305.4,213.5 305.6,213 305.8,212.5 306,212 306.2,211.5 306.5,211 306.7,210.5 306.9,210 307.1,209.5 307.4,209 307.6,208.5 307.9,208 308.2,207.5 308.5,207 308.8,206.5 309.1,206 309.4,205.5 309.7,205 310,204.5 310.4,204 310.7,203.5 311,203 311.3,202.5 311.6,202 311.9,201.5 312.2,201 312.5,200.5 312.9,200 313.2,199.5 313.5,199 313.8,198.5 314.1,198 314.4,197.5 314.7,197 315,196.5 315.3,196 315.6,195.5 315.9,195 316.3,194.5 316.6,194 316.9,193.5 317.2,193 317.5,192.5 317.7,192 318,191.5 318.3,191 318.5,190.5 318.7,190 318.9,189.5 319.1,189 319.2,188.5 319.4,188 319.5,187.5 319.7,187 319.8,186.5 319.9,186 320,185.5 320.1,185 320.2,184.5 320.3,184Z" fill="#fbb4b4" stroke="#111" stroke-width="0.62" stroke-linejoin="round"/>
<rect x="283.48" y="227.69" width="5.16" height="24.58" fill="#a6d1fb" fill-opacity="0"/>
<path d="M286.06,208.44V227.69M286.06,252.27V258.28M283.48,227.69H288.64V252.27H283.48ZM283.48,241.09H288.64" fill="none" stroke="#1a1a1a" stroke-width="0.55"/>
<rect x="317.69" y="214.45" width="5.16" height="12.03" fill="#fbb4b4" fill-opacity="0"/>
<path d="M320.27,202.94V214.45M320.27,226.48V235.94M317.69,214.45H322.84V226.48H317.69ZM317.69,217.89H322.84" fill="none" stroke="#1a1a1a" stroke-width="0.55"/>
<path d="M286.06,240.23L320.09,218.41" stroke="#000" stroke-width="0.7" fill="none"/>
<circle cx="286.92" cy="208.44" r="1.85"/>
<circle cx="286.92" cy="214.62" r="1.85"/>
<circle cx="284.17" cy="224.25" r="1.85"/>
<circle cx="284.17" cy="236.8" r="1.85"/>
<circle cx="286.06" cy="248.83" r="1.85"/>
<circle cx="285.03" cy="253.12" r="1.85"/>
<circle cx="287.27" cy="252.78" r="1.85"/>
<circle cx="284.17" cy="254.5" r="1.85"/>
<circle cx="286.06" cy="256.91" r="1.85"/>
<circle cx="287.61" cy="258.28" r="1.85"/>
<circle cx="319.58" cy="202.77" r="1.85"/>
<circle cx="321.12" cy="213.94" r="1.85"/>
<circle cx="323.02" cy="216.17" r="1.85"/>
<circle cx="318.2" cy="227" r="1.85"/>
<circle cx="318.2" cy="235.59" r="1.85"/>
<circle cx="319.92" cy="218.75" r="1.85"/>
<rect x="284.11" y="238.28" width="3.9" height="3.9"/>
<rect x="318.14" y="216.46" width="3.9" height="3.9"/>
<rect x="266.12" y="157.73" width="74.07" height="12.89" fill="#fff" stroke="#2b2b2b" stroke-width="1.05"/>
<text x="303.16" y="167" font-size="6.9" fill="#333" text-anchor="middle">C_0074</text>
<path d="M266.12,170.62V295.23" stroke="#000" stroke-width="1.05" fill="none"/>
<path d="M263.82,211.53H266.12" stroke="#222" stroke-width="0.9"/>
<text x="261.32" y="214.09" font-size="7.1" fill="#333" stroke="#333" stroke-width="0.22" text-anchor="end">-9.5</text>
<path d="M263.82,258.62H266.12" stroke="#222" stroke-width="0.9"/>
<text x="261.32" y="261.18" font-size="7.1" fill="#333" stroke="#333" stroke-width="0.22" text-anchor="end">-10.0</text>
</g>
<g>
<path d="M386.4,176.6 386.4,177.1 386.4,177.6 386.4,178.1 386.4,178.6 386.4,179.1 386.4,179.6 386.4,180.1 386.4,180.6 386.4,181.1 386.5,181.6 386.5,182.1 386.5,182.6 386.5,183.1 386.5,183.6 386.5,184.1 386.5,184.6 386.5,185.1 386.5,185.6 386.6,186.1 386.6,186.6 386.6,187.1 386.6,187.6 386.6,188.1 386.6,188.6 386.6,189.1 386.6,189.6 386.7,190.1 386.7,190.6 386.7,191.1 386.7,191.6 386.7,192.1 386.7,192.6 386.8,193.1 386.8,193.6 386.8,194.1 386.8,194.6 386.8,195.1 386.9,195.6 386.9,196.1 386.9,196.6 386.9,197.1 387,197.6 387,198.1 387,198.6 387.1,199.1 387.1,199.6 387.1,200.1 387.2,200.6 387.2,201.1 387.2,201.6 387.3,202.1 387.3,202.6 387.3,203.1 387.4,203.6 387.4,204.1 387.4,204.6 387.5,205.1 387.5,205.6 387.5,206.1 387.6,206.6 387.6,207.1 387.6,207.6 387.7,208.1 387.7,208.6 387.7,209.1 387.8,209.6 387.8,210.1 387.8,210.6 387.8,211.1 387.9,211.6 387.9,212.1 387.9,212.6 387.9,213.1 388,213.6 388,214.1 388,214.6 388.1,215.1 388.1,215.6 388.1,216.1 388.1,216.6 388.2,217.1 388.2,217.6 388.2,218.1 388.2,218.6 388.3,219.1 388.3,219.6 388.3,220.1 388.3,220.6 388.4,221.1 388.4,221.6 388.4,222.1 388.4,222.6 388.5,223.1 388.5,223.6 388.5,224.1 388.5,224.6 388.6,225.1 388.6,225.6 388.6,226.1 388.6,226.6 388.6,227.1 388.7,227.6 388.7,228.1 388.7,228.6 388.7,229.1 388.7,229.6 388.7,230.1 388.8,230.6 388.8,231.1 388.8,231.6 388.8,232.1 388.8,232.6 388.9,233.1 388.9,233.6 388.9,234.1 388.9,234.6 388.9,235.1 388.9,235.6 388.9,236.1 389,236.6 389,237.1 389,237.6 389,238.1 389,238.6 389,239.1 389,239.6 389,240.1 389,240.6 389,241.1 389,241.6 389,242.1 388.9,242.6 388.9,243.1 388.9,243.6 388.9,244.1 388.9,244.6 388.9,245.1 388.8,245.6 388.8,246.1 388.8,246.6 388.8,247.1 388.7,247.6 388.7,248.1 388.7,248.6 388.7,249.1 388.6,249.6 388.6,250.1 388.6,250.6 388.6,251.1 388.5,251.6 388.5,252.1 388.5,252.6 388.5,253.1 388.4,253.6 388.4,254.1 388.4,254.6 388.4,255.1 388.3,255.6 388.3,256.1 388.2,256.6 388.2,257.1 388.2,257.6 388.1,258.1 388.1,258.6 388,259.1 388,259.6 388,260.1 387.9,260.6 387.9,261.1 387.8,261.6 387.8,262.1 387.8,262.6 387.7,263.1 387.7,263.6 387.6,264.1 387.6,264.6 387.6,265.1 387.5,265.6 387.5,266.1 387.5,266.6 387.4,267.1 387.4,267.6 387.4,268.1 387.3,268.6 387.3,269.1 387.3,269.6 387.2,270.1 387.2,270.6 387.2,271.1 387.1,271.6 387.1,272.1 387.1,272.6 387,273.1 387,273.6 387,274.1 387,274.6 386.9,275.1 386.9,275.6 386.9,276.1 386.9,276.6 386.8,277.1 386.8,277.6 386.8,278.1 386.8,278.6 386.7,279.1 386.7,279.6 386.7,280.1 386.7,280.6 386.7,281.1 386.6,281.6 386.6,282.1 386.6,282.6 386.6,283.1 386.6,283.6 386.6,284.1 386.5,284.6 386.5,285.1 386.5,285.6 386.5,286.1 386.5,286.6 386.5,287.1 386.4,287.6 386.4,288.1 386.4,288.6 386.4,289.1 386.4,289.2 386.4,289.2 386.4,289.1 386.4,288.6 386.4,288.1 386.4,287.6 386.4,287.1 386.3,286.6 386.3,286.1 386.3,285.6 386.3,285.1 386.3,284.6 386.3,284.1 386.2,283.6 386.2,283.1 386.2,282.6 386.2,282.1 386.2,281.6 386.2,281.1 386.1,280.6 386.1,280.1 386.1,279.6 386.1,279.1 386.1,278.6 386,278.1 386,277.6 386,277.1 386,276.6 385.9,276.1 385.9,275.6 385.9,275.1 385.9,274.6 385.8,274.1 385.8,273.6 385.8,273.1 385.7,272.6 385.7,272.1 385.7,271.6 385.6,271.1 385.6,270.6 385.6,270.1 385.6,269.6 385.5,269.1 385.5,268.6 385.5,268.1 385.4,267.6 385.4,267.1 385.4,266.6 385.3,266.1 385.3,265.6 385.3,265.1 385.2,264.6 385.2,264.1 385.1,263.6 385.1,263.1 385.1,262.6 385,262.1 385,261.6 384.9,261.1 384.9,260.6 384.8,260.1 384.8,259.6 384.8,259.1 384.7,258.6 384.7,258.1 384.6,257.6 384.6,257.1 384.6,256.6 384.5,256.1 384.5,255.6 384.5,255.1 384.4,254.6 384.4,254.1 384.4,253.6 384.3,253.1 384.3,252.6 384.3,252.1 384.3,251.6 384.2,251.1 384.2,250.6 384.2,250.1 384.2,249.6 384.1,249.1 384.1,248.6 384.1,248.1 384.1,247.6 384,247.1 384,246.6 384,246.1 384,245.6 384,245.1 383.9,244.6 383.9,244.1 383.9,243.6 383.9,243.1 383.9,242.6 383.9,242.1 383.8,241.6 383.8,241.1 383.8,240.6 383.8,240.1 383.8,239.6 383.8,239.1 383.8,238.6 383.8,238.1 383.8,237.6 383.8,237.1 383.9,236.6 383.9,236.1 383.9,235.6 383.9,235.1 383.9,234.6 383.9,234.1 383.9,233.6 384,233.1 384,232.6 384,232.1 384,231.6 384,231.1 384,230.6 384.1,230.1 384.1,229.6 384.1,229.1 384.1,228.6 384.1,228.1 384.2,227.6 384.2,227.1 384.2,226.6 384.2,226.1 384.2,225.6 384.3,225.1 384.3,224.6 384.3,224.1 384.3,223.6 384.3,223.1 384.4,222.6 384.4,222.1 384.4,221.6 384.4,221.1 384.5,220.6 384.5,220.1 384.5,219.6 384.5,219.1 384.6,218.6 384.6,218.1 384.6,217.6 384.6,217.1 384.7,216.6 384.7,216.1 384.7,215.6 384.8,215.1 384.8,214.6 384.8,214.1 384.8,213.6 384.9,213.1 384.9,212.6 384.9,212.1 384.9,211.6 385,211.1 385,210.6 385,210.1 385.1,209.6 385.1,209.1 385.1,208.6 385.1,208.1 385.2,207.6 385.2,207.1 385.2,206.6 385.3,206.1 385.3,205.6 385.3,205.1 385.4,204.6 385.4,204.1 385.5,203.6 385.5,203.1 385.5,202.6 385.6,202.1 385.6,201.6 385.6,201.1 385.7,200.6 385.7,200.1 385.7,199.6 385.8,199.1 385.8,198.6 385.8,198.1 385.8,197.6 385.9,197.1 385.9,196.6 385.9,196.1 386,195.6 386,195.1 386,194.6 386,194.1 386,193.6 386.1,193.1 386.1,192.6 386.1,192.1 386.1,191.6 386.1,191.1 386.1,190.6 386.1,190.1 386.2,189.6 386.2,189.1 386.2,188.6 386.2,188.1 386.2,187.6 386.2,187.1 386.2,186.6 386.3,186.1 386.3,185.6 386.3,185.1 386.3,184.6 386.3,184.1 386.3,183.6 386.3,183.1 386.3,182.6 386.3,182.1 386.4,181.6 386.4,181.1 386.4,180.6 386.4,180.1 386.4,179.6 386.4,179.1 386.4,178.6 386.4,178.1 386.4,177.6 386.4,177.1 386.4,176.6Z" fill="#a6d1fb" stroke="#111" stroke-width="0.62" stroke-linejoin="round"/>
<path d="M420.4,198.5 422.5,200.4 425.2,201.6 427.7,202.4 425.2,203.3 422.5,204.5 420.6,206.4 420.6,209.3 422.5,211 425.6,212.4 429.9,213.4 436.1,214.3 430.8,215.1 428.5,216.2 427.5,217.4 427.7,218.2 427.8,219.3 425.2,220.5 422.2,221.8 420.4,223.2 420.4,223.2 418.7,221.8 415.6,220.5 413,219.3 413.2,218.2 413.4,217.4 412.4,216.2 410.1,215.1 404.8,214.3 411,213.4 415.3,212.4 418.4,211 420.3,209.3 420.3,206.4 418.4,204.5 415.6,203.3 413.2,202.4 415.6,201.6 418.4,200.4 420.4,198.5Z" fill="#fbb4b4" stroke="#111" stroke-width="0.62" stroke-linejoin="round"/>
<rect x="384.34" y="228.2" width="5.16" height="26.3" fill="#a6d1fb" fill-opacity="0"/>
<path d="M386.92,206.72V228.2M386.92,254.5V259.14M384.34,228.2H389.5V254.5H384.34ZM384.34,237.66H389.5" fill="none" stroke="#1a1a1a" stroke-width="0.55"/>
<path d="M386.41,236.8L420.44,214.45" stroke="#000" stroke-width="0.7" fill="none"/>
<circle cx="384.69" cy="206.72" r="1.85"/>
<circle cx="387.27" cy="220.12" r="1.85"/>
<circle cx="385.03" cy="227" r="1.85"/>
<circle cx="386.41" cy="233.36" r="1.85"/>
<circle cx="385.03" cy="235.94" r="1.85"/>
<circle cx="387.78" cy="236.8" r="1.85"/>
<circle cx="386.41" cy="239.38" r="1.85"/>
<circle cx="385.03" cy="249.34" r="1.85"/>
<circle cx="384.69" cy="259.14" r="1.85"/>
<circle cx="386.41" cy="257.42" r="1.85"/>
<circle cx="388.12" cy="259.14" r="1.85"/>
<circle cx="419.92" cy="202.42" r="1.85"/>
<circle cx="419.06" cy="212.73" r="1.85"/>
<circle cx="420.78" cy="213.94" r="1.85"/>
<circle cx="422.5" cy="212.73" r="1.85"/>
<circle cx="418.72" cy="219.27" r="1.85"/>
<rect x="384.46" y="234.85" width="3.9" height="3.9"/>
<rect x="418.49" y="212.5" width="3.9" height="3.9"/>
<rect x="366.64" y="157.73" width="74.07" height="12.89" fill="#fff" stroke="#2b2b2b" stroke-width="1.05"/>
<text x="403.68" y="167" font-size="6.9" fill="#333" text-anchor="middle">A_0029</text>
<path d="M366.64,170.62V295.23" stroke="#000" stroke-width="1.05" fill="none"/>
<path d="M364.34,176.3H366.64" stroke="#222" stroke-width="0.9"/>
<text x="361.84" y="178.85" font-size="7.1" fill="#333" stroke="#333" stroke-width="0.22" text-anchor="end">-6.0</text>
<path d="M364.34,207.06H366.64" stroke="#222" stroke-width="0.9"/>
<text x="361.84" y="209.62" font-size="7.1" fill="#333" stroke="#333" stroke-width="0.22" text-anchor="end">-6.5</text>
<path d="M364.34,237.83H366.64" stroke="#222" stroke-width="0.9"/>
<text x="361.84" y="240.38" font-size="7.1" fill="#333" stroke="#333" stroke-width="0.22" text-anchor="end">-7.0</text>
<path d="M364.34,268.59H366.64" stroke="#222" stroke-width="0.9"/>
<text x="361.84" y="271.15" font-size="7.1" fill="#333" stroke="#333" stroke-width="0.22" text-anchor="end">-7.5</text>
</g>
<g>
<path d="M483,179.2 483,179.7 483,180.2 483,180.7 483.1,181.2 483.1,181.7 483.1,182.2 483.1,182.7 483.2,183.2 483.2,183.7 483.2,184.2 483.3,184.7 483.3,185.2 483.3,185.7 483.4,186.2 483.4,186.7 483.5,187.2 483.5,187.7 483.5,188.2 483.6,188.7 483.6,189.2 483.7,189.7 483.7,190.2 483.8,190.7 483.8,191.2 483.9,191.7 484,192.2 484,192.7 484.1,193.2 484.2,193.7 484.2,194.2 484.3,194.7 484.4,195.2 484.4,195.7 484.5,196.2 484.6,196.7 484.7,197.2 484.7,197.7 484.8,198.2 484.9,198.7 484.9,199.2 485,199.7 485.1,200.2 485.1,200.7 485.2,201.2 485.2,201.7 485.3,202.2 485.3,202.7 485.3,203.2 485.4,203.7 485.4,204.2 485.5,204.7 485.5,205.2 485.5,205.7 485.6,206.2 485.6,206.7 485.6,207.2 485.7,207.7 485.7,208.2 485.7,208.7 485.8,209.2 485.8,209.7 485.8,210.2 485.9,210.7 485.9,211.2 485.9,211.7 486,212.2 486,212.7 486,213.2 486.1,213.7 486.1,214.2 486.1,214.7 486.2,215.2 486.2,215.7 486.2,216.2 486.3,216.7 486.3,217.2 486.3,217.7 486.3,218.2 486.4,218.7 486.4,219.2 486.4,219.7 486.5,220.2 486.5,220.7 486.5,221.2 486.6,221.7 486.6,222.2 486.6,222.7 486.7,223.2 486.7,223.7 486.8,224.2 486.8,224.7 486.9,225.2 487,225.7 487.1,226.2 487.2,226.7 487.3,227.2 487.4,227.7 487.5,228.2 487.6,228.7 487.7,229.2 487.8,229.7 487.9,230.2 488.1,230.7 488.2,231.2 488.3,231.7 488.4,232.2 488.5,232.7 488.6,233.2 488.8,233.7 488.9,234.2 489,234.7 489.2,235.2 489.3,235.7 489.4,236.2 489.6,236.7 489.7,237.2 489.8,237.7 489.9,238.2 490.1,238.7 490.2,239.2 490.3,239.7 490.4,240.2 490.5,240.7 490.6,241.2 490.7,241.7 490.8,242.2 490.8,242.7 490.9,243.2 491,243.7 491.1,244.2 491.1,244.7 491.2,245.2 491.2,245.7 491.2,246.2 491.2,246.7 491.2,247.2 491.2,247.7 491.1,248.2 491.1,248.7 491.1,249.2 491,249.7 490.9,250.2 490.9,250.7 490.8,251.2 490.7,251.7 490.7,252.2 490.6,252.7 490.5,253.2 490.4,253.7 490.3,254.2 490.2,254.7 490.1,255.2 490,255.7 489.8,256.2 489.7,256.7 489.5,257.2 489.4,257.7 489.2,258.2 489.1,258.7 488.9,259.2 488.7,259.7 488.6,260.2 488.4,260.7 488.3,261.2 488.1,261.7 488,262.2 487.8,262.7 487.7,263.2 487.5,263.7 487.4,264.2 487.2,264.7 487,265.2 486.9,265.7 486.7,266.2 486.6,266.7 486.4,267.2 486.3,267.7 486.1,268.2 486,268.7 485.8,269.2 485.7,269.7 485.6,270.2 485.4,270.7 485.3,271.2 485.2,271.7 485.1,272.2 485,272.7 484.9,273.2 484.8,273.7 484.6,274.2 484.5,274.7 484.4,275.2 484.3,275.7 484.2,276.2 484.2,276.7 484.1,277.2 484,277.7 483.9,278.2 483.9,278.7 483.8,279.2 483.7,279.7 483.7,280.2 483.6,280.7 483.6,281.2 483.5,281.7 483.5,282.2 483.4,282.7 483.3,283.2 483.3,283.7 483.3,284.2 483.2,284.7 483.2,285.2 483.1,285.7 483.1,286.2 483.1,286.7 483,287.2 483,287.7 483,288.2 483,288.7 483,289.2 483,289.2 483,288.7 482.9,288.2 482.9,287.7 482.9,287.2 482.9,286.7 482.8,286.2 482.8,285.7 482.8,285.2 482.7,284.7 482.7,284.2 482.6,283.7 482.6,283.2 482.5,282.7 482.5,282.2 482.4,281.7 482.4,281.2 482.3,280.7 482.3,280.2 482.2,279.7 482.1,279.2 482.1,278.7 482,278.2 481.9,277.7 481.9,277.2 481.8,276.7 481.7,276.2 481.6,275.7 481.5,275.2 481.4,274.7 481.3,274.2 481.2,273.7 481.1,273.2 481,272.7 480.8,272.2 480.7,271.7 480.6,271.2 480.5,270.7 480.4,270.2 480.2,269.7 480.1,269.2 480,268.7 479.8,268.2 479.7,267.7 479.5,267.2 479.4,266.7 479.2,266.2 479.1,265.7 478.9,265.2 478.7,264.7 478.6,264.2 478.4,263.7 478.3,263.2 478.1,262.7 478,262.2 477.8,261.7 477.7,261.2 477.5,260.7 477.4,260.2 477.2,259.7 477,259.2 476.9,258.7 476.7,258.2 476.5,257.7 476.4,257.2 476.2,256.7 476.1,256.2 476,255.7 475.8,255.2 475.7,254.7 475.6,254.2 475.5,253.7 475.4,253.2 475.3,252.7 475.3,252.2 475.2,251.7 475.1,251.2 475.1,250.7 475,250.2 474.9,249.7 474.9,249.2 474.8,248.7 474.8,248.2 474.8,247.7 474.7,247.2 474.7,246.7 474.7,246.2 474.7,245.7 474.8,245.2 474.8,244.7 474.9,244.2 474.9,243.7 475,243.2 475.1,242.7 475.2,242.2 475.3,241.7 475.4,241.2 475.5,240.7 475.6,240.2 475.7,239.7 475.8,239.2 475.9,238.7 476,238.2 476.1,237.7 476.2,237.2 476.4,236.7 476.5,236.2 476.6,235.7 476.8,235.2 476.9,234.7 477,234.2 477.2,233.7 477.3,233.2 477.4,232.7 477.5,232.2 477.6,231.7 477.8,231.2 477.9,230.7 478,230.2 478.1,229.7 478.2,229.2 478.3,228.7 478.5,228.2 478.6,227.7 478.7,227.2 478.8,226.7 478.9,226.2 478.9,225.7 479,225.2 479.1,224.7 479.2,224.2 479.2,223.7 479.3,223.2 479.3,222.7 479.3,222.2 479.4,221.7 479.4,221.2 479.5,220.7 479.5,220.2 479.5,219.7 479.5,219.2 479.6,218.7 479.6,218.2 479.6,217.7 479.7,217.2 479.7,216.7 479.7,216.2 479.7,215.7 479.8,215.2 479.8,214.7 479.8,214.2 479.9,213.7 479.9,213.2 479.9,212.7 480,212.2 480,211.7 480,211.2 480.1,210.7 480.1,210.2 480.1,209.7 480.2,209.2 480.2,208.7 480.2,208.2 480.3,207.7 480.3,207.2 480.3,206.7 480.4,206.2 480.4,205.7 480.4,205.2 480.5,204.7 480.5,204.2 480.5,203.7 480.6,203.2 480.6,202.7 480.7,202.2 480.7,201.7 480.8,201.2 480.8,200.7 480.9,200.2 480.9,199.7 481,199.2 481.1,198.7 481.1,198.2 481.2,197.7 481.3,197.2 481.3,196.7 481.4,196.2 481.5,195.7 481.6,195.2 481.6,194.7 481.7,194.2 481.8,193.7 481.9,193.2 481.9,192.7 482,192.2 482,191.7 482.1,191.2 482.2,190.7 482.2,190.2 482.3,189.7 482.3,189.2 482.4,188.7 482.4,188.2 482.4,187.7 482.5,187.2 482.5,186.7 482.6,186.2 482.6,185.7 482.6,185.2 482.7,184.7 482.7,184.2 482.7,183.7 482.8,183.2 482.8,182.7 482.8,182.2 482.9,181.7 482.9,181.2 482.9,180.7 482.9,180.2 482.9,179.7 483,179.2Z" fill="#a6d1fb" stroke="#111" stroke-width="0.62" stroke-linejoin="round"/>
<path d="M517.3,176.6 517.4,177.1 517.5,177.6 517.6,178.1 517.7,178.6 517.8,179.1 518,179.6 518.1,180.1 518.3,180.6 518.4,181.1 518.6,181.6 518.9,182.1 519.1,182.6 519.4,183.1 519.7,183.6 520,184.1 520.3,184.6 520.6,185.1 520.9,185.6 521.1,186.1 521.4,186.6 521.7,187.1 521.9,187.6 522.1,188.1 522.4,188.6 522.6,189.1 522.9,189.6 523.1,190.1 523.3,190.6 523.6,191.1 523.8,191.6 524.1,192.1 524.4,192.6 524.7,193.1 525,193.6 525.3,194.1 525.6,194.6 525.9,195.1 526.2,195.6 526.6,196.1 526.9,196.6 527.3,197.1 527.6,197.6 527.9,198.1 528.3,198.6 528.6,199.1 528.9,199.6 529.2,200.1 529.5,200.6 529.8,201.1 530.2,201.6 530.5,202.1 530.8,202.6 531.1,203.1 531.3,203.6 531.6,204.1 531.8,204.6 532,205.1 532.2,205.6 532.4,206.1 532.6,206.6 532.7,207.1 532.8,207.6 532.8,208.1 532.8,208.6 532.6,209.1 532.4,209.6 532.2,210.1 531.9,210.6 531.6,211.1 531.2,211.6 530.9,212.1 530.5,212.6 530.1,213.1 529.6,213.6 529.1,214.1 528.6,214.6 528,215.1 527.4,215.6 526.9,216.1 526.3,216.6 525.8,217.1 525.3,217.6 524.8,218.1 524.3,218.6 523.7,219.1 523.2,219.6 522.7,220.1 522.2,220.6 521.7,221.1 521.2,221.6 520.8,222.1 520.4,222.6 520,223.1 519.6,223.6 519.3,224.1 518.9,224.6 518.6,225.1 518.4,225.6 518.1,226.1 517.9,226.6 517.7,227.1 517.5,227.6 517.4,228.1 517.3,228.2 517.3,228.2 517.3,228.1 517.2,227.6 517,227.1 516.8,226.6 516.6,226.1 516.3,225.6 516.1,225.1 515.7,224.6 515.4,224.1 515,223.6 514.7,223.1 514.3,222.6 513.9,222.1 513.4,221.6 513,221.1 512.5,220.6 512,220.1 511.5,219.6 511,219.1 510.4,218.6 509.9,218.1 509.4,217.6 508.9,217.1 508.3,216.6 507.8,216.1 507.3,215.6 506.7,215.1 506.1,214.6 505.6,214.1 505.1,213.6 504.6,213.1 504.1,212.6 503.8,212.1 503.4,211.6 503.1,211.1 502.8,210.6 502.5,210.1 502.3,209.6 502.1,209.1 501.9,208.6 501.9,208.1 501.9,207.6 502,207.1 502.1,206.6 502.3,206.1 502.5,205.6 502.7,205.1 502.9,204.6 503.1,204.1 503.3,203.6 503.6,203.1 503.9,202.6 504.2,202.1 504.5,201.6 504.8,201.1 505.2,200.6 505.5,200.1 505.8,199.6 506.1,199.1 506.4,198.6 506.7,198.1 507.1,197.6 507.4,197.1 507.8,196.6 508.1,196.1 508.4,195.6 508.8,195.1 509.1,194.6 509.4,194.1 509.7,193.6 510,193.1 510.3,192.6 510.6,192.1 510.8,191.6 511.1,191.1 511.3,190.6 511.6,190.1 511.8,189.6 512.1,189.1 512.3,188.6 512.5,188.1 512.8,187.6 513,187.1 513.3,186.6 513.5,186.1 513.8,185.6 514.1,185.1 514.4,184.6 514.7,184.1 515,183.6 515.3,183.1 515.6,182.6 515.8,182.1 516,181.6 516.2,181.1 516.4,180.6 516.6,180.1 516.7,179.6 516.9,179.1 517,178.6 517.1,178.1 517.2,177.6 517.3,177.1 517.3,176.6Z" fill="#fbb4b4" stroke="#111" stroke-width="0.62" stroke-linejoin="round"/>
<rect x="480.73" y="232.16" width="4.81" height="20.11" fill="#a6d1fb" fill-opacity="0"/>
<path d="M483.14,205.34V232.16M483.14,252.27V262.92M480.73,232.16H485.55V252.27H480.73ZM480.73,241.95H485.55" fill="none" stroke="#1a1a1a" stroke-width="0.55"/>
<rect x="515.11" y="200.36" width="4.81" height="9.8" fill="#fbb4b4" fill-opacity="0"/>
<path d="M517.52,191.25V200.36M517.52,210.16V213.59M515.11,200.36H519.92V210.16H515.11ZM515.11,205H519.92" fill="none" stroke="#1a1a1a" stroke-width="0.55"/>
<path d="M483.31,241.09L517.34,205" stroke="#000" stroke-width="0.7" fill="none"/>
<circle cx="480.91" cy="205.34" r="1.85"/>
<circle cx="481.59" cy="215.83" r="1.85"/>
<circle cx="482.97" cy="229.06" r="1.85"/>
<circle cx="480.91" cy="239.89" r="1.85"/>
<circle cx="483.83" cy="240.23" r="1.85"/>
<circle cx="482.45" cy="241.95" r="1.85"/>
<circle cx="484.69" cy="242.81" r="1.85"/>
<circle cx="482.97" cy="248.31" r="1.85"/>
<circle cx="481.25" cy="254.16" r="1.85"/>
<circle cx="484.69" cy="257.94" r="1.85"/>
<circle cx="484.34" cy="262.92" r="1.85"/>
<circle cx="516.48" cy="191.25" r="1.85"/>
<circle cx="515.11" cy="200.19" r="1.85"/>
<circle cx="517.34" cy="203.28" r="1.85"/>
<circle cx="518.2" cy="205.34" r="1.85"/>
<circle cx="516.48" cy="206.72" r="1.85"/>
<circle cx="519.92" cy="210.16" r="1.85"/>
<circle cx="515.28" cy="213.59" r="1.85"/>
<rect x="481.36" y="239.14" width="3.9" height="3.9"/>
<rect x="515.39" y="203.05" width="3.9" height="3.9"/>
<rect x="463.2" y="157.73" width="74.42" height="12.89" fill="#fff" stroke="#2b2b2b" stroke-width="1.05"/>
<text x="500.41" y="167" font-size="6.9" fill="#333" text-anchor="middle">C_0055</text>
<path d="M463.2,170.62V295.23" stroke="#000" stroke-width="1.05" fill="none"/>
<path d="M460.9,200.7H463.2" stroke="#222" stroke-width="0.9"/>
<text x="458.4" y="203.26" font-size="7.1" fill="#333" stroke="#333" stroke-width="0.22" text-anchor="end">-6.6</text>
<path d="M460.9,232.16H463.2" stroke="#222" stroke-width="0.9"/>
<text x="458.4" y="234.71" font-size="7.1" fill="#333" stroke="#333" stroke-width="0.22" text-anchor="end">-6.9</text>
<path d="M460.9,263.78H463.2" stroke="#222" stroke-width="0.9"/>
<text x="458.4" y="266.34" font-size="7.1" fill="#333" stroke="#333" stroke-width="0.22" text-anchor="end">-7.2</text>
<path d="M460.9,295.23H463.2" stroke="#222" stroke-width="0.9"/>
<text x="458.4" y="297.79" font-size="7.1" fill="#333" stroke="#333" stroke-width="0.22" text-anchor="end">-7.5</text>
</g>
<g>
<path d="M583.5,176.6 583.5,177.1 583.5,177.6 583.5,178.1 583.6,178.6 583.6,179.1 583.6,179.6 583.7,180.1 583.7,180.6 583.7,181.1 583.8,181.6 583.8,182.1 583.8,182.6 583.9,183.1 583.9,183.6 584,184.1 584,184.6 584.1,185.1 584.1,185.6 584.2,186.1 584.3,186.6 584.3,187.1 584.4,187.6 584.5,188.1 584.6,188.6 584.7,189.1 584.7,189.6 584.8,190.1 584.9,190.6 585,191.1 585,191.6 585.1,192.1 585.2,192.6 585.2,193.1 585.3,193.6 585.3,194.1 585.4,194.6 585.4,195.1 585.5,195.6 585.5,196.1 585.6,196.6 585.6,197.1 585.7,197.6 585.7,198.1 585.8,198.6 585.8,199.1 585.8,199.6 585.9,200.1 585.9,200.6 585.9,201.1 585.9,201.6 585.9,202.1 585.9,202.6 585.9,203.1 585.8,203.6 585.8,204.1 585.8,204.6 585.8,205.1 585.7,205.6 585.7,206.1 585.7,206.6 585.6,207.1 585.6,207.6 585.6,208.1 585.6,208.6 585.6,209.1 585.6,209.6 585.5,210.1 585.5,210.6 585.6,211.1 585.6,211.6 585.6,212.1 585.6,212.6 585.6,213.1 585.6,213.6 585.6,214.1 585.7,214.6 585.7,215.1 585.7,215.6 585.7,216.1 585.8,216.6 585.8,217.1 585.8,217.6 585.8,218.1 585.9,218.6 585.9,219.1 586,219.6 586.1,220.1 586.2,220.6 586.3,221.1 586.4,221.6 586.6,222.1 586.7,222.6 586.9,223.1 587.1,223.6 587.2,224.1 587.4,224.6 587.6,225.1 587.8,225.6 587.9,226.1 588.1,226.6 588.2,227.1 588.4,227.6 588.5,228.1 588.7,228.6 588.8,229.1 589,229.6 589.1,230.1 589.3,230.6 589.4,231.1 589.6,231.6 589.7,232.1 589.9,232.6 590,233.1 590.2,233.6 590.3,234.1 590.4,234.6 590.5,235.1 590.6,235.6 590.7,236.1 590.8,236.6 590.9,237.1 591,237.6 591.1,238.1 591.2,238.6 591.3,239.1 591.4,239.6 591.4,240.1 591.5,240.6 591.6,241.1 591.7,241.6 591.7,242.1 591.8,242.6 591.9,243.1 591.9,243.6 592,244.1 592.1,244.6 592.2,245.1 592.3,245.6 592.3,246.1 592.4,246.6 592.5,247.1 592.6,247.6 592.7,248.1 592.7,248.6 592.8,249.1 592.9,249.6 593,250.1 593,250.6 593.1,251.1 593.2,251.6 593.2,252.1 593.2,252.6 593.3,253.1 593.3,253.6 593.3,254.1 593.4,254.6 593.4,255.1 593.4,255.6 593.4,256.1 593.4,256.6 593.5,257.1 593.5,257.6 593.4,258.1 593.4,258.6 593.3,259.1 593.2,259.6 593.1,260.1 592.9,260.6 592.8,261.1 592.6,261.6 592.5,262.1 592.3,262.6 592.2,263.1 592,263.6 591.8,264.1 591.7,264.6 591.5,265.1 591.2,265.6 591,266.1 590.8,266.6 590.5,267.1 590.3,267.6 590,268.1 589.8,268.6 589.5,269.1 589.3,269.6 589.1,270.1 588.8,270.6 588.6,271.1 588.4,271.6 588.2,272.1 587.9,272.6 587.7,273.1 587.5,273.6 587.3,274.1 587,274.6 586.8,275.1 586.6,275.6 586.4,276.1 586.3,276.6 586.1,277.1 585.9,277.6 585.7,278.1 585.6,278.6 585.4,279.1 585.3,279.6 585.1,280.1 585,280.6 584.8,281.1 584.7,281.6 584.6,282.1 584.5,282.6 584.4,283.1 584.2,283.6 584.2,284.1 584.1,284.6 584,285.1 583.9,285.6 583.8,286.1 583.8,286.6 583.7,287.1 583.6,287.6 583.6,288.1 583.5,288.6 583.5,289.1 583.5,289.2 583.5,289.2 583.5,289.1 583.4,288.6 583.4,288.1 583.3,287.6 583.3,287.1 583.2,286.6 583.1,286.1 583.1,285.6 583,285.1 582.9,284.6 582.8,284.1 582.7,283.6 582.6,283.1 582.5,282.6 582.4,282.1 582.3,281.6 582.1,281.1 582,280.6 581.8,280.1 581.7,279.6 581.5,279.1 581.4,278.6 581.2,278.1 581.1,277.6 580.9,277.1 580.7,276.6 580.5,276.1 580.3,275.6 580.1,275.1 579.9,274.6 579.7,274.1 579.5,273.6 579.3,273.1 579,272.6 578.8,272.1 578.6,271.6 578.4,271.1 578.1,270.6 577.9,270.1 577.7,269.6 577.4,269.1 577.2,268.6 577,268.1 576.7,267.6 576.5,267.1 576.2,266.6 576,266.1 575.7,265.6 575.5,265.1 575.3,264.6 575.1,264.1 575,263.6 574.8,263.1 574.6,262.6 574.5,262.1 574.3,261.6 574.2,261.1 574,260.6 573.9,260.1 573.8,259.6 573.7,259.1 573.6,258.6 573.5,258.1 573.5,257.6 573.5,257.1 573.5,256.6 573.5,256.1 573.6,255.6 573.6,255.1 573.6,254.6 573.6,254.1 573.7,253.6 573.7,253.1 573.7,252.6 573.8,252.1 573.8,251.6 573.9,251.1 573.9,250.6 574,250.1 574.1,249.6 574.1,249.1 574.2,248.6 574.3,248.1 574.4,247.6 574.5,247.1 574.6,246.6 574.6,246.1 574.7,245.6 574.8,245.1 574.9,244.6 574.9,244.1 575,243.6 575.1,243.1 575.2,242.6 575.2,242.1 575.3,241.6 575.4,241.1 575.5,240.6 575.5,240.1 575.6,239.6 575.7,239.1 575.8,238.6 575.9,238.1 575.9,237.6 576,237.1 576.1,236.6 576.2,236.1 576.3,235.6 576.4,235.1 576.6,234.6 576.7,234.1 576.8,233.6 577,233.1 577.1,232.6 577.2,232.1 577.4,231.6 577.5,231.1 577.7,230.6 577.8,230.1 578,229.6 578.1,229.1 578.3,228.6 578.4,228.1 578.6,227.6 578.7,227.1 578.9,226.6 579,226.1 579.2,225.6 579.4,225.1 579.6,224.6 579.7,224.1 579.9,223.6 580.1,223.1 580.2,222.6 580.4,222.1 580.5,221.6 580.7,221.1 580.8,220.6 580.9,220.1 581,219.6 581,219.1 581.1,218.6 581.1,218.1 581.2,217.6 581.2,217.1 581.2,216.6 581.2,216.1 581.3,215.6 581.3,215.1 581.3,214.6 581.3,214.1 581.4,213.6 581.4,213.1 581.4,212.6 581.4,212.1 581.4,211.6 581.4,211.1 581.4,210.6 581.4,210.1 581.4,209.6 581.4,209.1 581.4,208.6 581.4,208.1 581.4,207.6 581.3,207.1 581.3,206.6 581.3,206.1 581.2,205.6 581.2,205.1 581.2,204.6 581.2,204.1 581.1,203.6 581.1,203.1 581.1,202.6 581.1,202.1 581.1,201.6 581.1,201.1 581.1,200.6 581.1,200.1 581.1,199.6 581.2,199.1 581.2,198.6 581.2,198.1 581.3,197.6 581.3,197.1 581.4,196.6 581.4,196.1 581.5,195.6 581.5,195.1 581.6,194.6 581.6,194.1 581.7,193.6 581.7,193.1 581.8,192.6 581.9,192.1 581.9,191.6 582,191.1 582.1,190.6 582.1,190.1 582.2,189.6 582.3,189.1 582.4,188.6 582.5,188.1 582.5,187.6 582.6,187.1 582.7,186.6 582.8,186.1 582.8,185.6 582.9,185.1 582.9,184.6 583,184.1 583,183.6 583.1,183.1 583.1,182.6 583.2,182.1 583.2,181.6 583.2,181.1 583.3,180.6 583.3,180.1 583.3,179.6 583.4,179.1 583.4,178.6 583.4,178.1 583.4,177.6 583.5,177.1 583.5,176.6Z" fill="#a6d1fb" stroke="#111" stroke-width="0.62" stroke-linejoin="round"/>
<path d="M617.7,190.4 617.7,190.9 617.8,191.4 617.9,191.9 618.1,192.4 618.2,192.9 618.5,193.4 618.7,193.9 618.9,194.4 619.2,194.9 619.5,195.4 619.9,195.9 620.4,196.4 621,196.9 621.6,197.4 622.2,197.9 622.9,198.4 623.5,198.9 624.1,199.4 624.6,199.9 625.1,200.4 625.7,200.9 626.2,201.4 626.8,201.9 627.3,202.4 627.8,202.9 628.3,203.4 628.8,203.9 629.2,204.4 629.6,204.9 630,205.4 630.4,205.9 630.7,206.4 631,206.9 631.4,207.4 631.7,207.9 631.9,208.4 632.2,208.9 632.4,209.4 632.6,209.9 632.7,210.4 632.8,210.9 632.9,211.4 633,211.9 633.1,212.4 633.1,212.9 633.2,213.4 633.1,213.9 633,214.4 632.8,214.9 632.6,215.4 632.3,215.9 632.1,216.4 631.8,216.9 631.6,217.4 631.3,217.9 631,218.4 630.7,218.9 630.3,219.4 629.9,219.9 629.6,220.4 629.2,220.9 628.9,221.4 628.5,221.9 628.2,222.4 627.9,222.9 627.6,223.4 627.3,223.9 627,224.4 626.7,224.9 626.4,225.4 626.1,225.9 625.9,226.4 625.7,226.9 625.6,227.4 625.5,227.9 625.3,228.4 625.2,228.9 625.1,229.4 625.1,229.9 625,230.4 624.9,230.9 624.9,231.4 624.9,231.9 624.9,232.4 624.9,232.9 624.9,233.4 624.9,233.9 624.9,234.4 624.9,234.9 624.9,235.4 624.8,235.9 624.6,236.4 624.4,236.9 624.1,237.4 623.8,237.9 623.5,238.4 623.1,238.9 622.8,239.4 622.5,239.9 622.2,240.4 621.8,240.9 621.4,241.4 621,241.9 620.6,242.4 620.3,242.9 619.9,243.4 619.6,243.9 619.3,244.4 619.1,244.9 618.8,245.4 618.6,245.9 618.3,246.4 618.1,246.9 617.9,247.4 617.7,247.9 617.7,248 617.7,248 617.7,247.9 617.5,247.4 617.3,246.9 617,246.4 616.8,245.9 616.6,245.4 616.3,244.9 616,244.4 615.8,243.9 615.5,243.4 615.1,242.9 614.8,242.4 614.4,241.9 614,241.4 613.6,240.9 613.2,240.4 612.9,239.9 612.5,239.4 612.2,238.9 611.9,238.4 611.6,237.9 611.3,237.4 611,236.9 610.8,236.4 610.6,235.9 610.5,235.4 610.5,234.9 610.5,234.4 610.5,233.9 610.5,233.4 610.5,232.9 610.5,232.4 610.5,231.9 610.5,231.4 610.4,230.9 610.4,230.4 610.3,229.9 610.2,229.4 610.1,228.9 610,228.4 609.9,227.9 609.8,227.4 609.7,226.9 609.5,226.4 609.2,225.9 609,225.4 608.7,224.9 608.4,224.4 608.1,223.9 607.8,223.4 607.5,222.9 607.2,222.4 606.8,221.9 606.5,221.4 606.2,220.9 605.8,220.4 605.4,219.9 605.1,219.4 604.7,218.9 604.4,218.4 604.1,217.9 603.8,217.4 603.5,216.9 603.3,216.4 603,215.9 602.8,215.4 602.6,214.9 602.4,214.4 602.3,213.9 602.2,213.4 602.2,212.9 602.3,212.4 602.3,211.9 602.4,211.4 602.6,210.9 602.7,210.4 602.8,209.9 603,209.4 603.2,208.9 603.4,208.4 603.7,207.9 604,207.4 604.3,206.9 604.7,206.4 605,205.9 605.4,205.4 605.7,204.9 606.1,204.4 606.6,203.9 607,203.4 607.5,202.9 608.1,202.4 608.6,201.9 609.2,201.4 609.7,200.9 610.2,200.4 610.8,199.9 611.3,199.4 611.9,198.9 612.5,198.4 613.1,197.9 613.8,197.4 614.4,196.9 614.9,196.4 615.4,195.9 615.9,195.4 616.2,194.9 616.5,194.4 616.7,193.9 616.9,193.4 617.1,192.9 617.3,192.4 617.5,191.9 617.6,191.4 617.7,190.9 617.7,190.4Z" fill="#fbb4b4" stroke="#111" stroke-width="0.62" stroke-linejoin="round"/>
<rect x="581.25" y="239.38" width="5.16" height="15.47" fill="#a6d1fb" fill-opacity="0"/>
<path d="M583.83,232.16V239.38M583.83,254.84V263.44M581.25,239.38H586.41V254.84H581.25ZM581.25,248.83H586.41" fill="none" stroke="#1a1a1a" stroke-width="0.55"/>
<rect x="615.11" y="211.53" width="5.16" height="9.8" fill="#fbb4b4" fill-opacity="0"/>
<path d="M617.69,205.34V211.53M617.69,221.33V232.84M615.11,211.53H620.27V221.33H615.11ZM615.11,216.69H620.27" fill="none" stroke="#1a1a1a" stroke-width="0.55"/>
<path d="M583.83,244.19L618.2,216.17" stroke="#000" stroke-width="0.7" fill="none"/>
<circle cx="581.59" cy="202.77" r="1.85"/>
<circle cx="582.11" cy="232.16" r="1.85"/>
<circle cx="583.83" cy="236.8" r="1.85"/>
<circle cx="581.25" cy="243.33" r="1.85"/>
<circle cx="584.34" cy="241.09" r="1.85"/>
<circle cx="585.03" cy="244.19" r="1.85"/>
<circle cx="582.97" cy="246.25" r="1.85"/>
<circle cx="585.03" cy="256.22" r="1.85"/>
<circle cx="581.77" cy="258.28" r="1.85"/>
<circle cx="584.34" cy="261.72" r="1.85"/>
<circle cx="585.03" cy="263.44" r="1.85"/>
<circle cx="617" cy="205.34" r="1.85"/>
<circle cx="615.62" cy="211.02" r="1.85"/>
<circle cx="620.78" cy="215.31" r="1.85"/>
<circle cx="616.48" cy="216.69" r="1.85"/>
<circle cx="619.06" cy="218.75" r="1.85"/>
<circle cx="618.72" cy="221.84" r="1.85"/>
<circle cx="615.97" cy="233.02" r="1.85"/>
<rect x="581.88" y="242.24" width="3.9" height="3.9"/>
<rect x="616.25" y="214.22" width="3.9" height="3.9"/>
<rect x="563.55" y="157.73" width="74.42" height="12.89" fill="#fff" stroke="#2b2b2b" stroke-width="1.05"/>
<text x="600.75" y="167" font-size="6.9" fill="#333" text-anchor="middle">C_0032</text>
<path d="M563.55,170.62V295.23" stroke="#000" stroke-width="1.05" fill="none"/>
<path d="M561.25,171.48H563.55" stroke="#222" stroke-width="0.9"/>
<text x="558.75" y="174.04" font-size="7.1" fill="#333" stroke="#333" stroke-width="0.22" text-anchor="end">-6.8</text>
<path d="M561.25,195.89H563.55" stroke="#222" stroke-width="0.9"/>
<text x="558.75" y="198.45" font-size="7.1" fill="#333" stroke="#333" stroke-width="0.22" text-anchor="end">-7.0</text>
<path d="M561.25,219.95H563.55" stroke="#222" stroke-width="0.9"/>
<text x="558.75" y="222.51" font-size="7.1" fill="#333" stroke="#333" stroke-width="0.22" text-anchor="end">-7.2</text>
<path d="M561.25,244.19H563.55" stroke="#222" stroke-width="0.9"/>
<text x="558.75" y="246.74" font-size="7.1" fill="#333" stroke="#333" stroke-width="0.22" text-anchor="end">-7.4</text>
<path d="M561.25,268.59H563.55" stroke="#222" stroke-width="0.9"/>
<text x="558.75" y="271.15" font-size="7.1" fill="#333" stroke="#333" stroke-width="0.22" text-anchor="end">-7.6</text>
<path d="M561.25,292.66H563.55" stroke="#222" stroke-width="0.9"/>
<text x="558.75" y="295.21" font-size="7.1" fill="#333" stroke="#333" stroke-width="0.22" text-anchor="end">-7.8</text>
</g>
<g>
<path d="M85,336.8 85.1,337.2 85.1,337.8 85.2,338.2 85.3,338.8 85.4,339.2 85.5,339.8 85.6,340.2 85.7,340.8 85.8,341.2 85.9,341.8 86.1,342.2 86.3,342.8 86.5,343.2 86.7,343.8 87,344.2 87.2,344.8 87.5,345.2 87.8,345.8 88.1,346.2 88.4,346.8 88.6,347.2 88.9,347.8 89.2,348.2 89.5,348.8 89.8,349.2 90.1,349.8 90.4,350.2 90.8,350.8 91.1,351.2 91.5,351.8 91.8,352.2 92.1,352.8 92.5,353.2 92.8,353.8 93.1,354.2 93.3,354.8 93.6,355.2 93.8,355.8 94.1,356.2 94.3,356.8 94.5,357.2 94.7,357.8 95,358.2 95.2,358.8 95.3,359.2 95.5,359.8 95.7,360.2 95.9,360.8 96,361.2 96.1,361.8 96.2,362.2 96.3,362.8 96.4,363.2 96.5,363.8 96.6,364.2 96.7,364.8 96.7,365.2 96.8,365.8 96.9,366.2 96.9,366.8 97,367.2 97,367.8 97,368.2 97.1,368.8 97.1,369.2 97,369.8 97,370.2 97,370.8 96.9,371.2 96.9,371.8 96.8,372.2 96.8,372.8 96.7,373.2 96.6,373.8 96.5,374.2 96.4,374.8 96.3,375.2 96.2,375.8 96.1,376.2 96,376.8 95.9,377.2 95.7,377.8 95.5,378.2 95.3,378.8 95.1,379.2 94.9,379.8 94.7,380.2 94.5,380.8 94.2,381.2 94,381.8 93.8,382.2 93.5,382.8 93.3,383.2 93.1,383.8 92.9,384.2 92.7,384.8 92.5,385.2 92.3,385.8 92,386.2 91.8,386.8 91.6,387.2 91.4,387.8 91.2,388.2 90.9,388.8 90.7,389.2 90.5,389.8 90.3,390.2 90.1,390.8 89.9,391.2 89.7,391.8 89.6,392.2 89.4,392.8 89.3,393.2 89.2,393.8 89,394.2 88.9,394.8 88.8,395.2 88.7,395.8 88.5,396.2 88.4,396.8 88.3,397.2 88.2,397.8 88.1,398.2 88,398.8 87.9,399.2 87.9,399.8 87.8,400.2 87.7,400.8 87.7,401.2 87.6,401.8 87.6,402.2 87.5,402.8 87.5,403.2 87.5,403.8 87.4,404.2 87.4,404.8 87.4,405.2 87.4,405.8 87.3,406.2 87.3,406.8 87.3,407.2 87.3,407.8 87.2,408.2 87.2,408.8 87.2,409.2 87.1,409.8 87.1,410.2 87.1,410.8 87,411.2 87,411.8 86.9,412.2 86.8,412.8 86.8,413.2 86.7,413.8 86.6,414.2 86.6,414.8 86.5,415.2 86.4,415.8 86.4,416.2 86.3,416.8 86.2,417.2 86.2,417.8 86.1,418.2 86.1,418.8 86,419.2 86,419.8 85.9,420.2 85.9,420.8 85.9,421.2 85.8,421.8 85.8,422.2 85.7,422.8 85.7,423.2 85.7,423.8 85.6,424.2 85.6,424.8 85.5,425.2 85.5,425.8 85.5,426.2 85.4,426.8 85.4,427.2 85.4,427.8 85.3,428.2 85.3,428.8 85.2,429.2 85.2,429.8 85.2,430.2 85.1,430.8 85.1,431.2 85,431.8 85,431.8 85,431.8 85,431.8 85,431.2 84.9,430.8 84.9,430.2 84.9,429.8 84.8,429.2 84.8,428.8 84.7,428.2 84.7,427.8 84.7,427.2 84.6,426.8 84.6,426.2 84.6,425.8 84.5,425.2 84.5,424.8 84.4,424.2 84.4,423.8 84.4,423.2 84.3,422.8 84.3,422.2 84.2,421.8 84.2,421.2 84.2,420.8 84.1,420.2 84.1,419.8 84,419.2 84,418.8 83.9,418.2 83.9,417.8 83.8,417.2 83.8,416.8 83.7,416.2 83.6,415.8 83.6,415.2 83.5,414.8 83.4,414.2 83.4,413.8 83.3,413.2 83.2,412.8 83.2,412.2 83.1,411.8 83.1,411.2 83,410.8 83,410.2 82.9,409.8 82.9,409.2 82.9,408.8 82.8,408.2 82.8,407.8 82.8,407.2 82.8,406.8 82.7,406.2 82.7,405.8 82.7,405.2 82.7,404.8 82.6,404.2 82.6,403.8 82.6,403.2 82.5,402.8 82.5,402.2 82.5,401.8 82.4,401.2 82.3,400.8 82.3,400.2 82.2,399.8 82.1,399.2 82,398.8 81.9,398.2 81.8,397.8 81.7,397.2 81.6,396.8 81.5,396.2 81.4,395.8 81.3,395.2 81.2,394.8 81,394.2 80.9,393.8 80.8,393.2 80.6,392.8 80.5,392.2 80.3,391.8 80.1,391.2 80,390.8 79.8,390.2 79.6,389.8 79.3,389.2 79.1,388.8 78.9,388.2 78.7,387.8 78.5,387.2 78.2,386.8 78,386.2 77.8,385.8 77.6,385.2 77.4,384.8 77.2,384.2 77,383.8 76.7,383.2 76.5,382.8 76.3,382.2 76.1,381.8 75.8,381.2 75.6,380.8 75.4,380.2 75.1,379.8 74.9,379.2 74.7,378.8 74.5,378.2 74.3,377.8 74.2,377.2 74,376.8 73.9,376.2 73.8,375.8 73.7,375.2 73.6,374.8 73.5,374.2 73.5,373.8 73.4,373.2 73.3,372.8 73.2,372.2 73.2,371.8 73.1,371.2 73.1,370.8 73,370.2 73,369.8 73,369.2 73,368.8 73,368.2 73,367.8 73.1,367.2 73.1,366.8 73.2,366.2 73.3,365.8 73.3,365.2 73.4,364.8 73.5,364.2 73.6,363.8 73.7,363.2 73.8,362.8 73.8,362.2 73.9,361.8 74.1,361.2 74.2,360.8 74.4,360.2 74.5,359.8 74.7,359.2 74.9,358.8 75.1,358.2 75.3,357.8 75.5,357.2 75.8,356.8 76,356.2 76.2,355.8 76.5,355.2 76.7,354.8 77,354.2 77.3,353.8 77.6,353.2 77.9,352.8 78.3,352.2 78.6,351.8 78.9,351.2 79.3,350.8 79.6,350.2 79.9,349.8 80.3,349.2 80.6,348.8 80.8,348.2 81.1,347.8 81.4,347.2 81.7,346.8 82,346.2 82.3,345.8 82.6,345.2 82.8,344.8 83.1,344.2 83.4,343.8 83.6,343.2 83.8,342.8 84,342.2 84.1,341.8 84.3,341.2 84.4,340.8 84.5,340.2 84.6,339.8 84.7,339.2 84.8,338.8 84.9,338.2 84.9,337.8 85,337.2 85,336.8Z" fill="#a6d1fb" stroke="#111" stroke-width="0.62" stroke-linejoin="round"/>
<path d="M119.1,318.9 119.1,319.4 119.1,319.9 119.2,320.4 119.3,320.9 119.4,321.4 119.6,321.9 119.7,322.4 119.9,322.9 120.1,323.4 120.2,323.9 120.4,324.4 120.7,324.9 121,325.4 121.4,325.9 121.8,326.4 122.3,326.9 122.8,327.4 123.3,327.9 123.9,328.4 124.4,328.9 124.9,329.4 125.4,329.9 126,330.4 126.6,330.9 127.3,331.4 127.9,331.9 128.6,332.4 129.2,332.9 129.8,333.4 130.3,333.9 130.8,334.4 131.2,334.9 131.6,335.4 132,335.9 132.4,336.4 132.8,336.9 133.1,337.4 133.4,337.9 133.7,338.4 133.9,338.9 134.1,339.4 134.2,339.9 134.3,340.4 134.3,340.9 134.4,341.4 134.5,341.9 134.5,342.4 134.5,342.9 134.5,343.4 134.5,343.9 134.5,344.4 134.4,344.9 134.3,345.4 134.2,345.9 134.1,346.4 134,346.9 133.9,347.4 133.8,347.9 133.7,348.4 133.6,348.9 133.4,349.4 133.3,349.9 133.1,350.4 132.9,350.9 132.8,351.4 132.6,351.9 132.4,352.4 132.1,352.9 131.9,353.4 131.7,353.9 131.5,354.4 131.3,354.9 131.1,355.4 130.8,355.9 130.6,356.4 130.4,356.9 130.1,357.4 129.9,357.9 129.6,358.4 129.4,358.9 129.1,359.4 128.8,359.9 128.6,360.4 128.3,360.9 128.1,361.4 127.8,361.9 127.6,362.4 127.3,362.9 127.1,363.4 126.8,363.9 126.5,364.4 126.3,364.9 126,365.4 125.7,365.9 125.5,366.4 125.2,366.9 125,367.4 124.8,367.9 124.5,368.4 124.3,368.9 124.1,369.4 123.9,369.9 123.7,370.4 123.5,370.9 123.3,371.4 123.1,371.9 122.9,372.4 122.7,372.9 122.5,373.4 122.3,373.9 122.2,374.4 122,374.9 121.8,375.4 121.7,375.9 121.5,376.4 121.3,376.9 121.2,377.4 121,377.9 120.9,378.4 120.7,378.9 120.6,379.4 120.4,379.9 120.3,380.4 120.1,380.9 120,381.4 119.9,381.9 119.8,382.4 119.7,382.9 119.6,383.4 119.5,383.9 119.3,384.4 119.3,384.9 119.2,385.4 119.1,385.9 119.1,385.9 119.1,385.9 119.1,385.9 119,385.4 118.9,384.9 118.8,384.4 118.7,383.9 118.6,383.4 118.5,382.9 118.3,382.4 118.2,381.9 118.1,381.4 118,380.9 117.8,380.4 117.7,379.9 117.6,379.4 117.4,378.9 117.3,378.4 117.1,377.9 117,377.4 116.8,376.9 116.6,376.4 116.5,375.9 116.3,375.4 116.1,374.9 116,374.4 115.8,373.9 115.6,373.4 115.4,372.9 115.2,372.4 115,371.9 114.9,371.4 114.7,370.9 114.5,370.4 114.2,369.9 114,369.4 113.8,368.9 113.6,368.4 113.4,367.9 113.1,367.4 112.9,366.9 112.6,366.4 112.4,365.9 112.1,365.4 111.9,364.9 111.6,364.4 111.3,363.9 111.1,363.4 110.8,362.9 110.6,362.4 110.3,361.9 110.1,361.4 109.8,360.9 109.5,360.4 109.3,359.9 109,359.4 108.8,358.9 108.5,358.4 108.2,357.9 108,357.4 107.7,356.9 107.5,356.4 107.3,355.9 107.1,355.4 106.8,354.9 106.6,354.4 106.4,353.9 106.2,353.4 106,352.9 105.8,352.4 105.6,351.9 105.4,351.4 105.2,350.9 105,350.4 104.8,349.9 104.7,349.4 104.6,348.9 104.4,348.4 104.3,347.9 104.2,347.4 104.1,346.9 104,346.4 103.9,345.9 103.8,345.4 103.7,344.9 103.7,344.4 103.6,343.9 103.6,343.4 103.6,342.9 103.6,342.4 103.7,341.9 103.7,341.4 103.8,340.9 103.9,340.4 103.9,339.9 104,339.4 104.2,338.9 104.4,338.4 104.7,337.9 105,337.4 105.3,336.9 105.7,336.4 106.1,335.9 106.5,335.4 106.9,334.9 107.3,334.4 107.8,333.9 108.3,333.4 108.9,332.9 109.6,332.4 110.2,331.9 110.9,331.4 111.5,330.9 112.1,330.4 112.7,329.9 113.2,329.4 113.7,328.9 114.3,328.4 114.8,327.9 115.3,327.4 115.8,326.9 116.3,326.4 116.8,325.9 117.1,325.4 117.4,324.9 117.7,324.4 117.9,323.9 118.1,323.4 118.3,322.9 118.4,322.4 118.6,321.9 118.7,321.4 118.8,320.9 118.9,320.4 119,319.9 119,319.4 119.1,318.9Z" fill="#fbb4b4" stroke="#111" stroke-width="0.62" stroke-linejoin="round"/>
<rect x="82.62" y="365.62" width="4.98" height="17.19" fill="#a6d1fb" fill-opacity="0"/>
<path d="M85.12,359.61V365.62M85.12,382.81V408.59M82.62,365.62H87.61V382.81H82.62ZM82.62,375.08H87.61" fill="none" stroke="#1a1a1a" stroke-width="0.55"/>
<rect x="116.83" y="341.22" width="4.81" height="13.23" fill="#fbb4b4" fill-opacity="0"/>
<path d="M119.23,338.47V341.22M119.23,354.45V365.62M116.83,341.22H121.64V354.45H116.83ZM116.83,349.3H121.64" fill="none" stroke="#1a1a1a" stroke-width="0.55"/>
<path d="M85.55,374.73L119.06,349.81" stroke="#000" stroke-width="0.7" fill="none"/>
<circle cx="82.97" cy="359.61" r="1.85"/>
<circle cx="86.41" cy="359.61" r="1.85"/>
<circle cx="86.41" cy="365.28" r="1.85"/>
<circle cx="85.03" cy="369.06" r="1.85"/>
<circle cx="82.62" cy="372.16" r="1.85"/>
<circle cx="86.06" cy="374.22" r="1.85"/>
<circle cx="85.03" cy="378" r="1.85"/>
<circle cx="82.97" cy="381.09" r="1.85"/>
<circle cx="86.06" cy="382.81" r="1.85"/>
<circle cx="83.31" cy="387.97" r="1.85"/>
<circle cx="85.03" cy="408.25" r="1.85"/>
<circle cx="119.92" cy="338.47" r="1.85"/>
<circle cx="116.83" cy="341.05" r="1.85"/>
<circle cx="119.41" cy="341.56" r="1.85"/>
<circle cx="122.16" cy="347.23" r="1.85"/>
<circle cx="118.72" cy="349.3" r="1.85"/>
<circle cx="116.83" cy="354.45" r="1.85"/>
<circle cx="118.2" cy="365.62" r="1.85"/>
<rect x="83.6" y="372.78" width="3.9" height="3.9"/>
<rect x="117.11" y="347.86" width="3.9" height="3.9"/>
<rect x="64.92" y="299.97" width="74.07" height="12.89" fill="#fff" stroke="#2b2b2b" stroke-width="1.05"/>
<text x="101.96" y="309" font-size="6.9" fill="#333" text-anchor="middle">C_0049</text>
<path d="M64.92,312.86V437.47" stroke="#000" stroke-width="1.05" fill="none"/>
<path d="M62.62,314.06H64.92" stroke="#222" stroke-width="0.9"/>
<text x="60.12" y="316.62" font-size="7.1" fill="#333" stroke="#333" stroke-width="0.22" text-anchor="end">-6.50</text>
<path d="M62.62,342.08H64.92" stroke="#222" stroke-width="0.9"/>
<text x="60.12" y="344.63" font-size="7.1" fill="#333" stroke="#333" stroke-width="0.22" text-anchor="end">-6.75</text>
<path d="M62.62,370.27H64.92" stroke="#222" stroke-width="0.9"/>
<text x="60.12" y="372.82" font-size="7.1" fill="#333" stroke="#333" stroke-width="0.22" text-anchor="end">-7.00</text>
<path d="M62.62,398.45H64.92" stroke="#222" stroke-width="0.9"/>
<text x="60.12" y="401.01" font-size="7.1" fill="#333" stroke="#333" stroke-width="0.22" text-anchor="end">-7.25</text>
<path d="M62.62,426.64H64.92" stroke="#222" stroke-width="0.9"/>
<text x="60.12" y="429.2" font-size="7.1" fill="#333" stroke="#333" stroke-width="0.22" text-anchor="end">-7.50</text>
</g>
<g>
<path d="M185.5,329.5 185.6,330 185.6,330.5 185.6,331 185.6,331.5 185.7,332 185.8,332.5 185.8,333 185.9,333.5 186,334 186.1,334.5 186.1,335 186.2,335.5 186.3,336 186.4,336.5 186.6,337 186.7,337.5 186.9,338 187.1,338.5 187.3,339 187.5,339.5 187.8,340 188,340.5 188.3,341 188.5,341.5 188.8,342 189,342.5 189.2,343 189.4,343.5 189.7,344 189.9,344.5 190.2,345 190.4,345.5 190.7,346 191,346.5 191.2,347 191.4,347.5 191.6,348 191.8,348.5 191.9,349 192,349.5 192.1,350 192.1,350.5 192.1,351 192.1,351.5 192.1,352 192.1,352.5 192.1,353 192.1,353.5 192.1,354 192.1,354.5 192.1,355 192.1,355.5 192.1,356 192.1,356.5 192.1,357 192.1,357.5 192,358 191.9,358.5 191.8,359 191.7,359.5 191.5,360 191.4,360.5 191.2,361 191.1,361.5 191,362 190.8,362.5 190.8,363 190.7,363.5 190.7,364 190.7,364.5 190.8,365 190.8,365.5 190.9,366 191,366.5 191.1,367 191.2,367.5 191.3,368 191.4,368.5 191.6,369 191.7,369.5 191.9,370 192,370.5 192.2,371 192.3,371.5 192.6,372 192.8,372.5 193.1,373 193.4,373.5 193.7,374 194,374.5 194.3,375 194.6,375.5 194.9,376 195.2,376.5 195.5,377 195.8,377.5 196.1,378 196.3,378.5 196.6,379 196.9,379.5 197.1,380 197.4,380.5 197.7,381 197.9,381.5 198.2,382 198.4,382.5 198.7,383 198.9,383.5 199.1,384 199.3,384.5 199.5,385 199.7,385.5 199.9,386 200.1,386.5 200.2,387 200.4,387.5 200.5,388 200.6,388.5 200.7,389 200.7,389.5 200.6,390 200.6,390.5 200.5,391 200.4,391.5 200.2,392 200.1,392.5 199.9,393 199.7,393.5 199.6,394 199.4,394.5 199.2,395 199.1,395.5 198.9,396 198.6,396.5 198.4,397 198.2,397.5 197.9,398 197.6,398.5 197.4,399 197.1,399.5 196.8,400 196.5,400.5 196.3,401 196,401.5 195.7,402 195.5,402.5 195.2,403 195,403.5 194.7,404 194.5,404.5 194.2,405 194,405.5 193.8,406 193.5,406.5 193.3,407 193.1,407.5 192.8,408 192.6,408.5 192.4,409 192.1,409.5 191.9,410 191.7,410.5 191.5,411 191.3,411.5 191,412 190.8,412.5 190.6,413 190.4,413.5 190.2,414 190,414.5 189.7,415 189.5,415.5 189.3,416 189.1,416.5 188.9,417 188.7,417.5 188.5,418 188.3,418.5 188.1,419 187.9,419.5 187.8,420 187.6,420.5 187.5,421 187.4,421.5 187.2,422 187.1,422.5 187,423 186.8,423.5 186.7,424 186.6,424.5 186.5,425 186.4,425.5 186.3,426 186.2,426.5 186.1,427 186.1,427.5 186,428 185.9,428.5 185.8,429 185.8,429.5 185.7,430 185.7,430.5 185.6,431 185.6,431.5 185.5,431.8 185.5,431.8 185.5,431.5 185.5,431 185.4,430.5 185.4,430 185.3,429.5 185.3,429 185.2,428.5 185.1,428 185,427.5 185,427 184.9,426.5 184.8,426 184.7,425.5 184.6,425 184.5,424.5 184.4,424 184.2,423.5 184.1,423 184,422.5 183.9,422 183.7,421.5 183.6,421 183.5,420.5 183.3,420 183.1,419.5 183,419 182.8,418.5 182.6,418 182.4,417.5 182.2,417 182,416.5 181.8,416 181.6,415.5 181.4,415 181.1,414.5 180.9,414 180.7,413.5 180.5,413 180.3,412.5 180,412 179.8,411.5 179.6,411 179.4,410.5 179.2,410 178.9,409.5 178.7,409 178.5,408.5 178.3,408 178,407.5 177.8,407 177.6,406.5 177.3,406 177.1,405.5 176.9,405 176.6,404.5 176.4,404 176.1,403.5 175.9,403 175.6,402.5 175.4,402 175.1,401.5 174.8,401 174.6,400.5 174.3,400 174,399.5 173.7,399 173.4,398.5 173.2,398 172.9,397.5 172.7,397 172.5,396.5 172.2,396 172,395.5 171.9,395 171.7,394.5 171.5,394 171.4,393.5 171.2,393 171,392.5 170.9,392 170.7,391.5 170.6,391 170.5,390.5 170.5,390 170.4,389.5 170.4,389 170.5,388.5 170.6,388 170.7,387.5 170.9,387 171,386.5 171.2,386 171.4,385.5 171.6,385 171.8,384.5 172,384 172.2,383.5 172.4,383 172.6,382.5 172.9,382 173.1,381.5 173.4,381 173.7,380.5 173.9,380 174.2,379.5 174.5,379 174.8,378.5 175,378 175.3,377.5 175.6,377 175.9,376.5 176.2,376 176.5,375.5 176.8,375 177.1,374.5 177.4,374 177.7,373.5 178,373 178.3,372.5 178.5,372 178.8,371.5 178.9,371 179.1,370.5 179.2,370 179.4,369.5 179.5,369 179.7,368.5 179.8,368 179.9,367.5 180,367 180.1,366.5 180.2,366 180.3,365.5 180.3,365 180.4,364.5 180.4,364 180.4,363.5 180.3,363 180.2,362.5 180.1,362 180,361.5 179.9,361 179.7,360.5 179.6,360 179.4,359.5 179.3,359 179.2,358.5 179.1,358 179,357.5 179,357 179,356.5 179,356 179,355.5 179,355 179,354.5 179,354 179,353.5 179,353 179,352.5 179,352 179,351.5 179,351 179,350.5 179,350 179.1,349.5 179.1,349 179.3,348.5 179.5,348 179.7,347.5 179.9,347 180.1,346.5 180.4,346 180.7,345.5 180.9,345 181.2,344.5 181.4,344 181.7,343.5 181.9,343 182.1,342.5 182.3,342 182.6,341.5 182.8,341 183.1,340.5 183.3,340 183.6,339.5 183.8,339 184,338.5 184.2,338 184.4,337.5 184.5,337 184.7,336.5 184.8,336 184.9,335.5 184.9,335 185,334.5 185.1,334 185.2,333.5 185.3,333 185.3,332.5 185.4,332 185.5,331.5 185.5,331 185.5,330.5 185.5,330 185.5,329.5Z" fill="#a6d1fb" stroke="#111" stroke-width="0.62" stroke-linejoin="round"/>
<path d="M219.4,318.9 219.4,319.4 219.5,319.9 219.5,320.4 219.6,320.9 219.7,321.4 219.8,321.9 219.8,322.4 219.9,322.9 220,323.4 220.2,323.9 220.3,324.4 220.4,324.9 220.5,325.4 220.7,325.9 220.9,326.4 221.1,326.9 221.3,327.4 221.6,327.9 221.8,328.4 222,328.9 222.3,329.4 222.5,329.9 222.8,330.4 223,330.9 223.2,331.4 223.5,331.9 223.7,332.4 224,332.9 224.2,333.4 224.5,333.9 224.7,334.4 225,334.9 225.2,335.4 225.5,335.9 225.8,336.4 226,336.9 226.3,337.4 226.5,337.9 226.7,338.4 227,338.9 227.2,339.4 227.4,339.9 227.7,340.4 227.9,340.9 228.1,341.4 228.3,341.9 228.6,342.4 228.8,342.9 229,343.4 229.2,343.9 229.4,344.4 229.7,344.9 229.9,345.4 230.1,345.9 230.4,346.4 230.6,346.9 230.8,347.4 231.1,347.9 231.3,348.4 231.6,348.9 231.8,349.4 232,349.9 232.2,350.4 232.4,350.9 232.6,351.4 232.8,351.9 233,352.4 233.2,352.9 233.4,353.4 233.6,353.9 233.8,354.4 233.9,354.9 234.1,355.4 234.2,355.9 234.4,356.4 234.5,356.9 234.5,357.4 234.5,357.9 234.5,358.4 234.5,358.9 234.4,359.4 234.3,359.9 234.2,360.4 234.1,360.9 233.9,361.4 233.8,361.9 233.6,362.4 233.5,362.9 233.3,363.4 233.2,363.9 233,364.4 232.8,364.9 232.6,365.4 232.3,365.9 232,366.4 231.8,366.9 231.5,367.4 231.2,367.9 230.9,368.4 230.6,368.9 230.4,369.4 230.1,369.9 229.9,370.4 229.7,370.9 229.5,371.4 229.3,371.9 229.1,372.4 229,372.9 228.8,373.4 228.6,373.9 228.5,374.4 228.3,374.9 228.2,375.4 228.1,375.9 227.9,376.4 227.8,376.9 227.7,377.4 227.6,377.9 227.5,378.4 227.4,378.9 227.4,379.4 227.3,379.9 227.2,380.4 227.2,380.9 227.1,381.4 227,381.9 227,382.4 226.9,382.9 226.8,383.4 226.7,383.9 226.7,384.4 226.6,384.9 226.4,385.4 226.3,385.9 226.2,386.4 226,386.9 225.9,387.4 225.7,387.9 225.6,388.4 225.4,388.9 225.2,389.4 225.1,389.9 224.9,390.4 224.7,390.9 224.6,391.4 224.4,391.9 224.2,392.4 224,392.9 223.8,393.4 223.6,393.9 223.5,394.4 223.3,394.9 223.1,395.4 222.9,395.9 222.7,396.4 222.5,396.9 222.3,397.4 222.1,397.9 222,398.4 221.8,398.9 221.6,399.4 221.5,399.9 221.3,400.4 221.2,400.9 221,401.4 220.9,401.9 220.8,402.4 220.6,402.9 220.5,403.4 220.4,403.9 220.2,404.4 220.1,404.9 220,405.4 219.9,405.9 219.8,406.4 219.7,406.9 219.6,407.4 219.5,407.9 219.4,408.4 219.4,408.6 219.4,408.6 219.4,408.4 219.3,407.9 219.2,407.4 219.1,406.9 219,406.4 218.9,405.9 218.8,405.4 218.7,404.9 218.6,404.4 218.4,403.9 218.3,403.4 218.2,402.9 218.1,402.4 217.9,401.9 217.8,401.4 217.6,400.9 217.5,400.4 217.3,399.9 217.2,399.4 217,398.9 216.9,398.4 216.7,397.9 216.5,397.4 216.3,396.9 216.1,396.4 216,395.9 215.8,395.4 215.6,394.9 215.4,394.4 215.2,393.9 215,393.4 214.8,392.9 214.6,392.4 214.4,391.9 214.2,391.4 214.1,390.9 213.9,390.4 213.7,389.9 213.6,389.4 213.4,388.9 213.2,388.4 213.1,387.9 212.9,387.4 212.8,386.9 212.6,386.4 212.5,385.9 212.4,385.4 212.3,384.9 212.2,384.4 212.1,383.9 212,383.4 211.9,382.9 211.8,382.4 211.8,381.9 211.7,381.4 211.6,380.9 211.6,380.4 211.5,379.9 211.4,379.4 211.4,378.9 211.3,378.4 211.2,377.9 211.1,377.4 211,376.9 210.9,376.4 210.7,375.9 210.6,375.4 210.5,374.9 210.3,374.4 210.2,373.9 210,373.4 209.8,372.9 209.7,372.4 209.5,371.9 209.3,371.4 209.1,370.9 208.9,370.4 208.7,369.9 208.5,369.4 208.2,368.9 207.9,368.4 207.6,367.9 207.3,367.4 207.1,366.9 206.8,366.4 206.5,365.9 206.2,365.4 206,364.9 205.8,364.4 205.6,363.9 205.5,363.4 205.3,362.9 205.2,362.4 205,361.9 204.9,361.4 204.7,360.9 204.6,360.4 204.5,359.9 204.4,359.4 204.3,358.9 204.3,358.4 204.3,357.9 204.3,357.4 204.4,356.9 204.5,356.4 204.6,355.9 204.7,355.4 204.9,354.9 205.1,354.4 205.2,353.9 205.4,353.4 205.6,352.9 205.8,352.4 206,351.9 206.2,351.4 206.4,350.9 206.6,350.4 206.8,349.9 207,349.4 207.3,348.9 207.5,348.4 207.7,347.9 208,347.4 208.2,346.9 208.5,346.4 208.7,345.9 208.9,345.4 209.1,344.9 209.4,344.4 209.6,343.9 209.8,343.4 210,342.9 210.3,342.4 210.5,341.9 210.7,341.4 210.9,340.9 211.2,340.4 211.4,339.9 211.6,339.4 211.8,338.9 212.1,338.4 212.3,337.9 212.5,337.4 212.8,336.9 213.1,336.4 213.3,335.9 213.6,335.4 213.8,334.9 214.1,334.4 214.3,333.9 214.6,333.4 214.8,332.9 215.1,332.4 215.3,331.9 215.6,331.4 215.8,330.9 216,330.4 216.3,329.9 216.5,329.4 216.8,328.9 217,328.4 217.3,327.9 217.5,327.4 217.7,326.9 217.9,326.4 218.1,325.9 218.3,325.4 218.4,324.9 218.5,324.4 218.7,323.9 218.8,323.4 218.9,322.9 219,322.4 219.1,321.9 219.1,321.4 219.2,320.9 219.3,320.4 219.3,319.9 219.4,319.4 219.4,318.9Z" fill="#fbb4b4" stroke="#111" stroke-width="0.62" stroke-linejoin="round"/>
<rect x="182.97" y="375.08" width="5.16" height="18.05" fill="#a6d1fb" fill-opacity="0"/>
<path d="M185.55,352.73V375.08M185.55,393.12V408.59M182.97,375.08H188.12V393.12H182.97ZM182.97,386.25H188.12" fill="none" stroke="#1a1a1a" stroke-width="0.55"/>
<rect x="216.83" y="356.17" width="5.16" height="15.47" fill="#fbb4b4" fill-opacity="0"/>
<path d="M219.41,341.05V356.17M219.41,371.64V387.11M216.83,356.17H221.98V371.64H216.83ZM216.83,362.19H221.98" fill="none" stroke="#1a1a1a" stroke-width="0.55"/>
<path d="M186.06,383.33L219.41,362.53" stroke="#000" stroke-width="0.7" fill="none"/>
<circle cx="183.48" cy="352.39" r="1.85"/>
<circle cx="186.41" cy="354.97" r="1.85"/>
<circle cx="183.48" cy="372.84" r="1.85"/>
<circle cx="185.03" cy="383.67" r="1.85"/>
<circle cx="187.27" cy="383.16" r="1.85"/>
<circle cx="186.41" cy="388.48" r="1.85"/>
<circle cx="185.55" cy="392.27" r="1.85"/>
<circle cx="182.97" cy="393.12" r="1.85"/>
<circle cx="184.17" cy="401.72" r="1.85"/>
<circle cx="185.55" cy="408.59" r="1.85"/>
<circle cx="218.72" cy="340.88" r="1.85"/>
<circle cx="220.44" cy="357.03" r="1.85"/>
<circle cx="222.5" cy="358.75" r="1.85"/>
<circle cx="219.06" cy="362.19" r="1.85"/>
<circle cx="217.69" cy="371.12" r="1.85"/>
<circle cx="217.69" cy="387.11" r="1.85"/>
<rect x="184.11" y="381.38" width="3.9" height="3.9"/>
<rect x="217.46" y="360.58" width="3.9" height="3.9"/>
<rect x="165.44" y="299.97" width="73.9" height="12.89" fill="#fff" stroke="#2b2b2b" stroke-width="1.05"/>
<text x="202.39" y="309" font-size="6.9" fill="#333" text-anchor="middle">C_0029</text>
<path d="M165.44,312.86V437.47" stroke="#000" stroke-width="1.05" fill="none"/>
<path d="M163.14,339.84H165.44" stroke="#222" stroke-width="0.9"/>
<text x="160.64" y="342.4" font-size="7.1" fill="#333" stroke="#333" stroke-width="0.22" text-anchor="end">-3.50</text>
<path d="M163.14,373.7H165.44" stroke="#222" stroke-width="0.9"/>
<text x="160.64" y="376.26" font-size="7.1" fill="#333" stroke="#333" stroke-width="0.22" text-anchor="end">-3.75</text>
<path d="M163.14,407.56H165.44" stroke="#222" stroke-width="0.9"/>
<text x="160.64" y="410.12" font-size="7.1" fill="#333" stroke="#333" stroke-width="0.22" text-anchor="end">-4.00</text>
</g>
<g>
<path d="M286.1,318.9 286.1,319.4 286.1,319.9 286.1,320.4 286.1,320.9 286.1,321.4 286.1,321.9 286.1,322.4 286.1,322.9 286.1,323.4 286.1,323.9 286.1,324.4 286.2,324.9 286.2,325.4 286.2,325.9 286.2,326.4 286.2,326.9 286.2,327.4 286.2,327.9 286.2,328.4 286.2,328.9 286.2,329.4 286.3,329.9 286.3,330.4 286.3,330.9 286.3,331.4 286.3,331.9 286.3,332.4 286.3,332.9 286.3,333.4 286.3,333.9 286.4,334.4 286.4,334.9 286.4,335.4 286.4,335.9 286.4,336.4 286.4,336.9 286.4,337.4 286.5,337.9 286.5,338.4 286.5,338.9 286.5,339.4 286.5,339.9 286.5,340.4 286.6,340.9 286.6,341.4 286.6,341.9 286.6,342.4 286.6,342.9 286.6,343.4 286.7,343.9 286.7,344.4 286.7,344.9 286.7,345.4 286.7,345.9 286.8,346.4 286.8,346.9 286.8,347.4 286.8,347.9 286.9,348.4 286.9,348.9 286.9,349.4 286.9,349.9 286.9,350.4 287,350.9 287,351.4 287,351.9 287,352.4 287,352.9 287.1,353.4 287.1,353.9 287.1,354.4 287.1,354.9 287.1,355.4 287.2,355.9 287.2,356.4 287.2,356.9 287.2,357.4 287.2,357.9 287.3,358.4 287.3,358.9 287.3,359.4 287.3,359.9 287.3,360.4 287.3,360.9 287.4,361.4 287.4,361.9 287.4,362.4 287.4,362.9 287.4,363.4 287.4,363.9 287.5,364.4 287.5,364.9 287.5,365.4 287.5,365.9 287.5,366.4 287.5,366.9 287.5,367.4 287.6,367.9 287.6,368.4 287.6,368.9 287.6,369.4 287.6,369.9 287.6,370.4 287.6,370.9 287.6,371.4 287.6,371.9 287.6,372.4 287.6,372.9 287.6,373.4 287.6,373.9 287.6,374.4 287.6,374.9 287.6,375.4 287.6,375.9 287.6,376.4 287.6,376.9 287.6,377.4 287.6,377.9 287.6,378.4 287.6,378.9 287.6,379.4 287.5,379.9 287.5,380.4 287.5,380.9 287.5,381.4 287.5,381.9 287.5,382.4 287.5,382.9 287.5,383.4 287.5,383.9 287.5,384.4 287.5,384.9 287.5,385.4 287.4,385.9 287.4,386.4 287.4,386.9 287.4,387.4 287.4,387.9 287.4,388.4 287.4,388.9 287.3,389.4 287.3,389.9 287.3,390.4 287.3,390.9 287.3,391.4 287.2,391.9 287.2,392.4 287.2,392.9 287.2,393.4 287.1,393.9 287.1,394.4 287.1,394.9 287,395.4 287,395.9 287,396.4 287,396.9 286.9,397.4 286.9,397.9 286.9,398.4 286.9,398.9 286.8,399.4 286.8,399.9 286.8,400.4 286.8,400.9 286.8,401.4 286.7,401.9 286.7,402.4 286.7,402.9 286.7,403.4 286.7,403.9 286.7,404.4 286.7,404.9 286.6,405.4 286.6,405.9 286.6,406.4 286.6,406.9 286.6,407.4 286.6,407.9 286.6,408.4 286.5,408.9 286.5,409.4 286.5,409.9 286.5,410.4 286.5,410.9 286.5,411.4 286.5,411.9 286.5,412.4 286.5,412.9 286.4,413.4 286.4,413.9 286.4,414.4 286.4,414.9 286.4,415.4 286.4,415.9 286.4,416.4 286.4,416.9 286.4,417.4 286.3,417.9 286.3,418.4 286.3,418.9 286.3,419.4 286.3,419.9 286.3,420.4 286.3,420.9 286.3,421.4 286.3,421.9 286.2,422.4 286.2,422.9 286.2,423.4 286.2,423.9 286.2,424.4 286.2,424.9 286.2,425.4 286.2,425.9 286.2,426.4 286.2,426.9 286.1,427.4 286.1,427.9 286.1,428.4 286.1,428.9 286.1,429.4 286.1,429.9 286.1,430.4 286.1,430.9 286.1,431.4 286.1,431.8 286.1,431.8 286.1,431.4 286,430.9 286,430.4 286,429.9 286,429.4 286,428.9 286,428.4 286,427.9 286,427.4 286,426.9 286,426.4 286,425.9 285.9,425.4 285.9,424.9 285.9,424.4 285.9,423.9 285.9,423.4 285.9,422.9 285.9,422.4 285.9,421.9 285.9,421.4 285.8,420.9 285.8,420.4 285.8,419.9 285.8,419.4 285.8,418.9 285.8,418.4 285.8,417.9 285.8,417.4 285.8,416.9 285.7,416.4 285.7,415.9 285.7,415.4 285.7,414.9 285.7,414.4 285.7,413.9 285.7,413.4 285.7,412.9 285.7,412.4 285.6,411.9 285.6,411.4 285.6,410.9 285.6,410.4 285.6,409.9 285.6,409.4 285.6,408.9 285.6,408.4 285.6,407.9 285.5,407.4 285.5,406.9 285.5,406.4 285.5,405.9 285.5,405.4 285.5,404.9 285.5,404.4 285.4,403.9 285.4,403.4 285.4,402.9 285.4,402.4 285.4,401.9 285.4,401.4 285.3,400.9 285.3,400.4 285.3,399.9 285.3,399.4 285.3,398.9 285.2,398.4 285.2,397.9 285.2,397.4 285.2,396.9 285.1,396.4 285.1,395.9 285.1,395.4 285.1,394.9 285,394.4 285,393.9 285,393.4 284.9,392.9 284.9,392.4 284.9,391.9 284.9,391.4 284.8,390.9 284.8,390.4 284.8,389.9 284.8,389.4 284.8,388.9 284.7,388.4 284.7,387.9 284.7,387.4 284.7,386.9 284.7,386.4 284.7,385.9 284.7,385.4 284.7,384.9 284.7,384.4 284.6,383.9 284.6,383.4 284.6,382.9 284.6,382.4 284.6,381.9 284.6,381.4 284.6,380.9 284.6,380.4 284.6,379.9 284.6,379.4 284.6,378.9 284.6,378.4 284.5,377.9 284.5,377.4 284.5,376.9 284.5,376.4 284.5,375.9 284.5,375.4 284.5,374.9 284.5,374.4 284.5,373.9 284.5,373.4 284.5,372.9 284.5,372.4 284.5,371.9 284.5,371.4 284.5,370.9 284.5,370.4 284.5,369.9 284.5,369.4 284.6,368.9 284.6,368.4 284.6,367.9 284.6,367.4 284.6,366.9 284.6,366.4 284.6,365.9 284.6,365.4 284.7,364.9 284.7,364.4 284.7,363.9 284.7,363.4 284.7,362.9 284.7,362.4 284.8,361.9 284.8,361.4 284.8,360.9 284.8,360.4 284.8,359.9 284.8,359.4 284.9,358.9 284.9,358.4 284.9,357.9 284.9,357.4 284.9,356.9 284.9,356.4 285,355.9 285,355.4 285,354.9 285,354.4 285,353.9 285.1,353.4 285.1,352.9 285.1,352.4 285.1,351.9 285.1,351.4 285.2,350.9 285.2,350.4 285.2,349.9 285.2,349.4 285.3,348.9 285.3,348.4 285.3,347.9 285.3,347.4 285.3,346.9 285.4,346.4 285.4,345.9 285.4,345.4 285.4,344.9 285.4,344.4 285.5,343.9 285.5,343.4 285.5,342.9 285.5,342.4 285.5,341.9 285.6,341.4 285.6,340.9 285.6,340.4 285.6,339.9 285.6,339.4 285.6,338.9 285.7,338.4 285.7,337.9 285.7,337.4 285.7,336.9 285.7,336.4 285.7,335.9 285.7,335.4 285.8,334.9 285.8,334.4 285.8,333.9 285.8,333.4 285.8,332.9 285.8,332.4 285.8,331.9 285.8,331.4 285.9,330.9 285.9,330.4 285.9,329.9 285.9,329.4 285.9,328.9 285.9,328.4 285.9,327.9 285.9,327.4 285.9,326.9 285.9,326.4 286,325.9 286,325.4 286,324.9 286,324.4 286,323.9 286,323.4 286,322.9 286,322.4 286,321.9 286,321.4 286,320.9 286,320.4 286.1,319.9 286.1,319.4 286.1,318.9Z" fill="#a6d1fb" stroke="#111" stroke-width="0.62" stroke-linejoin="round"/>
<path d="M320.3,331.2 323.2,332.4 325.5,333 327.5,333.5 325.5,333.9 323.2,334.5 320.4,335.5 320.4,342.1 326.5,343.5 331.4,344.3 335.7,344.9 331.4,345.5 326.5,346.3 320.4,347.8 320.4,351.9 323.2,353 325.5,353.7 327.5,354.1 325.5,354.6 323.2,355.3 320.3,356.5 320.3,356.5 317.4,355.3 315.1,354.6 313,354.1 315.1,353.7 317.4,353 320.1,351.9 320.1,347.8 314.1,346.3 309.1,345.5 304.8,344.9 309.1,344.3 314.1,343.5 320.1,342.1 320.1,335.5 317.4,334.5 315.1,333.9 313,333.5 315.1,333 317.4,332.4 320.3,331.2Z" fill="#fbb4b4" stroke="#111" stroke-width="0.62" stroke-linejoin="round"/>
<rect x="283.48" y="362.19" width="5.16" height="23.2" fill="#a6d1fb" fill-opacity="0"/>
<path d="M286.06,347.92V362.19M286.06,385.39V402.58M283.48,362.19H288.64V385.39H283.48ZM283.48,374.22H288.64" fill="none" stroke="#1a1a1a" stroke-width="0.55"/>
<path d="M286.06,373.36L319.92,345" stroke="#000" stroke-width="0.7" fill="none"/>
<circle cx="283.83" cy="347.92" r="1.85"/>
<circle cx="284.69" cy="355.66" r="1.85"/>
<circle cx="286.06" cy="360.12" r="1.85"/>
<circle cx="286.75" cy="369.06" r="1.85"/>
<circle cx="283.31" cy="374.56" r="1.85"/>
<circle cx="285.03" cy="372.5" r="1.85"/>
<circle cx="287.27" cy="373.36" r="1.85"/>
<circle cx="285.55" cy="389.34" r="1.85"/>
<circle cx="287.61" cy="391.06" r="1.85"/>
<circle cx="287.61" cy="402.58" r="1.85"/>
<circle cx="323.02" cy="333.48" r="1.85"/>
<circle cx="319.92" cy="345" r="1.85"/>
<circle cx="318.55" cy="354.28" r="1.85"/>
<rect x="284.11" y="371.41" width="3.9" height="3.9"/>
<rect x="317.97" y="343.05" width="3.9" height="3.9"/>
<rect x="266.12" y="299.97" width="74.07" height="12.89" fill="#fff" stroke="#2b2b2b" stroke-width="1.05"/>
<text x="303.16" y="309" font-size="6.9" fill="#333" text-anchor="middle">C_0079</text>
<path d="M266.12,312.86V437.47" stroke="#000" stroke-width="1.05" fill="none"/>
<path d="M263.82,318.36H266.12" stroke="#222" stroke-width="0.9"/>
<text x="261.32" y="320.92" font-size="7.1" fill="#333" stroke="#333" stroke-width="0.22" text-anchor="end">-6.9</text>
<path d="M263.82,347.92H266.12" stroke="#222" stroke-width="0.9"/>
<text x="261.32" y="350.48" font-size="7.1" fill="#333" stroke="#333" stroke-width="0.22" text-anchor="end">-7.1</text>
<path d="M263.82,377.31H266.12" stroke="#222" stroke-width="0.9"/>
<text x="261.32" y="379.87" font-size="7.1" fill="#333" stroke="#333" stroke-width="0.22" text-anchor="end">-7.3</text>
<path d="M263.82,406.7H266.12" stroke="#222" stroke-width="0.9"/>
<text x="261.32" y="409.26" font-size="7.1" fill="#333" stroke="#333" stroke-width="0.22" text-anchor="end">-7.5</text>
<path d="M263.82,436.09H266.12" stroke="#222" stroke-width="0.9"/>
<text x="261.32" y="438.65" font-size="7.1" fill="#333" stroke="#333" stroke-width="0.22" text-anchor="end">-7.7</text>
</g>
<g>
<path d="M386.4,346.4 386.5,346.9 386.6,347.4 386.7,347.9 386.9,348.4 387,348.9 387.1,349.4 387.2,349.9 387.4,350.4 387.5,350.9 387.6,351.4 387.8,351.9 387.9,352.4 388.1,352.9 388.3,353.4 388.4,353.9 388.6,354.4 388.8,354.9 389,355.4 389.2,355.9 389.3,356.4 389.5,356.9 389.7,357.4 389.9,357.9 390.1,358.4 390.2,358.9 390.4,359.4 390.6,359.9 390.7,360.4 390.9,360.9 391,361.4 391.2,361.9 391.3,362.4 391.5,362.9 391.6,363.4 391.8,363.9 392,364.4 392.1,364.9 392.3,365.4 392.5,365.9 392.7,366.4 393,366.9 393.2,367.4 393.4,367.9 393.7,368.4 393.9,368.9 394.2,369.4 394.4,369.9 394.7,370.4 395,370.9 395.3,371.4 395.5,371.9 395.8,372.4 396.1,372.9 396.4,373.4 396.7,373.9 397,374.4 397.3,374.9 397.6,375.4 397.9,375.9 398.2,376.4 398.5,376.9 398.8,377.4 399.1,377.9 399.4,378.4 399.6,378.9 399.8,379.4 400,379.9 400.2,380.4 400.4,380.9 400.6,381.4 400.8,381.9 401,382.4 401.2,382.9 401.4,383.4 401.5,383.9 401.6,384.4 401.7,384.9 401.8,385.4 401.9,385.9 401.9,386.4 401.9,386.9 401.8,387.4 401.8,387.9 401.7,388.4 401.6,388.9 401.5,389.4 401.4,389.9 401.3,390.4 401.2,390.9 401,391.4 400.8,391.9 400.5,392.4 400.1,392.9 399.7,393.4 399.2,393.9 398.7,394.4 398.2,394.9 397.7,395.4 397.2,395.9 396.8,396.4 396.5,396.9 396.2,397.4 395.9,397.9 395.6,398.4 395.3,398.9 395,399.4 394.8,399.9 394.5,400.4 394.3,400.9 394,401.4 393.8,401.9 393.6,402.4 393.5,402.9 393.3,403.4 393.2,403.9 393,404.4 392.9,404.9 392.8,405.4 392.7,405.9 392.6,406.4 392.5,406.9 392.4,407.4 392.3,407.9 392.2,408.4 392.2,408.9 392.1,409.4 392,409.9 391.9,410.4 391.8,410.9 391.7,411.4 391.6,411.9 391.6,412.4 391.5,412.9 391.4,413.4 391.3,413.9 391.2,414.4 391.2,414.9 391.1,415.4 391,415.9 390.9,416.4 390.8,416.9 390.7,417.4 390.5,417.9 390.4,418.4 390.2,418.9 390,419.4 389.8,419.9 389.6,420.4 389.3,420.9 389.1,421.4 388.9,421.9 388.7,422.4 388.5,422.9 388.3,423.4 388.2,423.9 388,424.4 387.9,424.9 387.8,425.4 387.6,425.9 387.5,426.4 387.4,426.9 387.3,427.4 387.1,427.9 387,428.4 386.9,428.9 386.8,429.4 386.7,429.9 386.6,430.4 386.5,430.9 386.5,431.4 386.4,431.8 386.4,431.8 386.3,431.4 386.3,430.9 386.2,430.4 386.1,429.9 386,429.4 385.9,428.9 385.8,428.4 385.7,427.9 385.6,427.4 385.4,426.9 385.3,426.4 385.2,425.9 385,425.4 384.9,424.9 384.8,424.4 384.6,423.9 384.5,423.4 384.3,422.9 384.1,422.4 383.9,421.9 383.7,421.4 383.5,420.9 383.3,420.4 383,419.9 382.8,419.4 382.6,418.9 382.5,418.4 382.3,417.9 382.2,417.4 382,416.9 381.9,416.4 381.8,415.9 381.7,415.4 381.6,414.9 381.6,414.4 381.5,413.9 381.4,413.4 381.3,412.9 381.3,412.4 381.2,411.9 381.1,411.4 381,410.9 380.9,410.4 380.8,409.9 380.7,409.4 380.7,408.9 380.6,408.4 380.5,407.9 380.4,407.4 380.3,406.9 380.2,406.4 380.1,405.9 380,405.4 379.9,404.9 379.8,404.4 379.7,403.9 379.5,403.4 379.4,402.9 379.2,402.4 379,401.9 378.8,401.4 378.5,400.9 378.3,400.4 378,399.9 377.8,399.4 377.5,398.9 377.2,398.4 376.9,397.9 376.6,397.4 376.3,396.9 376,396.4 375.6,395.9 375.1,395.4 374.6,394.9 374.1,394.4 373.6,393.9 373.1,393.4 372.7,392.9 372.3,392.4 372,391.9 371.8,391.4 371.7,390.9 371.5,390.4 371.4,389.9 371.3,389.4 371.2,388.9 371.1,388.4 371,387.9 371,387.4 371,386.9 370.9,386.4 370.9,385.9 371,385.4 371.1,384.9 371.2,384.4 371.3,383.9 371.4,383.4 371.6,382.9 371.8,382.4 372,381.9 372.2,381.4 372.4,380.9 372.6,380.4 372.8,379.9 373,379.4 373.2,378.9 373.4,378.4 373.7,377.9 374,377.4 374.3,376.9 374.6,376.4 374.9,375.9 375.2,375.4 375.5,374.9 375.8,374.4 376.2,373.9 376.5,373.4 376.7,372.9 377,372.4 377.3,371.9 377.6,371.4 377.8,370.9 378.1,370.4 378.4,369.9 378.6,369.4 378.9,368.9 379.1,368.4 379.4,367.9 379.6,367.4 379.9,366.9 380.1,366.4 380.3,365.9 380.5,365.4 380.7,364.9 380.9,364.4 381,363.9 381.2,363.4 381.3,362.9 381.5,362.4 381.7,361.9 381.8,361.4 382,360.9 382.1,360.4 382.3,359.9 382.4,359.4 382.6,358.9 382.8,358.4 382.9,357.9 383.1,357.4 383.3,356.9 383.5,356.4 383.7,355.9 383.8,355.4 384,354.9 384.2,354.4 384.4,353.9 384.6,353.4 384.7,352.9 384.9,352.4 385,351.9 385.2,351.4 385.3,350.9 385.5,350.4 385.6,349.9 385.7,349.4 385.8,348.9 386,348.4 386.1,347.9 386.2,347.4 386.3,346.9 386.4,346.4Z" fill="#a6d1fb" stroke="#111" stroke-width="0.62" stroke-linejoin="round"/>
<path d="M420.4,318.9 420.5,319.4 420.5,319.9 420.6,320.4 420.7,320.9 420.8,321.4 420.9,321.9 421,322.4 421.1,322.9 421.2,323.4 421.3,323.9 421.5,324.4 421.6,324.9 421.8,325.4 422,325.9 422.2,326.4 422.4,326.9 422.7,327.4 422.9,327.9 423.2,328.4 423.5,328.9 423.8,329.4 424,329.9 424.3,330.4 424.5,330.9 424.8,331.4 425,331.9 425.3,332.4 425.6,332.9 425.9,333.4 426.1,333.9 426.4,334.4 426.7,334.9 427,335.4 427.2,335.9 427.5,336.4 427.7,336.9 427.9,337.4 428.1,337.9 428.3,338.4 428.4,338.9 428.6,339.4 428.8,339.9 428.9,340.4 429.1,340.9 429.3,341.4 429.4,341.9 429.5,342.4 429.7,342.9 429.7,343.4 429.8,343.9 429.9,344.4 429.9,344.9 429.9,345.4 429.9,345.9 429.9,346.4 429.9,346.9 429.9,347.4 429.9,347.9 429.9,348.4 429.9,348.9 429.9,349.4 429.9,349.9 429.9,350.4 429.9,350.9 429.9,351.4 429.9,351.9 429.9,352.4 429.9,352.9 430,353.4 430,353.9 430.1,354.4 430.2,354.9 430.3,355.4 430.4,355.9 430.5,356.4 430.6,356.9 430.8,357.4 430.9,357.9 431,358.4 431.1,358.9 431.3,359.4 431.5,359.9 431.7,360.4 431.9,360.9 432.2,361.4 432.4,361.9 432.7,362.4 432.9,362.9 433.1,363.4 433.4,363.9 433.5,364.4 433.7,364.9 433.8,365.4 433.9,365.9 433.9,366.4 434,366.9 434,367.4 434.1,367.9 434.1,368.4 434.2,368.9 434.2,369.4 434.2,369.9 434.2,370.4 434.1,370.9 434,371.4 433.8,371.9 433.6,372.4 433.3,372.9 433.1,373.4 432.8,373.9 432.5,374.4 432.2,374.9 431.9,375.4 431.6,375.9 431.4,376.4 431,376.9 430.7,377.4 430.3,377.9 429.9,378.4 429.5,378.9 429.1,379.4 428.7,379.9 428.3,380.4 427.9,380.9 427.5,381.4 427.1,381.9 426.7,382.4 426.4,382.9 426.1,383.4 425.8,383.9 425.4,384.4 425.1,384.9 424.8,385.4 424.5,385.9 424.2,386.4 423.9,386.9 423.6,387.4 423.3,387.9 423.1,388.4 422.8,388.9 422.6,389.4 422.4,389.9 422.2,390.4 422.1,390.9 421.9,391.4 421.7,391.9 421.6,392.4 421.4,392.9 421.3,393.4 421.2,393.9 421.1,394.4 420.9,394.9 420.8,395.4 420.8,395.9 420.7,396.4 420.6,396.9 420.5,397.4 420.4,397.9 420.4,397.9 420.4,397.9 420.4,397.9 420.4,397.4 420.3,396.9 420.2,396.4 420.1,395.9 420,395.4 419.9,394.9 419.8,394.4 419.7,393.9 419.6,393.4 419.4,392.9 419.3,392.4 419.1,391.9 419,391.4 418.8,390.9 418.6,390.4 418.4,389.9 418.2,389.4 418,388.9 417.8,388.4 417.5,387.9 417.3,387.4 417,386.9 416.7,386.4 416.4,385.9 416.1,385.4 415.8,384.9 415.4,384.4 415.1,383.9 414.8,383.4 414.5,382.9 414.1,382.4 413.8,381.9 413.4,381.4 413,380.9 412.6,380.4 412.2,379.9 411.8,379.4 411.3,378.9 410.9,378.4 410.5,377.9 410.2,377.4 409.8,376.9 409.5,376.4 409.2,375.9 409,375.4 408.7,374.9 408.4,374.4 408.1,373.9 407.8,373.4 407.5,372.9 407.3,372.4 407.1,371.9 406.9,371.4 406.8,370.9 406.7,370.4 406.7,369.9 406.7,369.4 406.7,368.9 406.7,368.4 406.8,367.9 406.8,367.4 406.9,366.9 406.9,366.4 407,365.9 407.1,365.4 407.2,364.9 407.3,364.4 407.5,363.9 407.7,363.4 408,362.9 408.2,362.4 408.5,361.9 408.7,361.4 409,360.9 409.2,360.4 409.4,359.9 409.6,359.4 409.7,358.9 409.9,358.4 410,357.9 410.1,357.4 410.2,356.9 410.4,356.4 410.5,355.9 410.6,355.4 410.7,354.9 410.8,354.4 410.8,353.9 410.9,353.4 410.9,352.9 411,352.4 411,351.9 411,351.4 411,350.9 411,350.4 411,349.9 411,349.4 411,348.9 411,348.4 411,347.9 411,347.4 411,346.9 411,346.4 411,345.9 411,345.4 411,344.9 411,344.4 411.1,343.9 411.1,343.4 411.2,342.9 411.3,342.4 411.5,341.9 411.6,341.4 411.8,340.9 411.9,340.4 412.1,339.9 412.3,339.4 412.4,338.9 412.6,338.4 412.8,337.9 413,337.4 413.2,336.9 413.4,336.4 413.7,335.9 413.9,335.4 414.2,334.9 414.5,334.4 414.7,333.9 415,333.4 415.3,332.9 415.6,332.4 415.8,331.9 416.1,331.4 416.3,330.9 416.6,330.4 416.9,329.9 417.1,329.4 417.4,328.9 417.7,328.4 417.9,327.9 418.2,327.4 418.4,326.9 418.7,326.4 418.9,325.9 419.1,325.4 419.3,324.9 419.4,324.4 419.5,323.9 419.7,323.4 419.8,322.9 419.9,322.4 420,321.9 420.1,321.4 420.2,320.9 420.3,320.4 420.3,319.9 420.4,319.4 420.4,318.9Z" fill="#fbb4b4" stroke="#111" stroke-width="0.62" stroke-linejoin="round"/>
<rect x="383.83" y="377.66" width="5.16" height="12.89" fill="#a6d1fb" fill-opacity="0"/>
<path d="M386.41,362.53V377.66M386.41,390.55V401.72M383.83,377.66H388.98V390.55H383.83ZM383.83,386.25H388.98" fill="none" stroke="#1a1a1a" stroke-width="0.55"/>
<rect x="418.2" y="345.86" width="5.16" height="23.2" fill="#fbb4b4" fill-opacity="0"/>
<path d="M420.78,344.48V345.86M420.78,369.06V372.16M418.2,345.86H423.36V369.06H418.2ZM418.2,359.61H423.36" fill="none" stroke="#1a1a1a" stroke-width="0.55"/>
<path d="M386.75,387.11L420.44,359.61" stroke="#000" stroke-width="0.7" fill="none"/>
<circle cx="384.69" cy="362.53" r="1.85"/>
<circle cx="387.61" cy="373.7" r="1.85"/>
<circle cx="385.03" cy="378.52" r="1.85"/>
<circle cx="386.75" cy="378.86" r="1.85"/>
<circle cx="385.03" cy="385.39" r="1.85"/>
<circle cx="388.12" cy="387.97" r="1.85"/>
<circle cx="384.17" cy="389.69" r="1.85"/>
<circle cx="386.41" cy="391.06" r="1.85"/>
<circle cx="387.78" cy="402.23" r="1.85"/>
<circle cx="388.47" cy="415.47" r="1.85"/>
<circle cx="423.36" cy="344.48" r="1.85"/>
<circle cx="419.92" cy="346.38" r="1.85"/>
<circle cx="419.06" cy="359.61" r="1.85"/>
<circle cx="421.64" cy="359.61" r="1.85"/>
<circle cx="418.72" cy="365.28" r="1.85"/>
<circle cx="418.72" cy="369.06" r="1.85"/>
<circle cx="421.64" cy="372.16" r="1.85"/>
<rect x="384.8" y="385.16" width="3.9" height="3.9"/>
<rect x="418.49" y="357.66" width="3.9" height="3.9"/>
<rect x="366.64" y="299.97" width="74.07" height="12.89" fill="#fff" stroke="#2b2b2b" stroke-width="1.05"/>
<text x="403.68" y="309" font-size="6.9" fill="#333" text-anchor="middle">C_0020</text>
<path d="M366.64,312.86V437.3" stroke="#000" stroke-width="1.05" fill="none"/>
<path d="M364.34,326.95H366.64" stroke="#222" stroke-width="0.9"/>
<text x="361.84" y="329.51" font-size="7.1" fill="#333" stroke="#333" stroke-width="0.22" text-anchor="end">-4.0</text>
<path d="M364.34,355.31H366.64" stroke="#222" stroke-width="0.9"/>
<text x="361.84" y="357.87" font-size="7.1" fill="#333" stroke="#333" stroke-width="0.22" text-anchor="end">-4.2</text>
<path d="M364.34,383.67H366.64" stroke="#222" stroke-width="0.9"/>
<text x="361.84" y="386.23" font-size="7.1" fill="#333" stroke="#333" stroke-width="0.22" text-anchor="end">-4.4</text>
<path d="M364.34,412.03H366.64" stroke="#222" stroke-width="0.9"/>
<text x="361.84" y="414.59" font-size="7.1" fill="#333" stroke="#333" stroke-width="0.22" text-anchor="end">-4.6</text>
<path d="M366.12,437.3H441.21" stroke="#000" stroke-width="1.05" fill="none"/>
<path d="M386.41,437.3V439.6" stroke="#222" stroke-width="0.9"/>
<text x="386.41" y="447.45" font-size="7.3" fill="#222" stroke="#222" stroke-width="0.1" text-anchor="middle">Ctrl</text>
<path d="M420.44,437.3V439.6" stroke="#222" stroke-width="0.9"/>
<text x="420.44" y="447.45" font-size="7.3" fill="#222" stroke="#222" stroke-width="0.1" text-anchor="middle">A45</text>
</g>
<g>
<path d="M483,318.9 483,319.4 483,319.9 483,320.4 483,320.9 483,321.4 483,321.9 483,322.4 483,322.9 483,323.4 483.1,323.9 483.1,324.4 483.1,324.9 483.1,325.4 483.1,325.9 483.1,326.4 483.1,326.9 483.1,327.4 483.2,327.9 483.2,328.4 483.2,328.9 483.2,329.4 483.2,329.9 483.2,330.4 483.2,330.9 483.3,331.4 483.3,331.9 483.3,332.4 483.3,332.9 483.3,333.4 483.3,333.9 483.4,334.4 483.4,334.9 483.4,335.4 483.4,335.9 483.4,336.4 483.5,336.9 483.5,337.4 483.5,337.9 483.5,338.4 483.6,338.9 483.6,339.4 483.6,339.9 483.6,340.4 483.7,340.9 483.7,341.4 483.7,341.9 483.7,342.4 483.8,342.9 483.8,343.4 483.8,343.9 483.9,344.4 483.9,344.9 483.9,345.4 483.9,345.9 484,346.4 484,346.9 484,347.4 484.1,347.9 484.1,348.4 484.1,348.9 484.1,349.4 484.2,349.9 484.2,350.4 484.2,350.9 484.2,351.4 484.3,351.9 484.3,352.4 484.3,352.9 484.3,353.4 484.4,353.9 484.4,354.4 484.4,354.9 484.4,355.4 484.5,355.9 484.5,356.4 484.5,356.9 484.6,357.4 484.6,357.9 484.6,358.4 484.6,358.9 484.7,359.4 484.7,359.9 484.7,360.4 484.7,360.9 484.8,361.4 484.8,361.9 484.8,362.4 484.8,362.9 484.9,363.4 484.9,363.9 484.9,364.4 484.9,364.9 485,365.4 485,365.9 485,366.4 485,366.9 485,367.4 485.1,367.9 485.1,368.4 485.1,368.9 485.1,369.4 485.1,369.9 485.1,370.4 485.2,370.9 485.2,371.4 485.2,371.9 485.2,372.4 485.2,372.9 485.3,373.4 485.3,373.9 485.3,374.4 485.3,374.9 485.3,375.4 485.3,375.9 485.3,376.4 485.4,376.9 485.4,377.4 485.4,377.9 485.4,378.4 485.4,378.9 485.4,379.4 485.4,379.9 485.4,380.4 485.4,380.9 485.4,381.4 485.4,381.9 485.4,382.4 485.3,382.9 485.3,383.4 485.3,383.9 485.3,384.4 485.3,384.9 485.3,385.4 485.3,385.9 485.3,386.4 485.3,386.9 485.3,387.4 485.2,387.9 485.2,388.4 485.2,388.9 485.2,389.4 485.2,389.9 485.2,390.4 485.2,390.9 485.1,391.4 485.1,391.9 485.1,392.4 485.1,392.9 485,393.4 485,393.9 484.9,394.4 484.9,394.9 484.9,395.4 484.8,395.9 484.8,396.4 484.7,396.9 484.7,397.4 484.7,397.9 484.6,398.4 484.6,398.9 484.5,399.4 484.5,399.9 484.4,400.4 484.4,400.9 484.4,401.4 484.3,401.9 484.3,402.4 484.3,402.9 484.2,403.4 484.2,403.9 484.1,404.4 484.1,404.9 484.1,405.4 484,405.9 484,406.4 483.9,406.9 483.9,407.4 483.9,407.9 483.8,408.4 483.8,408.9 483.8,409.4 483.7,409.9 483.7,410.4 483.6,410.9 483.6,411.4 483.6,411.9 483.6,412.4 483.5,412.9 483.5,413.4 483.5,413.9 483.5,414.4 483.4,414.9 483.4,415.4 483.4,415.9 483.4,416.4 483.4,416.9 483.3,417.4 483.3,417.9 483.3,418.4 483.3,418.9 483.3,419.4 483.3,419.9 483.2,420.4 483.2,420.9 483.2,421.4 483.2,421.9 483.2,422.4 483.2,422.9 483.2,423.4 483.1,423.9 483.1,424.4 483.1,424.9 483.1,425.4 483.1,425.9 483.1,426.4 483.1,426.9 483.1,427.4 483,427.9 483,428.4 483,428.9 483,429.4 483,429.9 483,430.4 483,430.9 483,431.4 483,431.8 483,431.8 483,431.4 483,430.9 482.9,430.4 482.9,429.9 482.9,429.4 482.9,428.9 482.9,428.4 482.9,427.9 482.9,427.4 482.9,426.9 482.9,426.4 482.8,425.9 482.8,425.4 482.8,424.9 482.8,424.4 482.8,423.9 482.8,423.4 482.8,422.9 482.8,422.4 482.7,421.9 482.7,421.4 482.7,420.9 482.7,420.4 482.7,419.9 482.7,419.4 482.6,418.9 482.6,418.4 482.6,417.9 482.6,417.4 482.6,416.9 482.6,416.4 482.5,415.9 482.5,415.4 482.5,414.9 482.5,414.4 482.5,413.9 482.4,413.4 482.4,412.9 482.4,412.4 482.4,411.9 482.3,411.4 482.3,410.9 482.3,410.4 482.2,409.9 482.2,409.4 482.2,408.9 482.1,408.4 482.1,407.9 482,407.4 482,406.9 482,406.4 481.9,405.9 481.9,405.4 481.8,404.9 481.8,404.4 481.8,403.9 481.7,403.4 481.7,402.9 481.6,402.4 481.6,401.9 481.6,401.4 481.5,400.9 481.5,400.4 481.5,399.9 481.4,399.4 481.4,398.9 481.3,398.4 481.3,397.9 481.2,397.4 481.2,396.9 481.2,396.4 481.1,395.9 481.1,395.4 481,394.9 481,394.4 481,393.9 480.9,393.4 480.9,392.9 480.9,392.4 480.8,391.9 480.8,391.4 480.8,390.9 480.8,390.4 480.7,389.9 480.7,389.4 480.7,388.9 480.7,388.4 480.7,387.9 480.7,387.4 480.7,386.9 480.7,386.4 480.6,385.9 480.6,385.4 480.6,384.9 480.6,384.4 480.6,383.9 480.6,383.4 480.6,382.9 480.6,382.4 480.6,381.9 480.6,381.4 480.6,380.9 480.6,380.4 480.6,379.9 480.6,379.4 480.6,378.9 480.6,378.4 480.6,377.9 480.6,377.4 480.6,376.9 480.6,376.4 480.6,375.9 480.6,375.4 480.6,374.9 480.6,374.4 480.7,373.9 480.7,373.4 480.7,372.9 480.7,372.4 480.7,371.9 480.8,371.4 480.8,370.9 480.8,370.4 480.8,369.9 480.8,369.4 480.8,368.9 480.9,368.4 480.9,367.9 480.9,367.4 480.9,366.9 480.9,366.4 481,365.9 481,365.4 481,364.9 481,364.4 481,363.9 481.1,363.4 481.1,362.9 481.1,362.4 481.1,361.9 481.2,361.4 481.2,360.9 481.2,360.4 481.2,359.9 481.3,359.4 481.3,358.9 481.3,358.4 481.4,357.9 481.4,357.4 481.4,356.9 481.4,356.4 481.5,355.9 481.5,355.4 481.5,354.9 481.5,354.4 481.6,353.9 481.6,353.4 481.6,352.9 481.7,352.4 481.7,351.9 481.7,351.4 481.7,350.9 481.8,350.4 481.8,349.9 481.8,349.4 481.8,348.9 481.9,348.4 481.9,347.9 481.9,347.4 481.9,346.9 482,346.4 482,345.9 482,345.4 482,344.9 482.1,344.4 482.1,343.9 482.1,343.4 482.2,342.9 482.2,342.4 482.2,341.9 482.2,341.4 482.3,340.9 482.3,340.4 482.3,339.9 482.3,339.4 482.4,338.9 482.4,338.4 482.4,337.9 482.4,337.4 482.5,336.9 482.5,336.4 482.5,335.9 482.5,335.4 482.6,334.9 482.6,334.4 482.6,333.9 482.6,333.4 482.6,332.9 482.6,332.4 482.7,331.9 482.7,331.4 482.7,330.9 482.7,330.4 482.7,329.9 482.7,329.4 482.8,328.9 482.8,328.4 482.8,327.9 482.8,327.4 482.8,326.9 482.8,326.4 482.8,325.9 482.8,325.4 482.9,324.9 482.9,324.4 482.9,323.9 482.9,323.4 482.9,322.9 482.9,322.4 482.9,321.9 482.9,321.4 482.9,320.9 482.9,320.4 483,319.9 483,319.4 483,318.9Z" fill="#a6d1fb" stroke="#111" stroke-width="0.62" stroke-linejoin="round"/>
<path d="M517.3,335.5 525.9,339.8 532.8,342.9 525.9,345.9 517.5,349.3 517.5,382 521.1,383.8 524.6,385.9 521.1,388 517.3,390.2 517.3,390.2 513.6,388 510.1,385.9 513.6,383.8 517.2,382 517.2,349.3 508.8,345.9 501.9,342.9 508.8,339.8 517.3,335.5Z" fill="#fbb4b4" stroke="#111" stroke-width="0.62" stroke-linejoin="round"/>
<rect x="480.73" y="368.2" width="4.81" height="22.34" fill="#a6d1fb" fill-opacity="0"/>
<path d="M483.14,346.2V368.2M483.14,390.55V403.95M480.73,368.2H485.55V390.55H480.73ZM480.73,378.52H485.55" fill="none" stroke="#1a1a1a" stroke-width="0.55"/>
<path d="M482.97,378.52L517,351.53" stroke="#000" stroke-width="0.7" fill="none"/>
<circle cx="480.91" cy="346.2" r="1.85"/>
<circle cx="484.34" cy="362.19" r="1.85"/>
<circle cx="480.73" cy="366.14" r="1.85"/>
<circle cx="484.34" cy="371.64" r="1.85"/>
<circle cx="482.11" cy="374.73" r="1.85"/>
<circle cx="482.97" cy="378.52" r="1.85"/>
<circle cx="484.34" cy="379.38" r="1.85"/>
<circle cx="482.62" cy="386.25" r="1.85"/>
<circle cx="484.34" cy="388.31" r="1.85"/>
<circle cx="481.25" cy="389.34" r="1.85"/>
<circle cx="484.69" cy="392.61" r="1.85"/>
<circle cx="480.91" cy="403.95" r="1.85"/>
<circle cx="516.48" cy="339.84" r="1.85"/>
<circle cx="517.86" cy="341.91" r="1.85"/>
<circle cx="519.92" cy="343.28" r="1.85"/>
<circle cx="515.11" cy="344.66" r="1.85"/>
<circle cx="514.42" cy="346.38" r="1.85"/>
<circle cx="515.11" cy="385.91" r="1.85"/>
<rect x="481.02" y="376.57" width="3.9" height="3.9"/>
<rect x="515.05" y="349.58" width="3.9" height="3.9"/>
<rect x="463.2" y="299.97" width="74.42" height="12.89" fill="#fff" stroke="#2b2b2b" stroke-width="1.05"/>
<text x="500.41" y="309" font-size="6.9" fill="#333" text-anchor="middle">C_0002</text>
<path d="M463.2,312.86V437.3" stroke="#000" stroke-width="1.05" fill="none"/>
<path d="M460.9,314.58H463.2" stroke="#222" stroke-width="0.9"/>
<text x="458.4" y="317.13" font-size="7.1" fill="#333" stroke="#333" stroke-width="0.22" text-anchor="end">-8.6</text>
<path d="M460.9,350.5H463.2" stroke="#222" stroke-width="0.9"/>
<text x="458.4" y="353.06" font-size="7.1" fill="#333" stroke="#333" stroke-width="0.22" text-anchor="end">-8.8</text>
<path d="M460.9,386.77H463.2" stroke="#222" stroke-width="0.9"/>
<text x="458.4" y="389.32" font-size="7.1" fill="#333" stroke="#333" stroke-width="0.22" text-anchor="end">-9.0</text>
<path d="M460.9,422.86H463.2" stroke="#222" stroke-width="0.9"/>
<text x="458.4" y="425.42" font-size="7.1" fill="#333" stroke="#333" stroke-width="0.22" text-anchor="end">-9.2</text>
<path d="M462.68,437.3H538.12" stroke="#000" stroke-width="1.05" fill="none"/>
<path d="M482.97,437.3V439.6" stroke="#222" stroke-width="0.9"/>
<text x="482.97" y="447.45" font-size="7.3" fill="#222" stroke="#222" stroke-width="0.1" text-anchor="middle">Ctrl</text>
<path d="M517.34,437.3V439.6" stroke="#222" stroke-width="0.9"/>
<text x="517.34" y="447.45" font-size="7.3" fill="#222" stroke="#222" stroke-width="0.1" text-anchor="middle">A45</text>
</g>
<g>
<path d="M583.5,320.6 583.5,321.1 583.5,321.6 583.5,322.1 583.6,322.6 583.6,323.1 583.6,323.6 583.7,324.1 583.7,324.6 583.7,325.1 583.7,325.6 583.8,326.1 583.8,326.6 583.8,327.1 583.9,327.6 583.9,328.1 583.9,328.6 584,329.1 584,329.6 584,330.1 584.1,330.6 584.1,331.1 584.2,331.6 584.2,332.1 584.3,332.6 584.3,333.1 584.4,333.6 584.4,334.1 584.5,334.6 584.5,335.1 584.6,335.6 584.6,336.1 584.7,336.6 584.7,337.1 584.8,337.6 584.8,338.1 584.9,338.6 585,339.1 585,339.6 585.1,340.1 585.1,340.6 585.2,341.1 585.2,341.6 585.3,342.1 585.3,342.6 585.3,343.1 585.4,343.6 585.4,344.1 585.5,344.6 585.5,345.1 585.6,345.6 585.6,346.1 585.7,346.6 585.7,347.1 585.7,347.6 585.8,348.1 585.8,348.6 585.9,349.1 585.9,349.6 586,350.1 586,350.6 586,351.1 586.1,351.6 586.1,352.1 586.2,352.6 586.2,353.1 586.2,353.6 586.3,354.1 586.3,354.6 586.3,355.1 586.4,355.6 586.4,356.1 586.4,356.6 586.5,357.1 586.5,357.6 586.5,358.1 586.5,358.6 586.6,359.1 586.6,359.6 586.6,360.1 586.7,360.6 586.7,361.1 586.7,361.6 586.8,362.1 586.8,362.6 586.8,363.1 586.9,363.6 586.9,364.1 587,364.6 587.1,365.1 587.2,365.6 587.3,366.1 587.4,366.6 587.5,367.1 587.6,367.6 587.7,368.1 587.8,368.6 588,369.1 588.1,369.6 588.2,370.1 588.3,370.6 588.4,371.1 588.5,371.6 588.6,372.1 588.7,372.6 588.7,373.1 588.8,373.6 588.9,374.1 588.9,374.6 589,375.1 589,375.6 589.1,376.1 589.1,376.6 589.1,377.1 589.2,377.6 589.2,378.1 589.1,378.6 589.1,379.1 589,379.6 589,380.1 588.9,380.6 588.9,381.1 588.8,381.6 588.7,382.1 588.6,382.6 588.5,383.1 588.4,383.6 588.4,384.1 588.3,384.6 588.2,385.1 588.1,385.6 588,386.1 587.9,386.6 587.8,387.1 587.7,387.6 587.6,388.1 587.5,388.6 587.4,389.1 587.2,389.6 587.1,390.1 587,390.6 586.9,391.1 586.8,391.6 586.7,392.1 586.7,392.6 586.6,393.1 586.5,393.6 586.4,394.1 586.4,394.6 586.3,395.1 586.3,395.6 586.2,396.1 586.2,396.6 586.1,397.1 586,397.6 586,398.1 585.9,398.6 585.9,399.1 585.9,399.6 585.8,400.1 585.8,400.6 585.7,401.1 585.7,401.6 585.6,402.1 585.6,402.6 585.5,403.1 585.5,403.6 585.5,404.1 585.4,404.6 585.4,405.1 585.3,405.6 585.3,406.1 585.2,406.6 585.2,407.1 585.1,407.6 585.1,408.1 585,408.6 585,409.1 585,409.6 584.9,410.1 584.9,410.6 584.8,411.1 584.8,411.6 584.7,412.1 584.7,412.6 584.6,413.1 584.6,413.6 584.5,414.1 584.5,414.6 584.5,415.1 584.4,415.6 584.4,416.1 584.3,416.6 584.3,417.1 584.3,417.6 584.2,418.1 584.2,418.6 584.2,419.1 584.1,419.6 584.1,420.1 584.1,420.6 584,421.1 584,421.6 584,422.1 583.9,422.6 583.9,423.1 583.9,423.6 583.9,424.1 583.8,424.6 583.8,425.1 583.8,425.6 583.7,426.1 583.7,426.6 583.7,427.1 583.7,427.6 583.6,428.1 583.6,428.6 583.6,429.1 583.6,429.6 583.6,430.1 583.5,430.6 583.5,431.1 583.5,431.6 583.5,431.8 583.5,431.8 583.5,431.6 583.5,431.1 583.4,430.6 583.4,430.1 583.4,429.6 583.4,429.1 583.4,428.6 583.3,428.1 583.3,427.6 583.3,427.1 583.3,426.6 583.2,426.1 583.2,425.6 583.2,425.1 583.1,424.6 583.1,424.1 583.1,423.6 583.1,423.1 583,422.6 583,422.1 583,421.6 582.9,421.1 582.9,420.6 582.9,420.1 582.8,419.6 582.8,419.1 582.8,418.6 582.7,418.1 582.7,417.6 582.7,417.1 582.6,416.6 582.6,416.1 582.6,415.6 582.5,415.1 582.5,414.6 582.4,414.1 582.4,413.6 582.3,413.1 582.3,412.6 582.2,412.1 582.2,411.6 582.2,411.1 582.1,410.6 582.1,410.1 582,409.6 582,409.1 581.9,408.6 581.9,408.1 581.8,407.6 581.8,407.1 581.7,406.6 581.7,406.1 581.6,405.6 581.6,405.1 581.6,404.6 581.5,404.1 581.5,403.6 581.4,403.1 581.4,402.6 581.3,402.1 581.3,401.6 581.3,401.1 581.2,400.6 581.2,400.1 581.1,399.6 581.1,399.1 581,398.6 581,398.1 580.9,397.6 580.9,397.1 580.8,396.6 580.8,396.1 580.7,395.6 580.6,395.1 580.6,394.6 580.5,394.1 580.5,393.6 580.4,393.1 580.3,392.6 580.2,392.1 580.1,391.6 580,391.1 579.9,390.6 579.8,390.1 579.7,389.6 579.6,389.1 579.5,388.6 579.4,388.1 579.3,387.6 579.2,387.1 579.1,386.6 578.9,386.1 578.9,385.6 578.8,385.1 578.7,384.6 578.6,384.1 578.5,383.6 578.4,383.1 578.4,382.6 578.3,382.1 578.2,381.6 578.1,381.1 578,380.6 578,380.1 577.9,379.6 577.9,379.1 577.8,378.6 577.8,378.1 577.8,377.6 577.8,377.1 577.8,376.6 577.9,376.1 577.9,375.6 578,375.1 578,374.6 578.1,374.1 578.2,373.6 578.2,373.1 578.3,372.6 578.4,372.1 578.5,371.6 578.6,371.1 578.7,370.6 578.8,370.1 578.9,369.6 579,369.1 579.1,368.6 579.2,368.1 579.4,367.6 579.5,367.1 579.6,366.6 579.7,366.1 579.8,365.6 579.9,365.1 580,364.6 580,364.1 580.1,363.6 580.1,363.1 580.2,362.6 580.2,362.1 580.2,361.6 580.3,361.1 580.3,360.6 580.3,360.1 580.4,359.6 580.4,359.1 580.4,358.6 580.5,358.1 580.5,357.6 580.5,357.1 580.5,356.6 580.6,356.1 580.6,355.6 580.6,355.1 580.7,354.6 580.7,354.1 580.7,353.6 580.8,353.1 580.8,352.6 580.8,352.1 580.9,351.6 580.9,351.1 581,350.6 581,350.1 581.1,349.6 581.1,349.1 581.1,348.6 581.2,348.1 581.2,347.6 581.3,347.1 581.3,346.6 581.4,346.1 581.4,345.6 581.4,345.1 581.5,344.6 581.5,344.1 581.6,343.6 581.6,343.1 581.7,342.6 581.7,342.1 581.8,341.6 581.8,341.1 581.9,340.6 581.9,340.1 582,339.6 582,339.1 582.1,338.6 582.1,338.1 582.2,337.6 582.2,337.1 582.3,336.6 582.3,336.1 582.4,335.6 582.4,335.1 582.5,334.6 582.6,334.1 582.6,333.6 582.7,333.1 582.7,332.6 582.8,332.1 582.8,331.6 582.8,331.1 582.9,330.6 582.9,330.1 583,329.6 583,329.1 583,328.6 583.1,328.1 583.1,327.6 583.1,327.1 583.2,326.6 583.2,326.1 583.2,325.6 583.3,325.1 583.3,324.6 583.3,324.1 583.3,323.6 583.4,323.1 583.4,322.6 583.4,322.1 583.4,321.6 583.5,321.1 583.5,320.6Z" fill="#a6d1fb" stroke="#111" stroke-width="0.62" stroke-linejoin="round"/>
<path d="M617.7,318.9 617.7,319.4 617.8,319.9 617.8,320.4 618,320.9 618.1,321.4 618.3,321.9 618.4,322.4 618.7,322.9 619,323.4 619.5,323.9 620.2,324.4 620.9,324.9 621.6,325.4 622.2,325.9 622.9,326.4 623.5,326.9 624.3,327.4 625,327.9 625.7,328.4 626.3,328.9 626.8,329.4 627.1,329.9 627.3,330.4 627.5,330.9 627.7,331.4 627.8,331.9 627.9,332.4 628,332.9 628.1,333.4 628.1,333.9 628.2,334.4 628.2,334.9 628.3,335.4 628.5,335.9 629,336.4 629.6,336.9 630.4,337.4 631.1,337.9 631.8,338.4 632.2,338.9 632.5,339.4 632.7,339.9 632.9,340.4 633.1,340.9 633.1,341.4 633.1,341.9 633,342.4 632.8,342.9 632.4,343.4 632.1,343.9 631.7,344.4 631.2,344.9 630.6,345.4 629.7,345.9 628.7,346.4 627.6,346.9 626.6,347.4 625.6,347.9 624.7,348.4 623.9,348.9 623.1,349.4 622.3,349.9 621.5,350.4 620.8,350.9 620.2,351.4 619.8,351.9 619.3,352.4 618.9,352.9 618.6,353.4 618.3,353.9 618,354.4 617.8,354.9 617.7,355.3 617.7,355.3 617.6,354.9 617.4,354.4 617.1,353.9 616.8,353.4 616.4,352.9 616,352.4 615.6,351.9 615.1,351.4 614.5,350.9 613.9,350.4 613.1,349.9 612.3,349.4 611.5,348.9 610.7,348.4 609.8,347.9 608.8,347.4 607.7,346.9 606.7,346.4 605.7,345.9 604.8,345.4 604.1,344.9 603.7,344.4 603.3,343.9 602.9,343.4 602.6,342.9 602.4,342.4 602.2,341.9 602.2,341.4 602.3,340.9 602.4,340.4 602.6,339.9 602.9,339.4 603.1,338.9 603.6,338.4 604.2,337.9 605,337.4 605.8,336.9 606.4,336.4 606.9,335.9 607.1,335.4 607.2,334.9 607.2,334.4 607.3,333.9 607.3,333.4 607.4,332.9 607.5,332.4 607.6,331.9 607.7,331.4 607.9,330.9 608,330.4 608.2,329.9 608.6,329.4 609,328.9 609.7,328.4 610.4,327.9 611.1,327.4 611.8,326.9 612.5,326.4 613.1,325.9 613.8,325.4 614.5,324.9 615.2,324.4 615.8,323.9 616.4,323.4 616.7,322.9 616.9,322.4 617.1,321.9 617.3,321.4 617.4,320.9 617.5,320.4 617.6,319.9 617.7,319.4 617.7,318.9Z" fill="#fbb4b4" stroke="#111" stroke-width="0.62" stroke-linejoin="round"/>
<rect x="581.25" y="363.56" width="4.81" height="20.62" fill="#a6d1fb" fill-opacity="0"/>
<path d="M583.66,346.2V363.56M583.66,384.19V406.02M581.25,363.56H586.06V384.19H581.25ZM581.25,374.22H586.06" fill="none" stroke="#1a1a1a" stroke-width="0.55"/>
<rect x="615.62" y="332.11" width="4.3" height="9.45" fill="#fbb4b4" fill-opacity="0"/>
<path d="M617.77,330.39V332.11M617.77,341.56V343.62M615.62,332.11H619.92V341.56H615.62ZM615.62,338.98H619.92" fill="none" stroke="#1a1a1a" stroke-width="0.55"/>
<path d="M583.83,374.22L617.34,338.98" stroke="#000" stroke-width="0.7" fill="none"/>
<circle cx="582.11" cy="346.2" r="1.85"/>
<circle cx="581.25" cy="350.5" r="1.85"/>
<circle cx="583.48" cy="360.47" r="1.85"/>
<circle cx="585.03" cy="371.64" r="1.85"/>
<circle cx="582.97" cy="374.22" r="1.85"/>
<circle cx="584.34" cy="375.94" r="1.85"/>
<circle cx="585.03" cy="382.81" r="1.85"/>
<circle cx="584.69" cy="384.19" r="1.85"/>
<circle cx="581.25" cy="392.78" r="1.85"/>
<circle cx="581.77" cy="406.02" r="1.85"/>
<circle cx="618.72" cy="330.39" r="1.85"/>
<circle cx="615.62" cy="332.11" r="1.85"/>
<circle cx="616.48" cy="339.84" r="1.85"/>
<circle cx="618.2" cy="341.05" r="1.85"/>
<circle cx="619.92" cy="343.62" r="1.85"/>
<circle cx="615.97" cy="341.56" r="1.85"/>
<rect x="581.88" y="372.27" width="3.9" height="3.9"/>
<rect x="615.39" y="337.03" width="3.9" height="3.9"/>
<rect x="563.55" y="299.97" width="74.42" height="12.89" fill="#fff" stroke="#2b2b2b" stroke-width="1.05"/>
<text x="600.75" y="309" font-size="6.9" fill="#333" text-anchor="middle">C_0097</text>
<path d="M563.55,312.86V437.3" stroke="#000" stroke-width="1.05" fill="none"/>
<path d="M561.25,313.2H563.55" stroke="#222" stroke-width="0.9"/>
<text x="558.75" y="315.76" font-size="7.1" fill="#333" stroke="#333" stroke-width="0.22" text-anchor="end">-4.2</text>
<path d="M561.25,341.22H563.55" stroke="#222" stroke-width="0.9"/>
<text x="558.75" y="343.77" font-size="7.1" fill="#333" stroke="#333" stroke-width="0.22" text-anchor="end">-4.4</text>
<path d="M561.25,369.41H563.55" stroke="#222" stroke-width="0.9"/>
<text x="558.75" y="371.96" font-size="7.1" fill="#333" stroke="#333" stroke-width="0.22" text-anchor="end">-4.6</text>
<path d="M561.25,397.25H563.55" stroke="#222" stroke-width="0.9"/>
<text x="558.75" y="399.81" font-size="7.1" fill="#333" stroke="#333" stroke-width="0.22" text-anchor="end">-4.8</text>
<path d="M561.25,425.27H563.55" stroke="#222" stroke-width="0.9"/>
<text x="558.75" y="427.82" font-size="7.1" fill="#333" stroke="#333" stroke-width="0.22" text-anchor="end">-5.0</text>
<path d="M563.02,437.3H638.46" stroke="#000" stroke-width="1.05" fill="none"/>
<path d="M583.48,437.3V439.6" stroke="#222" stroke-width="0.9"/>
<text x="583.48" y="447.45" font-size="7.3" fill="#222" stroke="#222" stroke-width="0.1" text-anchor="middle">Ctrl</text>
<path d="M617.69,437.3V439.6" stroke="#222" stroke-width="0.9"/>
<text x="617.69" y="447.45" font-size="7.3" fill="#222" stroke="#222" stroke-width="0.1" text-anchor="middle">A45</text>
</g>
<g>
<path d="M85,460.8 85.1,461.3 85.1,461.8 85.2,462.3 85.2,462.8 85.3,463.3 85.4,463.8 85.5,464.3 85.6,464.8 85.7,465.3 85.9,465.8 86,466.3 86.1,466.8 86.3,467.3 86.5,467.8 86.7,468.3 86.9,468.8 87.2,469.3 87.4,469.8 87.6,470.3 87.9,470.8 88.1,471.3 88.4,471.8 88.6,472.3 88.8,472.8 89,473.3 89.2,473.8 89.4,474.3 89.6,474.8 89.8,475.3 90.1,475.8 90.3,476.3 90.5,476.8 90.7,477.3 90.9,477.8 91.1,478.3 91.2,478.8 91.4,479.3 91.6,479.8 91.8,480.3 91.9,480.8 92.1,481.3 92.2,481.8 92.4,482.3 92.5,482.8 92.6,483.3 92.8,483.8 92.9,484.3 93.1,484.8 93.2,485.3 93.4,485.8 93.5,486.3 93.7,486.8 93.9,487.3 94.1,487.8 94.3,488.3 94.5,488.8 94.7,489.3 94.9,489.8 95.1,490.3 95.3,490.8 95.5,491.3 95.6,491.8 95.8,492.3 96,492.8 96.2,493.3 96.3,493.8 96.5,494.3 96.6,494.8 96.8,495.3 96.9,495.8 97,496.3 97.2,496.8 97.3,497.3 97.4,497.8 97.5,498.3 97.7,498.8 97.8,499.3 97.8,499.8 97.9,500.3 98,500.8 98.1,501.3 98.1,501.8 98.2,502.3 98.2,502.8 98.3,503.3 98.3,503.8 98.2,504.3 98.2,504.8 98.1,505.3 97.9,505.8 97.7,506.3 97.6,506.8 97.4,507.3 97.2,507.8 97,508.3 96.8,508.8 96.6,509.3 96.4,509.8 96.1,510.3 95.9,510.8 95.6,511.3 95.3,511.8 95.1,512.3 94.8,512.8 94.5,513.3 94.2,513.8 94,514.3 93.7,514.8 93.5,515.3 93.3,515.8 93.1,516.3 92.9,516.8 92.7,517.3 92.5,517.8 92.3,518.3 92.1,518.8 91.9,519.3 91.7,519.8 91.5,520.3 91.4,520.8 91.3,521.3 91.2,521.8 91.1,522.3 91,522.8 91,523.3 91,523.8 90.9,524.3 90.9,524.8 90.8,525.3 90.8,525.8 90.8,526.3 90.8,526.8 90.7,527.3 90.7,527.8 90.7,528.3 90.7,528.8 90.7,529.3 90.7,529.8 90.7,530.3 90.7,530.8 90.7,531.3 90.7,531.8 90.7,532.3 90.7,532.8 90.7,533.3 90.7,533.8 90.7,534.3 90.7,534.8 90.7,535.3 90.7,535.8 90.7,536.3 90.7,536.8 90.6,537.3 90.5,537.8 90.4,538.3 90.3,538.8 90.1,539.3 89.9,539.8 89.7,540.3 89.5,540.8 89.2,541.3 89,541.8 88.8,542.3 88.6,542.8 88.5,543.3 88.3,543.8 88.2,544.3 88,544.8 87.8,545.3 87.7,545.8 87.5,546.3 87.4,546.8 87.2,547.3 87.1,547.8 86.9,548.3 86.8,548.8 86.6,549.3 86.5,549.8 86.4,550.3 86.3,550.8 86.1,551.3 86,551.8 85.9,552.3 85.8,552.8 85.7,553.3 85.6,553.8 85.5,554.3 85.4,554.8 85.3,555.3 85.2,555.8 85.1,556.3 85.1,556.8 85,557 85,557 85,556.8 84.9,556.3 84.8,555.8 84.7,555.3 84.7,554.8 84.6,554.3 84.5,553.8 84.4,553.3 84.3,552.8 84.1,552.3 84,551.8 83.9,551.3 83.8,550.8 83.7,550.3 83.6,549.8 83.4,549.3 83.3,548.8 83.2,548.3 83,547.8 82.9,547.3 82.7,546.8 82.5,546.3 82.4,545.8 82.2,545.3 82.1,544.8 81.9,544.3 81.8,543.8 81.6,543.3 81.4,542.8 81.2,542.3 81,541.8 80.8,541.3 80.6,540.8 80.4,540.3 80.2,539.8 80,539.3 79.8,538.8 79.7,538.3 79.5,537.8 79.4,537.3 79.4,536.8 79.4,536.3 79.4,535.8 79.4,535.3 79.4,534.8 79.4,534.3 79.4,533.8 79.4,533.3 79.4,532.8 79.4,532.3 79.4,531.8 79.4,531.3 79.4,530.8 79.4,530.3 79.4,529.8 79.4,529.3 79.4,528.8 79.3,528.3 79.3,527.8 79.3,527.3 79.3,526.8 79.3,526.3 79.2,525.8 79.2,525.3 79.2,524.8 79.1,524.3 79.1,523.8 79.1,523.3 79,522.8 79,522.3 78.9,521.8 78.8,521.3 78.7,520.8 78.5,520.3 78.4,519.8 78.2,519.3 78,518.8 77.8,518.3 77.6,517.8 77.4,517.3 77.2,516.8 77,516.3 76.8,515.8 76.6,515.3 76.3,514.8 76.1,514.3 75.8,513.8 75.6,513.3 75.3,512.8 75,512.3 74.7,511.8 74.5,511.3 74.2,510.8 73.9,510.3 73.7,509.8 73.5,509.3 73.3,508.8 73.1,508.3 72.9,507.8 72.7,507.3 72.5,506.8 72.3,506.3 72.1,505.8 72,505.3 71.9,504.8 71.8,504.3 71.8,503.8 71.8,503.3 71.8,502.8 71.9,502.3 71.9,501.8 72,501.3 72.1,500.8 72.1,500.3 72.2,499.8 72.3,499.3 72.4,498.8 72.5,498.3 72.6,497.8 72.8,497.3 72.9,496.8 73,496.3 73.2,495.8 73.3,495.3 73.5,494.8 73.6,494.3 73.8,493.8 73.9,493.3 74.1,492.8 74.2,492.3 74.4,491.8 74.6,491.3 74.8,490.8 75,490.3 75.2,489.8 75.4,489.3 75.6,488.8 75.8,488.3 76,487.8 76.2,487.3 76.4,486.8 76.5,486.3 76.7,485.8 76.8,485.3 77,484.8 77.1,484.3 77.3,483.8 77.4,483.3 77.6,482.8 77.7,482.3 77.8,481.8 78,481.3 78.1,480.8 78.3,480.3 78.5,479.8 78.6,479.3 78.8,478.8 79,478.3 79.2,477.8 79.4,477.3 79.6,476.8 79.8,476.3 80,475.8 80.2,475.3 80.4,474.8 80.6,474.3 80.8,473.8 81.1,473.3 81.3,472.8 81.5,472.3 81.7,471.8 81.9,471.3 82.2,470.8 82.4,470.3 82.7,469.8 82.9,469.3 83.1,468.8 83.4,468.3 83.6,467.8 83.8,467.3 83.9,466.8 84.1,466.3 84.2,465.8 84.3,465.3 84.4,464.8 84.5,464.3 84.6,463.8 84.7,463.3 84.8,462.8 84.9,462.3 84.9,461.8 85,461.3 85,460.8Z" fill="#fbb4b4" stroke="#111" stroke-width="0.62" stroke-linejoin="round"/>
<path d="M119.1,506.8 119.1,507.3 119.2,507.8 119.3,508.3 119.4,508.8 119.6,509.3 119.7,509.8 119.9,510.3 120.2,510.8 120.4,511.3 120.6,511.8 120.9,512.3 121.3,512.8 121.8,513.3 122.3,513.8 122.8,514.3 123.3,514.8 123.8,515.3 124.3,515.8 124.8,516.3 125.3,516.8 125.7,517.3 126.1,517.8 126.6,518.3 127,518.8 127.5,519.3 127.9,519.8 128.3,520.3 128.7,520.8 129.1,521.3 129.4,521.8 129.8,522.3 130.1,522.8 130.5,523.3 130.8,523.8 131.2,524.3 131.5,524.8 131.8,525.3 132.1,525.8 132.3,526.3 132.5,526.8 132.7,527.3 132.8,527.8 132.9,528.3 133,528.8 133,529.3 133.1,529.8 133.1,530.3 133.1,530.8 133.2,531.3 133.2,531.8 133.3,532.3 133.3,532.8 133.4,533.3 133.5,533.8 133.5,534.3 133.6,534.8 133.7,535.3 133.8,535.8 133.9,536.3 134,536.8 134.1,537.3 134.2,537.8 134.2,538.3 134.3,538.8 134.3,539.3 134.4,539.8 134.5,540.3 134.5,540.8 134.5,541.3 134.5,541.8 134.5,542.3 134.4,542.8 134.2,543.3 134.1,543.8 133.9,544.3 133.7,544.8 133.4,545.3 133.2,545.8 133,546.3 132.8,546.8 132.5,547.3 132.3,547.8 132,548.3 131.7,548.8 131.4,549.3 131,549.8 130.7,550.3 130.4,550.8 130,551.3 129.7,551.8 129.3,552.3 129,552.8 128.7,553.3 128.4,553.8 128,554.3 127.7,554.8 127.4,555.3 127.1,555.8 126.8,556.3 126.4,556.8 126.1,557.3 125.8,557.8 125.5,558.3 125.2,558.8 124.9,559.3 124.6,559.8 124.3,560.3 124,560.8 123.7,561.3 123.4,561.8 123.2,562.3 122.9,562.8 122.6,563.3 122.4,563.8 122.1,564.3 121.8,564.8 121.6,565.3 121.4,565.8 121.2,566.3 121,566.8 120.8,567.3 120.6,567.8 120.4,568.3 120.3,568.8 120.1,569.3 120,569.8 119.8,570.3 119.7,570.8 119.6,571.3 119.5,571.8 119.3,572.3 119.2,572.8 119.1,573.3 119.1,573.8 119.1,573.9 119.1,573.9 119.1,573.8 119,573.3 118.9,572.8 118.8,572.3 118.7,571.8 118.6,571.3 118.4,570.8 118.3,570.3 118.1,569.8 118,569.3 117.8,568.8 117.7,568.3 117.5,567.8 117.3,567.3 117.2,566.8 117,566.3 116.8,565.8 116.5,565.3 116.3,564.8 116,564.3 115.8,563.8 115.5,563.3 115.2,562.8 115,562.3 114.7,561.8 114.4,561.3 114.1,560.8 113.8,560.3 113.6,559.8 113.3,559.3 113,558.8 112.6,558.3 112.3,557.8 112,557.3 111.7,556.8 111.4,556.3 111.1,555.8 110.7,555.3 110.4,554.8 110.1,554.3 109.8,553.8 109.5,553.3 109.1,552.8 108.8,552.3 108.5,551.8 108.1,551.3 107.8,550.8 107.4,550.3 107.1,549.8 106.8,549.3 106.4,548.8 106.1,548.3 105.9,547.8 105.6,547.3 105.4,546.8 105.1,546.3 104.9,545.8 104.7,545.3 104.5,544.8 104.3,544.3 104.1,543.8 103.9,543.3 103.8,542.8 103.7,542.3 103.6,541.8 103.6,541.3 103.6,540.8 103.7,540.3 103.7,539.8 103.8,539.3 103.8,538.8 103.9,538.3 104,537.8 104,537.3 104.1,536.8 104.2,536.3 104.3,535.8 104.4,535.3 104.5,534.8 104.6,534.3 104.7,533.8 104.7,533.3 104.8,532.8 104.9,532.3 104.9,531.8 105,531.3 105,530.8 105,530.3 105.1,529.8 105.1,529.3 105.2,528.8 105.2,528.3 105.3,527.8 105.4,527.3 105.6,526.8 105.8,526.3 106,525.8 106.3,525.3 106.6,524.8 107,524.3 107.3,523.8 107.7,523.3 108,522.8 108.4,522.3 108.7,521.8 109.1,521.3 109.4,520.8 109.8,520.3 110.2,519.8 110.7,519.3 111.1,518.8 111.5,518.3 112,517.8 112.4,517.3 112.9,516.8 113.3,516.3 113.8,515.8 114.3,515.3 114.8,514.8 115.3,514.3 115.9,513.8 116.3,513.3 116.8,512.8 117.2,512.3 117.5,511.8 117.7,511.3 118,510.8 118.2,510.3 118.4,509.8 118.6,509.3 118.7,508.8 118.9,508.3 119,507.8 119,507.3 119.1,506.8Z" fill="#a6d1fb" stroke="#111" stroke-width="0.62" stroke-linejoin="round"/>
<rect x="82.62" y="495.16" width="4.98" height="17.19" fill="#fbb4b4" fill-opacity="0"/>
<path d="M85.12,482.27V495.16M85.12,512.34V536.41M82.62,495.16H87.61V512.34H82.62ZM82.62,504.61H87.61" fill="none" stroke="#1a1a1a" stroke-width="0.55"/>
<rect x="116.83" y="529.19" width="4.81" height="13.23" fill="#a6d1fb" fill-opacity="0"/>
<path d="M119.23,526.09V529.19M119.23,542.42V554.45M116.83,529.19H121.64V542.42H116.83ZM116.83,538.98H121.64" fill="none" stroke="#1a1a1a" stroke-width="0.55"/>
<path d="M85.03,504.61L119.06,538.98" stroke="#000" stroke-width="0.7" fill="none"/>
<circle cx="86.06" cy="481.92" r="1.85"/>
<circle cx="86.41" cy="495.16" r="1.85"/>
<circle cx="83.83" cy="496.53" r="1.85"/>
<circle cx="82.62" cy="504.09" r="1.85"/>
<circle cx="86.06" cy="504.61" r="1.85"/>
<circle cx="85.03" cy="507.19" r="1.85"/>
<circle cx="85.03" cy="513.2" r="1.85"/>
<circle cx="82.97" cy="532.11" r="1.85"/>
<circle cx="82.97" cy="536.06" r="1.85"/>
<circle cx="119.92" cy="526.09" r="1.85"/>
<circle cx="118.2" cy="529.19" r="1.85"/>
<circle cx="116.48" cy="542.42" r="1.85"/>
<circle cx="122.16" cy="542.42" r="1.85"/>
<circle cx="119.06" cy="538.98" r="1.85"/>
<circle cx="117.34" cy="554.45" r="1.85"/>
<rect x="83.08" y="502.66" width="3.9" height="3.9"/>
<rect x="117.11" y="537.03" width="3.9" height="3.9"/>
<rect x="64.92" y="442.22" width="74.07" height="12.89" fill="#fff" stroke="#2b2b2b" stroke-width="1.05"/>
<text x="101.96" y="452" font-size="6.9" fill="#333" text-anchor="middle">A_0047</text>
<path d="M64.92,455.11V579.03" stroke="#000" stroke-width="1.05" fill="none"/>
<path d="M62.62,478.48H64.92" stroke="#222" stroke-width="0.9"/>
<text x="60.12" y="481.04" font-size="7.1" fill="#333" stroke="#333" stroke-width="0.22" text-anchor="end">-7.25</text>
<path d="M62.62,501.69H64.92" stroke="#222" stroke-width="0.9"/>
<text x="60.12" y="504.24" font-size="7.1" fill="#333" stroke="#333" stroke-width="0.22" text-anchor="end">-7.50</text>
<path d="M62.62,524.89H64.92" stroke="#222" stroke-width="0.9"/>
<text x="60.12" y="527.45" font-size="7.1" fill="#333" stroke="#333" stroke-width="0.22" text-anchor="end">-7.75</text>
<path d="M62.62,548.44H64.92" stroke="#222" stroke-width="0.9"/>
<text x="60.12" y="550.99" font-size="7.1" fill="#333" stroke="#333" stroke-width="0.22" text-anchor="end">-8.00</text>
<path d="M62.62,571.64H64.92" stroke="#222" stroke-width="0.9"/>
<text x="60.12" y="574.2" font-size="7.1" fill="#333" stroke="#333" stroke-width="0.22" text-anchor="end">-8.25</text>
<path d="M64.4,579.03H139.49" stroke="#000" stroke-width="1.05" fill="none"/>
<path d="M85.03,579.03V581.33" stroke="#222" stroke-width="0.9"/>
<text x="85.03" y="589.19" font-size="7.3" fill="#222" stroke="#222" stroke-width="0.1" text-anchor="middle">Ctrl</text>
<path d="M119.06,579.03V581.33" stroke="#222" stroke-width="0.9"/>
<text x="119.06" y="589.19" font-size="7.3" fill="#222" stroke="#222" stroke-width="0.1" text-anchor="middle">A45</text>
</g>
<g>
<path d="M185.5,477.1 185.6,477.6 185.7,478.1 185.9,478.6 186,479.1 186.2,479.6 186.4,480.1 186.6,480.6 186.8,481.1 187,481.6 187.3,482.1 187.6,482.6 188,483.1 188.4,483.6 188.8,484.1 189.2,484.6 189.7,485.1 190,485.6 190.4,486.1 190.7,486.6 191,487.1 191.3,487.6 191.5,488.1 191.8,488.6 192,489.1 192.3,489.6 192.5,490.1 192.7,490.6 193,491.1 193.2,491.6 193.5,492.1 193.7,492.6 193.9,493.1 194.1,493.6 194.4,494.1 194.6,494.6 195,495.1 195.4,495.6 196,496.1 196.7,496.6 197.5,497.1 198.2,497.6 198.8,498.1 199.3,498.6 199.7,499.1 200.1,499.6 200.4,500.1 200.7,500.6 200.9,501.1 201,501.6 200.9,502.1 200.7,502.6 200.3,503.1 199.8,503.6 199.2,504.1 198.6,504.6 198,505.1 197.4,505.6 196.8,506.1 196.2,506.6 195.5,507.1 194.7,507.6 194,508.1 193.2,508.6 192.5,509.1 191.8,509.6 191.2,510.1 190.7,510.6 190.2,511.1 189.8,511.6 189.3,512.1 188.9,512.6 188.5,513.1 188.1,513.6 187.7,514.1 187.4,514.6 187.2,515.1 187,515.6 186.8,516.1 186.7,516.6 186.5,517.1 186.4,517.6 186.3,518.1 186.2,518.6 186.1,519.1 186,519.6 185.9,520.1 185.9,520.6 185.9,521.1 185.9,521.6 186,522.1 186.1,522.6 186.2,523.1 186.4,523.6 186.5,524.1 186.7,524.6 186.9,525.1 187.1,525.6 187.3,526.1 187.5,526.6 187.8,527.1 188.2,527.6 188.6,528.1 188.9,528.6 189.2,529.1 189.3,529.6 189.5,530.1 189.6,530.6 189.7,531.1 189.8,531.6 189.8,532.1 189.8,532.6 189.8,533.1 189.6,533.6 189.4,534.1 189.1,534.6 188.8,535.1 188.5,535.6 188.3,536.1 188,536.6 187.8,537.1 187.5,537.6 187.2,538.1 186.9,538.6 186.6,539.1 186.4,539.6 186.2,540.1 186.1,540.6 186,541.1 186,541.6 185.9,542.1 185.9,542.6 185.9,543.1 185.9,543.6 185.8,544.1 185.8,544.6 185.8,545.1 185.8,545.6 185.8,546.1 185.7,546.6 185.7,547.1 185.7,547.6 185.7,548.1 185.7,548.6 185.7,549.1 185.7,549.6 185.8,550.1 185.8,550.6 185.8,551.1 185.9,551.6 185.9,552.1 186,552.6 186,553.1 186.1,553.6 186.2,554.1 186.3,554.6 186.4,555.1 186.5,555.6 186.8,556.1 187.1,556.6 187.5,557.1 187.9,557.6 188.3,558.1 188.6,558.6 188.8,559.1 188.9,559.6 189.1,560.1 189.2,560.6 189.3,561.1 189.3,561.6 189.3,562.1 189.2,562.6 189,563.1 188.7,563.6 188.4,564.1 188.1,564.6 187.9,565.1 187.6,565.6 187.4,566.1 187.2,566.6 187,567.1 186.8,567.6 186.6,568.1 186.4,568.6 186.3,569.1 186.1,569.6 186,570.1 185.9,570.6 185.8,571.1 185.8,571.6 185.7,572.1 185.6,572.6 185.6,573.1 185.6,573.6 185.5,573.9 185.5,573.9 185.5,573.6 185.5,573.1 185.5,572.6 185.4,572.1 185.3,571.6 185.2,571.1 185.2,570.6 185.1,570.1 185,569.6 184.8,569.1 184.7,568.6 184.5,568.1 184.3,567.6 184.1,567.1 183.9,566.6 183.7,566.1 183.5,565.6 183.2,565.1 183,564.6 182.7,564.1 182.4,563.6 182.1,563.1 181.9,562.6 181.8,562.1 181.8,561.6 181.8,561.1 181.9,560.6 182,560.1 182.2,559.6 182.3,559.1 182.5,558.6 182.8,558.1 183.1,557.6 183.6,557.1 184,556.6 184.3,556.1 184.6,555.6 184.7,555.1 184.8,554.6 184.9,554.1 185,553.6 185,553.1 185.1,552.6 185.2,552.1 185.2,551.6 185.3,551.1 185.3,550.6 185.3,550.1 185.4,549.6 185.4,549.1 185.4,548.6 185.4,548.1 185.4,547.6 185.4,547.1 185.4,546.6 185.3,546.1 185.3,545.6 185.3,545.1 185.3,544.6 185.3,544.1 185.2,543.6 185.2,543.1 185.2,542.6 185.1,542.1 185.1,541.6 185.1,541.1 185,540.6 184.9,540.1 184.7,539.6 184.5,539.1 184.2,538.6 183.9,538.1 183.6,537.6 183.3,537.1 183.1,536.6 182.8,536.1 182.6,535.6 182.3,535.1 182,534.6 181.7,534.1 181.5,533.6 181.3,533.1 181.3,532.6 181.3,532.1 181.3,531.6 181.4,531.1 181.5,530.6 181.6,530.1 181.7,529.6 181.9,529.1 182.2,528.6 182.5,528.1 182.9,527.6 183.3,527.1 183.6,526.6 183.8,526.1 184,525.6 184.2,525.1 184.4,524.6 184.6,524.1 184.7,523.6 184.9,523.1 185,522.6 185.1,522.1 185.2,521.6 185.2,521.1 185.2,520.6 185.2,520.1 185.1,519.6 185,519.1 184.9,518.6 184.8,518.1 184.7,517.6 184.6,517.1 184.4,516.6 184.3,516.1 184.1,515.6 183.9,515.1 183.6,514.6 183.3,514.1 183,513.6 182.6,513.1 182.2,512.6 181.8,512.1 181.3,511.6 180.8,511.1 180.4,510.6 179.9,510.1 179.2,509.6 178.6,509.1 177.9,508.6 177.1,508.1 176.4,507.6 175.6,507.1 174.9,506.6 174.3,506.1 173.7,505.6 173.1,505.1 172.5,504.6 171.9,504.1 171.3,503.6 170.8,503.1 170.4,502.6 170.2,502.1 170.1,501.6 170.2,501.1 170.4,500.6 170.7,500.1 171,499.6 171.4,499.1 171.8,498.6 172.3,498.1 172.9,497.6 173.6,497.1 174.4,496.6 175.1,496.1 175.7,495.6 176.1,495.1 176.5,494.6 176.7,494.1 177,493.6 177.2,493.1 177.4,492.6 177.6,492.1 177.9,491.6 178.1,491.1 178.3,490.6 178.6,490.1 178.8,489.6 179.1,489.1 179.3,488.6 179.5,488.1 179.8,487.6 180.1,487.1 180.4,486.6 180.7,486.1 181,485.6 181.4,485.1 181.9,484.6 182.3,484.1 182.7,483.6 183.1,483.1 183.5,482.6 183.8,482.1 184.1,481.6 184.3,481.1 184.5,480.6 184.7,480.1 184.9,479.6 185.1,479.1 185.2,478.6 185.4,478.1 185.5,477.6 185.5,477.1Z" fill="#a6d1fb" stroke="#111" stroke-width="0.62" stroke-linejoin="round"/>
<path d="M219.4,460.8 219.4,461.3 219.5,461.8 219.6,462.3 219.7,462.8 219.8,463.3 219.9,463.8 220,464.3 220.2,464.8 220.3,465.3 220.5,465.8 220.7,466.3 221,466.8 221.2,467.3 221.5,467.8 221.8,468.3 222.1,468.8 222.4,469.3 222.8,469.8 223.1,470.3 223.4,470.8 223.8,471.3 224.2,471.8 224.6,472.3 224.9,472.8 225.3,473.3 225.7,473.8 226.1,474.3 226.5,474.8 226.8,475.3 227.2,475.8 227.6,476.3 228,476.8 228.3,477.3 228.7,477.8 229.1,478.3 229.4,478.8 229.8,479.3 230.1,479.8 230.5,480.3 230.8,480.8 231.1,481.3 231.4,481.8 231.8,482.3 232.1,482.8 232.4,483.3 232.6,483.8 232.9,484.3 233.1,484.8 233.4,485.3 233.6,485.8 233.8,486.3 234.1,486.8 234.3,487.3 234.5,487.8 234.7,488.3 234.8,488.8 234.9,489.3 234.9,489.8 234.8,490.3 234.7,490.8 234.5,491.3 234.3,491.8 234.1,492.3 233.8,492.8 233.5,493.3 233.1,493.8 232.8,494.3 232.5,494.8 232,495.3 231.4,495.8 230.8,496.3 230.2,496.8 229.6,497.3 228.9,497.8 228.3,498.3 227.8,498.8 227.3,499.3 226.8,499.8 226.2,500.3 225.7,500.8 225.2,501.3 224.7,501.8 224.3,502.3 223.8,502.8 223.3,503.3 222.9,503.8 222.4,504.3 222,504.8 221.6,505.3 221.2,505.8 220.8,506.3 220.5,506.8 220.2,507.3 219.9,507.8 219.7,508.3 219.5,508.8 219.4,508.9 219.4,508.9 219.4,508.8 219.1,508.3 218.9,507.8 218.6,507.3 218.3,506.8 218,506.3 217.6,505.8 217.3,505.3 216.8,504.8 216.4,504.3 215.9,503.8 215.5,503.3 215,502.8 214.5,502.3 214.1,501.8 213.6,501.3 213.1,500.8 212.6,500.3 212.1,499.8 211.5,499.3 211,498.8 210.5,498.3 209.9,497.8 209.2,497.3 208.6,496.8 208,496.3 207.4,495.8 206.8,495.3 206.4,494.8 206,494.3 205.7,493.8 205.4,493.3 205,492.8 204.8,492.3 204.5,491.8 204.3,491.3 204.1,490.8 204,490.3 203.9,489.8 204,489.3 204,488.8 204.2,488.3 204.3,487.8 204.5,487.3 204.7,486.8 205,486.3 205.2,485.8 205.5,485.3 205.7,484.8 205.9,484.3 206.2,483.8 206.5,483.3 206.8,482.8 207.1,482.3 207.4,481.8 207.7,481.3 208,480.8 208.4,480.3 208.7,479.8 209,479.3 209.4,478.8 209.7,478.3 210.1,477.8 210.5,477.3 210.8,476.8 211.2,476.3 211.6,475.8 212,475.3 212.3,474.8 212.7,474.3 213.1,473.8 213.5,473.3 213.9,472.8 214.3,472.3 214.6,471.8 215,471.3 215.4,470.8 215.7,470.3 216.1,469.8 216.4,469.3 216.7,468.8 217,468.3 217.3,467.8 217.6,467.3 217.8,466.8 218.1,466.3 218.3,465.8 218.5,465.3 218.6,464.8 218.8,464.3 218.9,463.8 219,463.3 219.1,462.8 219.2,462.3 219.3,461.8 219.4,461.3 219.4,460.8Z" fill="#fbb4b4" stroke="#111" stroke-width="0.62" stroke-linejoin="round"/>
<rect x="182.97" y="499.97" width="5.16" height="9.28" fill="#a6d1fb" fill-opacity="0"/>
<path d="M185.55,489.66V499.97M185.55,509.25V509.25M182.97,499.97H188.12V509.25H182.97ZM182.97,503.75H188.12" fill="none" stroke="#1a1a1a" stroke-width="0.55"/>
<rect x="216.83" y="482.78" width="5.16" height="10.31" fill="#fbb4b4" fill-opacity="0"/>
<path d="M219.41,475.91V482.78M219.41,493.09V494.3M216.83,482.78H221.98V493.09H216.83ZM216.83,486.56H221.98" fill="none" stroke="#1a1a1a" stroke-width="0.55"/>
<path d="M185.38,508.56L219.41,486.56" stroke="#000" stroke-width="0.7" fill="none"/>
<circle cx="186.92" cy="489.66" r="1.85"/>
<circle cx="183.48" cy="490.86" r="1.85"/>
<circle cx="182.97" cy="498.59" r="1.85"/>
<circle cx="186.41" cy="500.31" r="1.85"/>
<circle cx="184.69" cy="502.89" r="1.85"/>
<circle cx="186.92" cy="503.75" r="1.85"/>
<circle cx="183.83" cy="508.91" r="1.85"/>
<circle cx="186.41" cy="509.25" r="1.85"/>
<circle cx="185.55" cy="532.45" r="1.85"/>
<circle cx="185.55" cy="561.84" r="1.85"/>
<circle cx="218.72" cy="475.91" r="1.85"/>
<circle cx="218.2" cy="482.78" r="1.85"/>
<circle cx="220.44" cy="485.7" r="1.85"/>
<circle cx="222.5" cy="493.09" r="1.85"/>
<circle cx="217.69" cy="494.3" r="1.85"/>
<circle cx="219.06" cy="488.28" r="1.85"/>
<rect x="183.43" y="506.61" width="3.9" height="3.9"/>
<rect x="217.46" y="484.61" width="3.9" height="3.9"/>
<rect x="165.44" y="442.22" width="73.9" height="12.89" fill="#fff" stroke="#2b2b2b" stroke-width="1.05"/>
<text x="202.39" y="452" font-size="6.9" fill="#333" text-anchor="middle">C_0165</text>
<path d="M165.44,455.11V579.03" stroke="#000" stroke-width="1.05" fill="none"/>
<path d="M163.14,471.61H165.44" stroke="#222" stroke-width="0.9"/>
<text x="160.64" y="474.17" font-size="7.1" fill="#333" stroke="#333" stroke-width="0.22" text-anchor="end">-9.5</text>
<path d="M163.14,501.34H165.44" stroke="#222" stroke-width="0.9"/>
<text x="160.64" y="503.9" font-size="7.1" fill="#333" stroke="#333" stroke-width="0.22" text-anchor="end">-10.0</text>
<path d="M163.14,531.25H165.44" stroke="#222" stroke-width="0.9"/>
<text x="160.64" y="533.81" font-size="7.1" fill="#333" stroke="#333" stroke-width="0.22" text-anchor="end">-10.5</text>
<path d="M163.14,560.98H165.44" stroke="#222" stroke-width="0.9"/>
<text x="160.64" y="563.54" font-size="7.1" fill="#333" stroke="#333" stroke-width="0.22" text-anchor="end">-11.0</text>
<path d="M164.91,579.03H239.84" stroke="#000" stroke-width="1.05" fill="none"/>
<path d="M185.55,579.03V581.33" stroke="#222" stroke-width="0.9"/>
<text x="185.55" y="589.19" font-size="7.3" fill="#222" stroke="#222" stroke-width="0.1" text-anchor="middle">Ctrl</text>
<path d="M219.41,579.03V581.33" stroke="#222" stroke-width="0.9"/>
<text x="219.41" y="589.19" font-size="7.3" fill="#222" stroke="#222" stroke-width="0.1" text-anchor="middle">A45</text>
</g>
<g>
<path d="M286.1,460.8 286.1,461.3 286.1,461.8 286.1,462.3 286.1,462.8 286.1,463.3 286.1,463.8 286.1,464.3 286.1,464.8 286.1,465.3 286.1,465.8 286.1,466.3 286.1,466.8 286.2,467.3 286.2,467.8 286.2,468.3 286.2,468.8 286.2,469.3 286.2,469.8 286.3,470.3 286.3,470.8 286.3,471.3 286.3,471.8 286.3,472.3 286.3,472.8 286.4,473.3 286.4,473.8 286.4,474.3 286.4,474.8 286.4,475.3 286.5,475.8 286.5,476.3 286.5,476.8 286.6,477.3 286.6,477.8 286.6,478.3 286.7,478.8 286.7,479.3 286.7,479.8 286.8,480.3 286.8,480.8 286.9,481.3 286.9,481.8 286.9,482.3 287,482.8 287,483.3 287.1,483.8 287.1,484.3 287.1,484.8 287.2,485.3 287.2,485.8 287.2,486.3 287.3,486.8 287.3,487.3 287.3,487.8 287.4,488.3 287.4,488.8 287.4,489.3 287.4,489.8 287.5,490.3 287.5,490.8 287.5,491.3 287.6,491.8 287.6,492.3 287.6,492.8 287.6,493.3 287.6,493.8 287.7,494.3 287.7,494.8 287.7,495.3 287.7,495.8 287.8,496.3 287.8,496.8 287.8,497.3 287.8,497.8 287.9,498.3 287.9,498.8 287.9,499.3 287.9,499.8 288,500.3 288,500.8 288,501.3 288,501.8 288.1,502.3 288.1,502.8 288.1,503.3 288.1,503.8 288.2,504.3 288.2,504.8 288.2,505.3 288.2,505.8 288.3,506.3 288.3,506.8 288.3,507.3 288.3,507.8 288.4,508.3 288.4,508.8 288.4,509.3 288.5,509.8 288.5,510.3 288.5,510.8 288.5,511.3 288.6,511.8 288.6,512.3 288.6,512.8 288.7,513.3 288.7,513.8 288.7,514.3 288.7,514.8 288.7,515.3 288.8,515.8 288.8,516.3 288.8,516.8 288.8,517.3 288.8,517.8 288.8,518.3 288.8,518.8 288.9,519.3 288.9,519.8 288.9,520.3 288.9,520.8 288.9,521.3 288.9,521.8 288.9,522.3 288.9,522.8 288.9,523.3 288.9,523.8 289,524.3 289,524.8 289,525.3 289,525.8 289,526.3 289,526.8 289,527.3 289,527.8 289,528.3 289,528.8 289,529.3 288.9,529.8 288.9,530.3 288.9,530.8 288.8,531.3 288.8,531.8 288.7,532.3 288.7,532.8 288.6,533.3 288.6,533.8 288.5,534.3 288.5,534.8 288.4,535.3 288.3,535.8 288.3,536.3 288.2,536.8 288.2,537.3 288.2,537.8 288.1,538.3 288.1,538.8 288,539.3 288,539.8 288,540.3 287.9,540.8 287.9,541.3 287.8,541.8 287.8,542.3 287.8,542.8 287.7,543.3 287.7,543.8 287.6,544.3 287.6,544.8 287.6,545.3 287.5,545.8 287.5,546.3 287.5,546.8 287.4,547.3 287.4,547.8 287.3,548.3 287.3,548.8 287.3,549.3 287.2,549.8 287.2,550.3 287.2,550.8 287.1,551.3 287.1,551.8 287.1,552.3 287,552.8 287,553.3 287,553.8 286.9,554.3 286.9,554.8 286.9,555.3 286.8,555.8 286.8,556.3 286.8,556.8 286.8,557.3 286.7,557.8 286.7,558.3 286.7,558.8 286.6,559.3 286.6,559.8 286.6,560.3 286.6,560.8 286.5,561.3 286.5,561.8 286.5,562.3 286.5,562.8 286.4,563.3 286.4,563.8 286.4,564.3 286.4,564.8 286.3,565.3 286.3,565.8 286.3,566.3 286.3,566.8 286.3,567.3 286.3,567.8 286.2,568.3 286.2,568.8 286.2,569.3 286.2,569.8 286.2,570.3 286.1,570.8 286.1,571.3 286.1,571.8 286.1,572.3 286.1,572.8 286.1,573.3 286.1,573.8 286.1,573.9 286.1,573.9 286.1,573.8 286,573.3 286,572.8 286,572.3 286,571.8 286,571.3 286,570.8 286,570.3 285.9,569.8 285.9,569.3 285.9,568.8 285.9,568.3 285.9,567.8 285.9,567.3 285.8,566.8 285.8,566.3 285.8,565.8 285.8,565.3 285.8,564.8 285.7,564.3 285.7,563.8 285.7,563.3 285.7,562.8 285.6,562.3 285.6,561.8 285.6,561.3 285.6,560.8 285.5,560.3 285.5,559.8 285.5,559.3 285.5,558.8 285.4,558.3 285.4,557.8 285.4,557.3 285.3,556.8 285.3,556.3 285.3,555.8 285.2,555.3 285.2,554.8 285.2,554.3 285.2,553.8 285.1,553.3 285.1,552.8 285.1,552.3 285,551.8 285,551.3 285,550.8 284.9,550.3 284.9,549.8 284.9,549.3 284.8,548.8 284.8,548.3 284.7,547.8 284.7,547.3 284.7,546.8 284.6,546.3 284.6,545.8 284.6,545.3 284.5,544.8 284.5,544.3 284.4,543.8 284.4,543.3 284.4,542.8 284.3,542.3 284.3,541.8 284.3,541.3 284.2,540.8 284.2,540.3 284.1,539.8 284.1,539.3 284.1,538.8 284,538.3 284,537.8 283.9,537.3 283.9,536.8 283.8,536.3 283.8,535.8 283.7,535.3 283.7,534.8 283.6,534.3 283.6,533.8 283.5,533.3 283.4,532.8 283.4,532.3 283.4,531.8 283.3,531.3 283.3,530.8 283.2,530.3 283.2,529.8 283.2,529.3 283.2,528.8 283.1,528.3 283.1,527.8 283.1,527.3 283.1,526.8 283.1,526.3 283.2,525.8 283.2,525.3 283.2,524.8 283.2,524.3 283.2,523.8 283.2,523.3 283.2,522.8 283.2,522.3 283.2,521.8 283.2,521.3 283.2,520.8 283.2,520.3 283.3,519.8 283.3,519.3 283.3,518.8 283.3,518.3 283.3,517.8 283.3,517.3 283.3,516.8 283.3,516.3 283.4,515.8 283.4,515.3 283.4,514.8 283.4,514.3 283.4,513.8 283.5,513.3 283.5,512.8 283.5,512.3 283.5,511.8 283.6,511.3 283.6,510.8 283.6,510.3 283.7,509.8 283.7,509.3 283.7,508.8 283.7,508.3 283.8,507.8 283.8,507.3 283.8,506.8 283.9,506.3 283.9,505.8 283.9,505.3 283.9,504.8 284,504.3 284,503.8 284,503.3 284,502.8 284.1,502.3 284.1,501.8 284.1,501.3 284.1,500.8 284.2,500.3 284.2,499.8 284.2,499.3 284.2,498.8 284.3,498.3 284.3,497.8 284.3,497.3 284.3,496.8 284.4,496.3 284.4,495.8 284.4,495.3 284.4,494.8 284.5,494.3 284.5,493.8 284.5,493.3 284.5,492.8 284.5,492.3 284.6,491.8 284.6,491.3 284.6,490.8 284.7,490.3 284.7,489.8 284.7,489.3 284.7,488.8 284.8,488.3 284.8,487.8 284.8,487.3 284.8,486.8 284.9,486.3 284.9,485.8 284.9,485.3 285,484.8 285,484.3 285.1,483.8 285.1,483.3 285.1,482.8 285.2,482.3 285.2,481.8 285.3,481.3 285.3,480.8 285.3,480.3 285.4,479.8 285.4,479.3 285.5,478.8 285.5,478.3 285.5,477.8 285.6,477.3 285.6,476.8 285.6,476.3 285.7,475.8 285.7,475.3 285.7,474.8 285.7,474.3 285.7,473.8 285.8,473.3 285.8,472.8 285.8,472.3 285.8,471.8 285.8,471.3 285.9,470.8 285.9,470.3 285.9,469.8 285.9,469.3 285.9,468.8 285.9,468.3 286,467.8 286,467.3 286,466.8 286,466.3 286,465.8 286,465.3 286,464.8 286,464.3 286,463.8 286,463.3 286.1,462.8 286.1,462.3 286.1,461.8 286.1,461.3 286.1,460.8Z" fill="#a6d1fb" stroke="#111" stroke-width="0.62" stroke-linejoin="round"/>
<path d="M320.3,500.3 322.5,502.9 326.8,504.2 332,506.5 335.7,508.9 330.9,511 326.5,513 323.7,514.7 323.2,515.6 325.4,517 327,518.8 325.1,520.5 322,522.5 320.3,524.2 320.3,524.2 318.5,522.5 315.5,520.5 313.6,518.8 315.1,517 317.3,515.6 316.8,514.7 314.1,513 309.6,511 304.8,508.9 308.6,506.5 313.7,504.2 318,502.9 320.3,500.3Z" fill="#fbb4b4" stroke="#111" stroke-width="0.62" stroke-linejoin="round"/>
<rect x="283.83" y="512.69" width="4.64" height="18.56" fill="#a6d1fb" fill-opacity="0"/>
<path d="M286.15,486.56V512.69M286.15,531.25V548.09M283.83,512.69H288.47V531.25H283.83ZM283.83,520.08H288.47" fill="none" stroke="#1a1a1a" stroke-width="0.55"/>
<path d="M286.41,519.22L319.41,510.62" stroke="#000" stroke-width="0.7" fill="none"/>
<circle cx="287.27" cy="486.56" r="1.85"/>
<circle cx="284.17" cy="495.67" r="1.85"/>
<circle cx="286.92" cy="510.28" r="1.85"/>
<circle cx="283.83" cy="518.7" r="1.85"/>
<circle cx="286.06" cy="519.22" r="1.85"/>
<circle cx="287.78" cy="519.56" r="1.85"/>
<circle cx="287.61" cy="528.33" r="1.85"/>
<circle cx="284.17" cy="533.48" r="1.85"/>
<circle cx="287.61" cy="535.89" r="1.85"/>
<circle cx="285.89" cy="548.09" r="1.85"/>
<circle cx="323.36" cy="505.12" r="1.85"/>
<circle cx="322.16" cy="507.19" r="1.85"/>
<circle cx="319.92" cy="509.77" r="1.85"/>
<circle cx="318.72" cy="511.48" r="1.85"/>
<circle cx="317.86" cy="519.22" r="1.85"/>
<rect x="284.46" y="517.27" width="3.9" height="3.9"/>
<rect x="317.46" y="508.68" width="3.9" height="3.9"/>
<rect x="266.12" y="442.22" width="74.07" height="12.89" fill="#fff" stroke="#2b2b2b" stroke-width="1.05"/>
<text x="303.16" y="452" font-size="6.9" fill="#333" text-anchor="middle">C_0127</text>
<path d="M266.12,455.11V579.03" stroke="#000" stroke-width="1.05" fill="none"/>
<path d="M263.82,458.72H266.12" stroke="#222" stroke-width="0.9"/>
<text x="261.32" y="461.27" font-size="7.1" fill="#333" stroke="#333" stroke-width="0.22" text-anchor="end">-4.50</text>
<path d="M263.82,490.52H266.12" stroke="#222" stroke-width="0.9"/>
<text x="261.32" y="493.07" font-size="7.1" fill="#333" stroke="#333" stroke-width="0.22" text-anchor="end">-4.75</text>
<path d="M263.82,522.31H266.12" stroke="#222" stroke-width="0.9"/>
<text x="261.32" y="524.87" font-size="7.1" fill="#333" stroke="#333" stroke-width="0.22" text-anchor="end">-5.00</text>
<path d="M263.82,554.11H266.12" stroke="#222" stroke-width="0.9"/>
<text x="261.32" y="556.67" font-size="7.1" fill="#333" stroke="#333" stroke-width="0.22" text-anchor="end">-5.25</text>
<path d="M265.6,579.03H340.7" stroke="#000" stroke-width="1.05" fill="none"/>
<path d="M286.06,579.03V581.33" stroke="#222" stroke-width="0.9"/>
<text x="286.06" y="589.19" font-size="7.3" fill="#222" stroke="#222" stroke-width="0.1" text-anchor="middle">Ctrl</text>
<path d="M320.27,579.03V581.33" stroke="#222" stroke-width="0.9"/>
<text x="320.27" y="589.19" font-size="7.3" fill="#222" stroke="#222" stroke-width="0.1" text-anchor="middle">A45</text>
</g>
<g>
<path d="M84.7,676 84.9,676.5 85,677 85.1,677.5 85.3,678 85.5,678.5 85.7,679 85.9,679.5 86.2,680 86.5,680.5 86.9,681 87.2,681.5 87.6,682 87.9,682.5 88.3,683 88.6,683.5 88.9,684 89.1,684.5 89.4,685 89.6,685.5 89.8,686 90.1,686.5 90.3,687 90.6,687.5 90.9,688 91.2,688.5 91.5,689 91.8,689.5 92.2,690 92.6,690.5 92.9,691 93.3,691.5 93.7,692 94,692.5 94.4,693 94.8,693.5 95.2,694 95.5,694.5 95.7,695 95.7,695.5 95.5,696 95.1,696.5 94.7,697 94.1,697.5 93.5,698 92.9,698.5 92.4,699 91.9,699.5 91.3,700 90.6,700.5 89.9,701 89.3,701.5 88.7,702 88.1,702.5 87.6,703 87.3,703.5 87,704 86.7,704.5 86.4,705 86.1,705.5 85.9,706 85.7,706.5 85.5,707 85.4,707.5 85.4,708 85.3,708.5 85.3,709 85.3,709.5 85.2,710 85.2,710.5 85.2,711 85.2,711.5 85.2,712 85.2,712.5 85.3,713 85.5,713.5 85.7,714 86,714.5 86.2,715 86.5,715.5 86.7,716 86.9,716.5 87.1,717 87.3,717.5 87.5,718 87.7,718.5 87.8,719 87.8,719.5 87.7,720 87.6,720.5 87.4,721 87.2,721.5 86.9,722 86.7,722.5 86.5,723 86.4,723.5 86.2,724 86,724.5 85.8,725 85.6,725.5 85.5,726 85.3,726.5 85.2,727 85.2,727.5 85.2,728 85.1,728.5 85.1,729 85.1,729.5 85.1,730 85,730.5 85,731 85,731.5 85,732 85,732.5 85,733 85,733.5 85,734 85,734.5 85,735 85,735.5 85.1,736 85.2,736.5 85.4,737 85.6,737.5 85.9,738 86.1,738.5 86.3,739 86.5,739.5 86.7,740 86.9,740.5 87.1,741 87.3,741.5 87.5,742 87.6,742.5 87.6,743 87.5,743.5 87.4,744 87.2,744.5 86.9,745 86.7,745.5 86.5,746 86.3,746.5 86.1,747 85.9,747.5 85.7,748 85.5,748.5 85.3,749 85.1,749.5 85,750 84.9,750.5 84.8,751 84.8,751.5 84.7,751.5 84.7,751.5 84.7,751.5 84.7,751 84.6,750.5 84.5,750 84.3,749.5 84.2,749 84,748.5 83.8,748 83.6,747.5 83.4,747 83.2,746.5 83,746 82.8,745.5 82.5,745 82.3,744.5 82.1,744 82,743.5 81.9,743 81.9,742.5 82,742 82.2,741.5 82.4,741 82.6,740.5 82.8,740 83,739.5 83.2,739 83.4,738.5 83.6,738 83.9,737.5 84.1,737 84.3,736.5 84.4,736 84.5,735.5 84.5,735 84.5,734.5 84.5,734 84.5,733.5 84.5,733 84.5,732.5 84.5,732 84.5,731.5 84.5,731 84.4,730.5 84.4,730 84.4,729.5 84.4,729 84.4,728.5 84.3,728 84.3,727.5 84.3,727 84.2,726.5 84,726 83.9,725.5 83.7,725 83.5,724.5 83.3,724 83.1,723.5 83,723 82.8,722.5 82.5,722 82.3,721.5 82.1,721 81.9,720.5 81.8,720 81.7,719.5 81.7,719 81.8,718.5 82,718 82.2,717.5 82.4,717 82.6,716.5 82.8,716 83,715.5 83.3,715 83.5,714.5 83.8,714 84,713.5 84.2,713 84.3,712.5 84.3,712 84.3,711.5 84.3,711 84.3,710.5 84.2,710 84.2,709.5 84.2,709 84.2,708.5 84.1,708 84.1,707.5 84,707 83.8,706.5 83.6,706 83.4,705.5 83.1,705 82.8,704.5 82.5,704 82.2,703.5 81.8,703 81.4,702.5 80.8,702 80.2,701.5 79.5,701 78.9,700.5 78.2,700 77.6,699.5 77.1,699 76.6,698.5 76,698 75.4,697.5 74.8,697 74.4,696.5 74,696 73.8,695.5 73.8,695 74,694.5 74.3,694 74.7,693.5 75.1,693 75.5,692.5 75.8,692 76.2,691.5 76.5,691 76.9,690.5 77.3,690 77.7,689.5 78,689 78.3,688.5 78.6,688 78.9,687.5 79.2,687 79.4,686.5 79.7,686 79.9,685.5 80.1,685 80.4,684.5 80.6,684 80.9,683.5 81.2,683 81.6,682.5 81.9,682 82.3,681.5 82.6,681 83,680.5 83.3,680 83.6,679.5 83.8,679 84,678.5 84.2,678 84.3,677.5 84.5,677 84.6,676.5 84.7,676Z" fill="#a6d1fb" stroke="#111" stroke-width="0.5" stroke-linejoin="round"/>
<path d="M138.4,663.7 141,665.7 146.5,667.3 154.8,668.8 162.9,670.3 157.7,671.8 155.5,673.4 154.4,674.4 153.7,675.4 149.3,676.8 145.4,678 140.9,679.5 138.4,681 138.4,681 135.9,679.5 131.4,678 127.4,676.8 123.1,675.4 122.4,674.4 121.3,673.4 119.1,671.8 113.9,670.3 122,668.8 130.3,667.3 135.8,665.7 138.4,663.7Z" fill="#fbb4b4" stroke="#111" stroke-width="0.5" stroke-linejoin="round"/>
<rect x="81.02" y="691.97" width="7.66" height="7.01" fill="#a6d1fb" fill-opacity="0"/>
<path d="M84.85,685.18V691.97M84.85,698.98V700.07M81.02,691.97H88.69V698.98H81.02ZM81.02,695.69H88.69" fill="none" stroke="#1a1a1a" stroke-width="0.4"/>
<rect x="134.67" y="668.98" width="7.66" height="5.91" fill="#fbb4b4" fill-opacity="0"/>
<path d="M138.5,668.98V668.98M138.5,674.89V674.89M134.67,668.98H142.34V674.89H134.67ZM134.67,671.17H142.34" fill="none" stroke="#1a1a1a" stroke-width="0.4"/>
<path d="M83.65,697.45L137.74,672.26" stroke="#000" stroke-width="0.45" fill="none"/>
<circle cx="89.12" cy="685.18" r="1.25"/>
<circle cx="88.03" cy="692.41" r="1.25"/>
<circle cx="84.74" cy="694.6" r="1.25"/>
<circle cx="82.55" cy="695.69" r="1.25"/>
<circle cx="87.37" cy="695.69" r="1.25"/>
<circle cx="84.74" cy="700.07" r="1.25"/>
<circle cx="87.37" cy="700.07" r="1.25"/>
<circle cx="86.5" cy="719.34" r="1.25"/>
<circle cx="86.5" cy="742.99" r="1.25"/>
<circle cx="136.2" cy="669.85" r="1.25"/>
<circle cx="138.83" cy="670.51" r="1.25"/>
<circle cx="141.02" cy="670.07" r="1.25"/>
<circle cx="137.3" cy="672.7" r="1.25"/>
<circle cx="135.77" cy="674.89" r="1.25"/>
<rect x="82.3" y="696.1" width="2.7" height="2.7"/>
<rect x="136.39" y="670.91" width="2.7" height="2.7"/>
<rect x="52.99" y="650.8" width="117.59" height="8.32" fill="#fff" stroke="#2b2b2b" stroke-width="0.7"/>
<text x="111.79" y="657" font-size="4.7" fill="#333" text-anchor="middle">C_0165</text>
<path d="M52.99,659.12V756.57" stroke="#000" stroke-width="0.75" fill="none"/>
<path d="M51.59,670.95H52.99" stroke="#222" stroke-width="0.5"/>
<text x="50.09" y="672.64" font-size="4.7" fill="#333" stroke="#333" stroke-width="0.12" text-anchor="end">-9.5</text>
<path d="M51.59,694.6H52.99" stroke="#222" stroke-width="0.5"/>
<text x="50.09" y="696.29" font-size="4.7" fill="#333" stroke="#333" stroke-width="0.12" text-anchor="end">-10.0</text>
<path d="M51.59,718.25H52.99" stroke="#222" stroke-width="0.5"/>
<text x="50.09" y="719.94" font-size="4.7" fill="#333" stroke="#333" stroke-width="0.12" text-anchor="end">-10.5</text>
<path d="M51.59,741.9H52.99" stroke="#222" stroke-width="0.5"/>
<text x="50.09" y="743.59" font-size="4.7" fill="#333" stroke="#333" stroke-width="0.12" text-anchor="end">-11.0</text>
</g>
<g>
<path d="M219.8,681.5 219.9,682 220,682.5 220.1,683 220.3,683.5 220.4,684 220.5,684.5 220.6,685 220.8,685.5 220.9,686 221,686.5 221.2,687 221.3,687.5 221.4,688 221.6,688.5 221.7,689 221.8,689.5 222,690 222.1,690.5 222.3,691 222.5,691.5 222.6,692 222.8,692.5 223,693 223.2,693.5 223.4,694 223.7,694.5 223.9,695 224.1,695.5 224.3,696 224.5,696.5 224.7,697 224.8,697.5 225,698 225.2,698.5 225.3,699 225.5,699.5 225.7,700 225.8,700.5 226,701 226.1,701.5 226.3,702 226.4,702.5 226.5,703 226.6,703.5 226.7,704 226.8,704.5 226.9,705 227,705.5 227.1,706 227.3,706.5 227.4,707 227.6,707.5 227.8,708 228,708.5 228.3,709 228.7,709.5 229.1,710 229.5,710.5 230,711 230.4,711.5 230.9,712 231.3,712.5 231.7,713 232,713.5 232.4,714 232.8,714.5 233.2,715 233.5,715.5 233.9,716 234.2,716.5 234.4,717 234.4,717.5 234.4,718 234.4,718.5 234.3,719 234.2,719.5 234.1,720 233.9,720.5 233.7,721 233.5,721.5 233.4,722 233.2,722.5 232.9,723 232.6,723.5 232.2,724 231.8,724.5 231.4,725 231,725.5 230.6,726 230.2,726.5 229.7,727 229.3,727.5 228.9,728 228.6,728.5 228.3,729 227.9,729.5 227.6,730 227.3,730.5 227,731 226.6,731.5 226.3,732 226,732.5 225.7,733 225.5,733.5 225.2,734 224.9,734.5 224.7,735 224.4,735.5 224.2,736 224,736.5 223.7,737 223.5,737.5 223.3,738 223.1,738.5 222.9,739 222.7,739.5 222.5,740 222.4,740.5 222.2,741 222,741.5 221.9,742 221.7,742.5 221.6,743 221.5,743.5 221.4,744 221.2,744.5 221.1,745 221,745.5 220.9,746 220.8,746.5 220.7,747 220.6,747.5 220.5,748 220.4,748.5 220.3,749 220.2,749.5 220.1,750 220,750.5 219.9,751 219.8,751.5 219.8,751.5 219.8,751.5 219.8,751.5 219.7,751 219.6,750.5 219.5,750 219.4,749.5 219.3,749 219.2,748.5 219.1,748 219,747.5 218.9,747 218.8,746.5 218.6,746 218.5,745.5 218.4,745 218.3,744.5 218.2,744 218.1,743.5 217.9,743 217.8,742.5 217.7,742 217.5,741.5 217.4,741 217.2,740.5 217,740 216.8,739.5 216.7,739 216.5,738.5 216.2,738 216,737.5 215.8,737 215.6,736.5 215.4,736 215.1,735.5 214.9,735 214.6,734.5 214.4,734 214.1,733.5 213.8,733 213.5,732.5 213.2,732 212.9,731.5 212.6,731 212.3,730.5 212,730 211.6,729.5 211.3,729 211,728.5 210.6,728 210.2,727.5 209.8,727 209.4,726.5 209,726 208.5,725.5 208.1,725 207.7,724.5 207.3,724 207,723.5 206.7,723 206.4,722.5 206.2,722 206,721.5 205.8,721 205.7,720.5 205.5,720 205.4,719.5 205.3,719 205.2,718.5 205.1,718 205.1,717.5 205.2,717 205.4,716.5 205.7,716 206,715.5 206.4,715 206.8,714.5 207.2,714 207.6,713.5 207.9,713 208.3,712.5 208.7,712 209.1,711.5 209.6,711 210,710.5 210.5,710 210.9,709.5 211.2,709 211.6,708.5 211.8,708 212,707.5 212.2,707 212.3,706.5 212.4,706 212.5,705.5 212.6,705 212.7,704.5 212.8,704 212.9,703.5 213,703 213.2,702.5 213.3,702 213.4,701.5 213.6,701 213.7,700.5 213.9,700 214.1,699.5 214.2,699 214.4,698.5 214.6,698 214.7,697.5 214.9,697 215.1,696.5 215.3,696 215.5,695.5 215.7,695 215.9,694.5 216.1,694 216.3,693.5 216.5,693 216.7,692.5 216.9,692 217.1,691.5 217.3,691 217.4,690.5 217.6,690 217.7,689.5 217.9,689 218,688.5 218.1,688 218.3,687.5 218.4,687 218.5,686.5 218.7,686 218.8,685.5 218.9,685 219,684.5 219.2,684 219.3,683.5 219.4,683 219.5,682.5 219.7,682 219.8,681.5Z" fill="#a6d1fb" stroke="#111" stroke-width="0.5" stroke-linejoin="round"/>
<path d="M273.2,663.9 273.3,664.4 273.4,664.9 273.7,665.4 274,665.9 274.3,666.4 274.7,666.9 275.2,667.4 275.8,667.9 276.7,668.4 277.6,668.9 278.7,669.4 279.7,669.9 280.7,670.4 281.8,670.9 282.9,671.4 284.1,671.9 285.3,672.4 286.3,672.9 287.1,673.4 287.6,673.9 287.9,674.4 288.2,674.9 288.5,675.4 288.7,675.9 288.8,676.4 289,676.9 289,677.4 289.1,677.9 289.1,678.4 289.1,678.9 289.3,679.4 289.7,679.9 290.4,680.4 291.2,680.9 292.2,681.4 293.1,681.9 293.9,682.4 294.5,682.9 295.2,683.4 295.8,683.9 296.4,684.4 296.9,684.9 297.2,685.4 297.3,685.9 297.2,686.4 296.9,686.9 296.5,687.4 296,687.9 295.4,688.4 294.6,688.9 293.1,689.4 291,689.9 288.7,690.4 286.5,690.9 284.9,691.4 283.5,691.9 282.1,692.4 280.9,692.9 279.7,693.4 278.7,693.9 277.8,694.4 277.1,694.9 276.5,695.4 275.9,695.9 275.4,696.4 274.9,696.9 274.5,697.4 274.2,697.9 273.8,698.4 273.5,698.9 273.3,699.4 273.2,699.6 273.2,699.6 273.1,699.4 272.9,698.9 272.6,698.4 272.3,697.9 271.9,697.4 271.5,696.9 271,696.4 270.5,695.9 270,695.4 269.3,694.9 268.6,694.4 267.7,693.9 266.7,693.4 265.6,692.9 264.3,692.4 263,691.9 261.5,691.4 259.9,690.9 257.8,690.4 255.4,689.9 253.3,689.4 251.8,688.9 251,688.4 250.4,687.9 249.9,687.4 249.5,686.9 249.2,686.4 249.1,685.9 249.2,685.4 249.5,684.9 250,684.4 250.6,683.9 251.3,683.4 251.9,682.9 252.6,682.4 253.3,681.9 254.2,681.4 255.2,680.9 256.1,680.4 256.8,679.9 257.2,679.4 257.3,678.9 257.3,678.4 257.4,677.9 257.4,677.4 257.5,676.9 257.6,676.4 257.8,675.9 258,675.4 258.2,674.9 258.5,674.4 258.9,673.9 259.3,673.4 260.1,672.9 261.1,672.4 262.3,671.9 263.5,671.4 264.7,670.9 265.7,670.4 266.7,669.9 267.7,669.4 268.8,668.9 269.8,668.4 270.6,667.9 271.3,667.4 271.7,666.9 272.1,666.4 272.4,665.9 272.8,665.4 273,664.9 273.2,664.4 273.2,663.9Z" fill="#fbb4b4" stroke="#111" stroke-width="0.5" stroke-linejoin="round"/>
<rect x="215.84" y="710.58" width="7.66" height="11.39" fill="#a6d1fb" fill-opacity="0"/>
<path d="M219.67,697.88V710.58M219.67,721.97V736.2M215.84,710.58H223.5V721.97H215.84ZM215.84,716.5H223.5" fill="none" stroke="#1a1a1a" stroke-width="0.4"/>
<rect x="269.49" y="675.99" width="7.66" height="10.51" fill="#fbb4b4" fill-opacity="0"/>
<path d="M273.32,675.55V675.99M273.32,686.5V688.03M269.49,675.99H277.15V686.5H269.49ZM269.49,682.55H277.15" fill="none" stroke="#1a1a1a" stroke-width="0.4"/>
<path d="M220.22,716.5L273.21,682.12" stroke="#000" stroke-width="0.45" fill="none"/>
<circle cx="224.16" cy="697.45" r="1.25"/>
<circle cx="223.5" cy="700.51" r="1.25"/>
<circle cx="219.12" cy="708.83" r="1.25"/>
<circle cx="220.88" cy="714.31" r="1.25"/>
<circle cx="218.03" cy="717.15" r="1.25"/>
<circle cx="221.97" cy="717.15" r="1.25"/>
<circle cx="216.5" cy="718.69" r="1.25"/>
<circle cx="223.94" cy="719.78" r="1.25"/>
<circle cx="217.37" cy="724.16" r="1.25"/>
<circle cx="223.07" cy="724.6" r="1.25"/>
<circle cx="222.41" cy="736.2" r="1.25"/>
<circle cx="271.68" cy="675.55" r="1.25"/>
<circle cx="275.4" cy="675.55" r="1.25"/>
<circle cx="273.21" cy="682.12" r="1.25"/>
<circle cx="277.15" cy="686.5" r="1.25"/>
<circle cx="271.02" cy="685.84" r="1.25"/>
<circle cx="273.87" cy="687.37" r="1.25"/>
<circle cx="270.58" cy="688.03" r="1.25"/>
<rect x="218.87" y="715.15" width="2.7" height="2.7"/>
<rect x="271.86" y="680.77" width="2.7" height="2.7"/>
<rect x="187.81" y="650.8" width="117.15" height="8.32" fill="#fff" stroke="#2b2b2b" stroke-width="0.7"/>
<text x="246.39" y="657" font-size="4.7" fill="#333" text-anchor="middle">C_0149</text>
<path d="M187.81,659.12V756.57" stroke="#000" stroke-width="0.75" fill="none"/>
<path d="M186.41,679.71H187.81" stroke="#222" stroke-width="0.5"/>
<text x="184.91" y="681.4" font-size="4.7" fill="#333" stroke="#333" stroke-width="0.12" text-anchor="end">-8.4</text>
<path d="M186.41,703.58H187.81" stroke="#222" stroke-width="0.5"/>
<text x="184.91" y="705.27" font-size="4.7" fill="#333" stroke="#333" stroke-width="0.12" text-anchor="end">-8.8</text>
<path d="M186.41,727.45H187.81" stroke="#222" stroke-width="0.5"/>
<text x="184.91" y="729.14" font-size="4.7" fill="#333" stroke="#333" stroke-width="0.12" text-anchor="end">-9.2</text>
<path d="M186.41,751.31H187.81" stroke="#222" stroke-width="0.5"/>
<text x="184.91" y="753.01" font-size="4.7" fill="#333" stroke="#333" stroke-width="0.12" text-anchor="end">-9.6</text>
</g>
<g>
<path d="M354.7,688.7 354.8,689.2 354.9,689.7 355,690.2 355.1,690.7 355.2,691.2 355.3,691.7 355.5,692.2 355.6,692.7 355.7,693.2 355.9,693.7 356.1,694.2 356.2,694.7 356.4,695.2 356.6,695.7 356.8,696.2 357.1,696.7 357.3,697.2 357.5,697.7 357.8,698.2 358,698.7 358.2,699.2 358.5,699.7 358.7,700.2 359,700.7 359.3,701.2 359.5,701.7 359.8,702.2 360.1,702.7 360.3,703.2 360.6,703.7 360.9,704.2 361.2,704.7 361.5,705.2 361.8,705.7 362.1,706.2 362.4,706.7 362.7,707.2 363.1,707.7 363.4,708.2 363.7,708.7 364.1,709.2 364.4,709.7 364.7,710.2 365.1,710.7 365.4,711.2 365.8,711.7 366.1,712.2 366.4,712.7 366.8,713.2 367.1,713.7 367.4,714.2 367.8,714.7 368.1,715.2 368.5,715.7 368.8,716.2 369.2,716.7 369.5,717.2 369.8,717.7 370.2,718.2 370.5,718.7 370.8,719.2 371.1,719.7 371.4,720.2 371.7,720.7 372,721.2 372.4,721.7 372.7,722.2 373,722.7 373.3,723.2 373.6,723.7 373.8,724.2 374.1,724.7 374.4,725.2 374.6,725.7 374.8,726.2 375,726.7 375.3,727.2 375.5,727.7 375.7,728.2 375.9,728.7 376,729.2 376.2,729.7 376.2,730.2 376.2,730.7 376.1,731.2 375.9,731.7 375.6,732.2 375.3,732.7 375,733.2 374.7,733.7 374.3,734.2 373.9,734.7 373.3,735.2 372.7,735.7 372,736.2 371.2,736.7 370.4,737.2 369.6,737.7 368.8,738.2 368,738.7 367.2,739.2 366.5,739.7 365.8,740.2 365.1,740.7 364.4,741.2 363.7,741.7 363,742.2 362.3,742.7 361.6,743.2 361,743.7 360.4,744.2 359.8,744.7 359.3,745.2 358.9,745.7 358.4,746.2 358,746.7 357.6,747.2 357.2,747.7 356.8,748.2 356.5,748.7 356.2,749.2 355.9,749.7 355.6,750.2 355.4,750.7 355.1,751.2 354.9,751.7 354.7,752.2 354.7,752.2 354.7,752.2 354.7,752.2 354.6,751.7 354.4,751.2 354.1,750.7 353.9,750.2 353.6,749.7 353.3,749.2 353,748.7 352.7,748.2 352.3,747.7 351.9,747.2 351.5,746.7 351.1,746.2 350.6,745.7 350.1,745.2 349.6,744.7 349.1,744.2 348.5,743.7 347.9,743.2 347.2,742.7 346.5,742.2 345.8,741.7 345.1,741.2 344.4,740.7 343.7,740.2 343,739.7 342.3,739.2 341.5,738.7 340.7,738.2 339.9,737.7 339.1,737.2 338.3,736.7 337.5,736.2 336.8,735.7 336.2,735.2 335.6,734.7 335.2,734.2 334.8,733.7 334.5,733.2 334.2,732.7 333.9,732.2 333.6,731.7 333.4,731.2 333.3,730.7 333.3,730.2 333.3,729.7 333.4,729.2 333.6,728.7 333.8,728.2 334,727.7 334.2,727.2 334.5,726.7 334.7,726.2 334.9,725.7 335.1,725.2 335.4,724.7 335.7,724.2 335.9,723.7 336.2,723.2 336.5,722.7 336.8,722.2 337.1,721.7 337.4,721.2 337.8,720.7 338.1,720.2 338.4,719.7 338.7,719.2 339,718.7 339.3,718.2 339.7,717.7 340,717.2 340.3,716.7 340.7,716.2 341,715.7 341.4,715.2 341.7,714.7 342,714.2 342.4,713.7 342.7,713.2 343.1,712.7 343.4,712.2 343.7,711.7 344.1,711.2 344.4,710.7 344.8,710.2 345.1,709.7 345.4,709.2 345.8,708.7 346.1,708.2 346.4,707.7 346.7,707.2 347.1,706.7 347.4,706.2 347.7,705.7 348,705.2 348.3,704.7 348.6,704.2 348.9,703.7 349.1,703.2 349.4,702.7 349.7,702.2 350,701.7 350.2,701.2 350.5,700.7 350.7,700.2 351,699.7 351.2,699.2 351.5,698.7 351.7,698.2 352,697.7 352.2,697.2 352.4,696.7 352.7,696.2 352.9,695.7 353.1,695.2 353.3,694.7 353.4,694.2 353.6,693.7 353.7,693.2 353.9,692.7 354,692.2 354.1,691.7 354.3,691.2 354.4,690.7 354.5,690.2 354.6,689.7 354.7,689.2 354.7,688.7Z" fill="#a6d1fb" stroke="#111" stroke-width="0.5" stroke-linejoin="round"/>
<path d="M408.4,663.9 408.4,664.4 408.5,664.9 408.6,665.4 408.7,665.9 408.9,666.4 409,666.9 409.2,667.4 409.4,667.9 409.5,668.4 409.7,668.9 410,669.4 410.3,669.9 410.6,670.4 410.9,670.9 411.3,671.4 411.7,671.9 412.1,672.4 412.5,672.9 412.9,673.4 413.3,673.9 413.8,674.4 414.3,674.9 414.9,675.4 415.5,675.9 416.1,676.4 416.7,676.9 417.3,677.4 417.9,677.9 418.5,678.4 419,678.9 419.5,679.4 420,679.9 420.4,680.4 420.9,680.9 421.3,681.4 421.8,681.9 422.2,682.4 422.6,682.9 423,683.4 423.5,683.9 423.9,684.4 424.3,684.9 424.8,685.4 425.3,685.9 425.8,686.4 426.2,686.9 426.7,687.4 427.2,687.9 427.7,688.4 428.1,688.9 428.6,689.4 429,689.9 429.4,690.4 429.8,690.9 430.2,691.4 430.7,691.9 431.1,692.4 431.5,692.9 431.8,693.4 432.1,693.9 432.3,694.4 432.5,694.9 432.5,695.4 432.4,695.9 432.2,696.4 431.9,696.9 431.6,697.4 431.2,697.9 430.8,698.4 430.3,698.9 429.8,699.4 429,699.9 428.1,700.4 427.1,700.9 426,701.4 424.8,701.9 423.6,702.4 422.4,702.9 421.3,703.4 420.3,703.9 419.4,704.4 418.5,704.9 417.7,705.4 416.9,705.9 416.1,706.4 415.3,706.9 414.6,707.4 413.9,707.9 413.2,708.4 412.6,708.9 412.1,709.4 411.7,709.9 411.3,710.4 410.9,710.9 410.5,711.4 410.2,711.9 409.9,712.4 409.7,712.9 409.4,713.4 409.2,713.9 409,714.4 408.8,714.9 408.7,715.4 408.5,715.9 408.4,716.4 408.4,716.5 408.4,716.5 408.4,716.4 408.3,715.9 408.1,715.4 408,714.9 407.8,714.4 407.6,713.9 407.4,713.4 407.1,712.9 406.9,712.4 406.6,711.9 406.2,711.4 405.9,710.9 405.5,710.4 405.1,709.9 404.7,709.4 404.1,708.9 403.6,708.4 402.9,707.9 402.2,707.4 401.5,706.9 400.7,706.4 399.9,705.9 399.1,705.4 398.3,704.9 397.4,704.4 396.5,703.9 395.5,703.4 394.4,702.9 393.2,702.4 392,701.9 390.8,701.4 389.7,700.9 388.6,700.4 387.7,699.9 387,699.4 386.5,698.9 386,698.4 385.6,697.9 385.2,697.4 384.9,696.9 384.6,696.4 384.4,695.9 384.3,695.4 384.3,694.9 384.5,694.4 384.7,693.9 385,693.4 385.3,692.9 385.7,692.4 386.1,691.9 386.6,691.4 387,690.9 387.4,690.4 387.8,689.9 388.2,689.4 388.7,688.9 389.1,688.4 389.6,687.9 390.1,687.4 390.5,686.9 391,686.4 391.5,685.9 392,685.4 392.4,684.9 392.9,684.4 393.3,683.9 393.8,683.4 394.2,682.9 394.6,682.4 395,681.9 395.5,681.4 395.9,680.9 396.3,680.4 396.8,679.9 397.3,679.4 397.8,678.9 398.3,678.4 398.9,677.9 399.5,677.4 400.1,676.9 400.7,676.4 401.3,675.9 401.9,675.4 402.5,674.9 403,674.4 403.5,673.9 403.9,673.4 404.3,672.9 404.7,672.4 405.1,671.9 405.5,671.4 405.9,670.9 406.2,670.4 406.5,669.9 406.8,669.4 407,668.9 407.3,668.4 407.4,667.9 407.6,667.4 407.8,666.9 407.9,666.4 408.1,665.9 408.2,665.4 408.3,664.9 408.3,664.4 408.4,663.9Z" fill="#fbb4b4" stroke="#111" stroke-width="0.5" stroke-linejoin="round"/>
<rect x="350.8" y="718.25" width="7.88" height="14.23" fill="#a6d1fb" fill-opacity="0"/>
<path d="M354.74,706.2V718.25M354.74,732.48V735.77M350.8,718.25H358.69V732.48H350.8ZM350.8,725.26H358.69" fill="none" stroke="#1a1a1a" stroke-width="0.4"/>
<rect x="404.45" y="688.03" width="7.88" height="10.95" fill="#fbb4b4" fill-opacity="0"/>
<path d="M408.39,679.93V688.03M408.39,698.98V700.51M404.45,688.03H412.34V698.98H404.45ZM404.45,693.5H412.34" fill="none" stroke="#1a1a1a" stroke-width="0.4"/>
<path d="M354.74,724.6L408.39,693.07" stroke="#000" stroke-width="0.45" fill="none"/>
<circle cx="358.69" cy="705.99" r="1.25"/>
<circle cx="356.28" cy="714.96" r="1.25"/>
<circle cx="358.03" cy="716.06" r="1.25"/>
<circle cx="352.55" cy="724.6" r="1.25"/>
<circle cx="355.84" cy="725.26" r="1.25"/>
<circle cx="357.37" cy="726.35" r="1.25"/>
<circle cx="352.55" cy="729.64" r="1.25"/>
<circle cx="358.03" cy="729.64" r="1.25"/>
<circle cx="356.5" cy="734.67" r="1.25"/>
<circle cx="358.69" cy="735.77" r="1.25"/>
<circle cx="410.58" cy="679.93" r="1.25"/>
<circle cx="406.64" cy="688.03" r="1.25"/>
<circle cx="408.39" cy="693.5" r="1.25"/>
<circle cx="412.12" cy="698.54" r="1.25"/>
<circle cx="405.77" cy="700.51" r="1.25"/>
<rect x="353.39" y="723.25" width="2.7" height="2.7"/>
<rect x="407.04" y="691.72" width="2.7" height="2.7"/>
<rect x="322.99" y="650.8" width="117.15" height="8.32" fill="#fff" stroke="#2b2b2b" stroke-width="0.7"/>
<text x="381.57" y="657" font-size="4.7" fill="#333" text-anchor="middle">C_0017</text>
<path d="M322.99,659.12V756.57" stroke="#000" stroke-width="0.75" fill="none"/>
<path d="M321.59,662.41H322.99" stroke="#222" stroke-width="0.5"/>
<text x="320.09" y="664.1" font-size="4.7" fill="#333" stroke="#333" stroke-width="0.12" text-anchor="end">-8.00</text>
<path d="M321.59,685.4H322.99" stroke="#222" stroke-width="0.5"/>
<text x="320.09" y="687.09" font-size="4.7" fill="#333" stroke="#333" stroke-width="0.12" text-anchor="end">-8.25</text>
<path d="M321.59,708.39H322.99" stroke="#222" stroke-width="0.5"/>
<text x="320.09" y="710.09" font-size="4.7" fill="#333" stroke="#333" stroke-width="0.12" text-anchor="end">-8.50</text>
<path d="M321.59,731.82H322.99" stroke="#222" stroke-width="0.5"/>
<text x="320.09" y="733.52" font-size="4.7" fill="#333" stroke="#333" stroke-width="0.12" text-anchor="end">-8.75</text>
<path d="M321.59,755.26H322.99" stroke="#222" stroke-width="0.5"/>
<text x="320.09" y="756.95" font-size="4.7" fill="#333" stroke="#333" stroke-width="0.12" text-anchor="end">-9.00</text>
<path d="M322.62,756.57H440.65" stroke="#000" stroke-width="0.75" fill="none"/>
<path d="M354.74,756.57V757.97" stroke="#222" stroke-width="0.5"/>
<text x="354.74" y="763.07" font-size="5" fill="#222" stroke="#222" stroke-width="0.1" text-anchor="middle">Ctrl</text>
<path d="M408.39,756.57V757.97" stroke="#222" stroke-width="0.5"/>
<text x="408.39" y="763.07" font-size="5" fill="#222" stroke="#222" stroke-width="0.1" text-anchor="middle">PEG</text>
</g>
<g>
<path d="M84.7,793.6 84.8,794.1 84.9,794.6 84.9,795.1 85,795.6 85.1,796.1 85.3,796.6 85.4,797.1 85.5,797.6 85.7,798.1 85.8,798.6 86,799.1 86.2,799.6 86.4,800.1 86.7,800.6 86.9,801.1 87.2,801.6 87.5,802.1 87.8,802.6 88.1,803.1 88.4,803.6 88.7,804.1 89,804.6 89.2,805.1 89.5,805.6 89.9,806.1 90.2,806.6 90.5,807.1 90.8,807.6 91.1,808.1 91.4,808.6 91.6,809.1 91.9,809.6 92.1,810.1 92.4,810.6 92.6,811.1 92.8,811.6 92.9,812.1 93.1,812.6 93.3,813.1 93.4,813.6 93.6,814.1 93.7,814.6 93.9,815.1 94,815.6 94.2,816.1 94.4,816.6 94.5,817.1 94.7,817.6 94.9,818.1 95.1,818.6 95.3,819.1 95.5,819.6 95.7,820.1 95.9,820.6 96.1,821.1 96.3,821.6 96.5,822.1 96.7,822.6 96.9,823.1 97.2,823.6 97.4,824.1 97.7,824.6 98,825.1 98.2,825.6 98.5,826.1 98.7,826.6 98.8,827.1 98.9,827.6 99,828.1 99,828.6 98.9,829.1 98.8,829.6 98.7,830.1 98.6,830.6 98.4,831.1 98.2,831.6 98,832.1 97.9,832.6 97.7,833.1 97.5,833.6 97.2,834.1 96.9,834.6 96.6,835.1 96.3,835.6 95.9,836.1 95.6,836.6 95.3,837.1 94.9,837.6 94.6,838.1 94.3,838.6 94,839.1 93.7,839.6 93.4,840.1 93.1,840.6 92.8,841.1 92.5,841.6 92.2,842.1 91.9,842.6 91.6,843.1 91.3,843.6 91.1,844.1 90.8,844.6 90.5,845.1 90.3,845.6 90,846.1 89.8,846.6 89.6,847.1 89.3,847.6 89.1,848.1 88.9,848.6 88.7,849.1 88.4,849.6 88.2,850.1 88,850.6 87.8,851.1 87.6,851.6 87.4,852.1 87.3,852.6 87.1,853.1 86.9,853.6 86.7,854.1 86.6,854.6 86.4,855.1 86.2,855.6 86.1,856.1 85.9,856.6 85.8,857.1 85.7,857.6 85.5,858.1 85.4,858.6 85.3,859.1 85.2,859.6 85.1,860.1 85,860.6 84.9,861.1 84.8,861.6 84.8,862.1 84.7,862.2 84.7,862.2 84.7,862.1 84.7,861.6 84.6,861.1 84.5,860.6 84.4,860.1 84.3,859.6 84.2,859.1 84.1,858.6 84,858.1 83.8,857.6 83.7,857.1 83.6,856.6 83.4,856.1 83.3,855.6 83.1,855.1 82.9,854.6 82.8,854.1 82.6,853.6 82.4,853.1 82.2,852.6 82,852.1 81.9,851.6 81.7,851.1 81.5,850.6 81.3,850.1 81.1,849.6 80.8,849.1 80.6,848.6 80.4,848.1 80.2,847.6 79.9,847.1 79.7,846.6 79.5,846.1 79.2,845.6 79,845.1 78.7,844.6 78.4,844.1 78.2,843.6 77.9,843.1 77.6,842.6 77.3,842.1 77,841.6 76.7,841.1 76.4,840.6 76.1,840.1 75.8,839.6 75.5,839.1 75.2,838.6 74.9,838.1 74.6,837.6 74.2,837.1 73.9,836.6 73.5,836.1 73.2,835.6 72.9,835.1 72.6,834.6 72.3,834.1 72,833.6 71.8,833.1 71.6,832.6 71.4,832.1 71.3,831.6 71.1,831.1 70.9,830.6 70.8,830.1 70.7,829.6 70.6,829.1 70.5,828.6 70.5,828.1 70.6,827.6 70.7,827.1 70.8,826.6 71,826.1 71.3,825.6 71.5,825.1 71.8,824.6 72,824.1 72.3,823.6 72.5,823.1 72.8,822.6 73,822.1 73.2,821.6 73.4,821.1 73.6,820.6 73.8,820.1 74,819.6 74.2,819.1 74.4,818.6 74.6,818.1 74.8,817.6 74.9,817.1 75.1,816.6 75.3,816.1 75.4,815.6 75.6,815.1 75.7,814.6 75.9,814.1 76.1,813.6 76.2,813.1 76.4,812.6 76.5,812.1 76.7,811.6 76.9,811.1 77.1,810.6 77.3,810.1 77.6,809.6 77.8,809.1 78.1,808.6 78.4,808.1 78.7,807.6 79,807.1 79.3,806.6 79.6,806.1 79.9,805.6 80.2,805.1 80.5,804.6 80.8,804.1 81.1,803.6 81.4,803.1 81.7,802.6 82,802.1 82.3,801.6 82.5,801.1 82.8,800.6 83.1,800.1 83.3,799.6 83.5,799.1 83.7,798.6 83.8,798.1 84,797.6 84.1,797.1 84.2,796.6 84.3,796.1 84.5,795.6 84.6,795.1 84.6,794.6 84.7,794.1 84.7,793.6Z" fill="#a6d1fb" stroke="#111" stroke-width="0.5" stroke-linejoin="round"/>
<path d="M138.4,773.5 138.5,774 138.7,774.5 138.9,775 139.2,775.5 139.4,776 139.7,776.5 140,777 140.3,777.5 140.7,778 141.1,778.5 141.6,779 142.1,779.5 142.7,780 143.3,780.5 143.8,781 144.3,781.5 144.8,782 145.1,782.5 145.5,783 145.9,783.5 146.2,784 146.5,784.5 146.6,785 146.7,785.5 146.7,786 146.5,786.5 146.3,787 146.1,787.5 145.9,788 145.7,788.5 145.6,789 145.5,789.5 145.4,790 145.3,790.5 145.3,791 145.2,791.5 145.2,792 145.2,792.5 145.4,793 145.8,793.5 146.3,794 146.8,794.5 147.4,795 148.1,795.5 148.7,796 149.4,796.5 150,797 150.8,797.5 151.7,798 152.6,798.5 153.6,799 154.6,799.5 155.5,800 156.4,800.5 157.2,801 158.1,801.5 159.1,802 160.1,802.5 161,803 161.7,803.5 162.2,804 162.5,804.5 162.4,805 162,805.5 161.5,806 160.7,806.5 159.9,807 159.1,807.5 158,808 156.5,808.5 154.8,809 153,809.5 151.4,810 149.9,810.5 148.7,811 147.7,811.5 146.6,812 145.6,812.5 144.7,813 143.9,813.5 143.1,814 142.4,814.5 141.8,815 141.3,815.5 140.8,816 140.3,816.5 139.9,817 139.6,817.5 139.3,818 139,818.5 138.7,819 138.5,819.5 138.4,819.9 138.4,819.9 138.2,819.5 138,819 137.8,818.5 137.5,818 137.2,817.5 136.8,817 136.4,816.5 136,816 135.5,815.5 135,815 134.4,814.5 133.7,814 132.9,813.5 132.1,813 131.1,812.5 130.2,812 129.1,811.5 128.1,811 126.9,810.5 125.4,810 123.7,809.5 122,809 120.3,808.5 118.8,808 117.7,807.5 116.9,807 116.1,806.5 115.3,806 114.8,805.5 114.4,805 114.3,804.5 114.6,804 115.1,803.5 115.8,803 116.7,802.5 117.7,802 118.7,801.5 119.6,801 120.4,800.5 121.3,800 122.2,799.5 123.2,799 124.2,798.5 125.1,798 126,797.5 126.8,797 127.4,796.5 128.1,796 128.7,795.5 129.4,795 130,794.5 130.5,794 131,793.5 131.3,793 131.6,792.5 131.6,792 131.6,791.5 131.5,791 131.5,790.5 131.4,790 131.3,789.5 131.2,789 131.1,788.5 130.9,788 130.7,787.5 130.5,787 130.3,786.5 130.1,786 130.1,785.5 130.1,785 130.3,784.5 130.6,784 130.9,783.5 131.3,783 131.7,782.5 132,782 132.5,781.5 133,781 133.5,780.5 134.1,780 134.7,779.5 135.2,779 135.7,778.5 136.1,778 136.5,777.5 136.8,777 137.1,776.5 137.4,776 137.6,775.5 137.9,775 138.1,774.5 138.3,774 138.4,773.5Z" fill="#fbb4b4" stroke="#111" stroke-width="0.5" stroke-linejoin="round"/>
<rect x="80.8" y="820.11" width="7.88" height="12.04" fill="#a6d1fb" fill-opacity="0"/>
<path d="M84.74,809.6V820.11M84.74,832.15V845.73M80.8,820.11H88.69V832.15H80.8ZM80.8,826.46H88.69" fill="none" stroke="#1a1a1a" stroke-width="0.4"/>
<rect x="134.67" y="797.99" width="7.66" height="7.23" fill="#fbb4b4" fill-opacity="0"/>
<path d="M138.5,797.99V797.99M138.5,805.22V808.07M134.67,797.99H142.34V805.22H134.67ZM134.67,801.5H142.34" fill="none" stroke="#1a1a1a" stroke-width="0.4"/>
<path d="M85.4,826.46L138.83,800.84" stroke="#000" stroke-width="0.45" fill="none"/>
<circle cx="89.12" cy="809.16" r="1.25"/>
<circle cx="88.03" cy="811.79" r="1.25"/>
<circle cx="86.5" cy="818.36" r="1.25"/>
<circle cx="82.55" cy="827.77" r="1.25"/>
<circle cx="85.4" cy="826.02" r="1.25"/>
<circle cx="88.03" cy="826.46" r="1.25"/>
<circle cx="82.12" cy="832.59" r="1.25"/>
<circle cx="89.12" cy="831.5" r="1.25"/>
<circle cx="87.37" cy="838.07" r="1.25"/>
<circle cx="88.03" cy="846.17" r="1.25"/>
<circle cx="136.64" cy="785.07" r="1.25"/>
<circle cx="141.02" cy="797.99" r="1.25"/>
<circle cx="138.83" cy="800.84" r="1.25"/>
<circle cx="135.77" cy="804.56" r="1.25"/>
<circle cx="138.83" cy="805.88" r="1.25"/>
<circle cx="141.68" cy="808.07" r="1.25"/>
<rect x="84.05" y="825.11" width="2.7" height="2.7"/>
<rect x="137.48" y="799.49" width="2.7" height="2.7"/>
<rect x="52.99" y="759.89" width="117.59" height="8.54" fill="#fff" stroke="#2b2b2b" stroke-width="0.7"/>
<text x="111.79" y="766" font-size="4.7" fill="#333" text-anchor="middle">C_0097</text>
<path d="M52.99,768.43V866.53" stroke="#000" stroke-width="0.75" fill="none"/>
<path d="M51.59,789.23H52.99" stroke="#222" stroke-width="0.5"/>
<text x="50.09" y="790.93" font-size="4.7" fill="#333" stroke="#333" stroke-width="0.12" text-anchor="end">-4.2</text>
<path d="M51.59,815.07H52.99" stroke="#222" stroke-width="0.5"/>
<text x="50.09" y="816.76" font-size="4.7" fill="#333" stroke="#333" stroke-width="0.12" text-anchor="end">-4.5</text>
<path d="M51.59,840.69H52.99" stroke="#222" stroke-width="0.5"/>
<text x="50.09" y="842.39" font-size="4.7" fill="#333" stroke="#333" stroke-width="0.12" text-anchor="end">-4.8</text>
<path d="M52.62,866.53H171.08" stroke="#000" stroke-width="0.75" fill="none"/>
<path d="M84.74,866.53V867.93" stroke="#222" stroke-width="0.5"/>
<text x="84.74" y="873.03" font-size="5" fill="#222" stroke="#222" stroke-width="0.1" text-anchor="middle">Ctrl</text>
<path d="M138.39,866.53V867.93" stroke="#222" stroke-width="0.5"/>
<text x="138.39" y="873.03" font-size="5" fill="#222" stroke="#222" stroke-width="0.1" text-anchor="middle">PEG</text>
</g>
<g>
<path d="M219.8,773 219.8,773.5 219.8,774 219.9,774.5 219.9,775 219.9,775.5 220,776 220,776.5 220,777 220.1,777.5 220.1,778 220.2,778.5 220.2,779 220.3,779.5 220.4,780 220.4,780.5 220.5,781 220.6,781.5 220.7,782 220.8,782.5 220.9,783 221,783.5 221.1,784 221.2,784.5 221.3,785 221.4,785.5 221.5,786 221.6,786.5 221.7,787 221.8,787.5 221.9,788 221.9,788.5 222,789 222.1,789.5 222.2,790 222.3,790.5 222.3,791 222.4,791.5 222.5,792 222.6,792.5 222.6,793 222.7,793.5 222.8,794 222.9,794.5 222.9,795 223,795.5 223.1,796 223.1,796.5 223.2,797 223.3,797.5 223.3,798 223.4,798.5 223.5,799 223.6,799.5 223.7,800 223.7,800.5 223.8,801 223.9,801.5 223.9,802 224,802.5 224.1,803 224.1,803.5 224.1,804 224.2,804.5 224.2,805 224.2,805.5 224.1,806 224.1,806.5 224.1,807 224.1,807.5 224,808 224,808.5 223.9,809 223.9,809.5 223.8,810 223.8,810.5 223.7,811 223.7,811.5 223.6,812 223.5,812.5 223.5,813 223.4,813.5 223.4,814 223.3,814.5 223.2,815 223.1,815.5 223.1,816 223,816.5 222.9,817 222.8,817.5 222.7,818 222.7,818.5 222.6,819 222.5,819.5 222.5,820 222.4,820.5 222.3,821 222.3,821.5 222.2,822 222.2,822.5 222.1,823 222.1,823.5 222,824 221.9,824.5 221.9,825 221.8,825.5 221.8,826 221.7,826.5 221.6,827 221.5,827.5 221.5,828 221.4,828.5 221.3,829 221.3,829.5 221.2,830 221.1,830.5 221,831 221,831.5 220.9,832 220.9,832.5 220.8,833 220.8,833.5 220.7,834 220.7,834.5 220.7,835 220.6,835.5 220.6,836 220.6,836.5 220.6,837 220.5,837.5 220.5,838 220.5,838.5 220.5,839 220.4,839.5 220.4,840 220.4,840.5 220.4,841 220.4,841.5 220.3,842 220.3,842.5 220.3,843 220.3,843.5 220.3,844 220.3,844.5 220.2,845 220.2,845.5 220.2,846 220.2,846.5 220.2,847 220.2,847.5 220.1,848 220.1,848.5 220.1,849 220.1,849.5 220.1,850 220.1,850.5 220,851 220,851.5 220,852 220,852.5 220,853 220,853.5 220,854 219.9,854.5 219.9,855 219.9,855.5 219.9,856 219.9,856.5 219.9,857 219.9,857.5 219.9,858 219.8,858.5 219.8,859 219.8,859.5 219.8,860 219.8,860.5 219.8,861 219.8,861.5 219.8,861.7 219.8,861.7 219.8,861.5 219.8,861 219.8,860.5 219.7,860 219.7,859.5 219.7,859 219.7,858.5 219.7,858 219.7,857.5 219.7,857 219.7,856.5 219.7,856 219.6,855.5 219.6,855 219.6,854.5 219.6,854 219.6,853.5 219.6,853 219.6,852.5 219.5,852 219.5,851.5 219.5,851 219.5,850.5 219.5,850 219.5,849.5 219.5,849 219.4,848.5 219.4,848 219.4,847.5 219.4,847 219.4,846.5 219.4,846 219.3,845.5 219.3,845 219.3,844.5 219.3,844 219.3,843.5 219.2,843 219.2,842.5 219.2,842 219.2,841.5 219.2,841 219.2,840.5 219.1,840 219.1,839.5 219.1,839 219.1,838.5 219,838 219,837.5 219,837 219,836.5 218.9,836 218.9,835.5 218.9,835 218.9,834.5 218.8,834 218.8,833.5 218.7,833 218.7,832.5 218.6,832 218.6,831.5 218.5,831 218.5,830.5 218.4,830 218.3,829.5 218.2,829 218.2,828.5 218.1,828 218,827.5 217.9,827 217.9,826.5 217.8,826 217.7,825.5 217.7,825 217.6,824.5 217.6,824 217.5,823.5 217.5,823 217.4,822.5 217.3,822 217.3,821.5 217.2,821 217.2,820.5 217.1,820 217,819.5 217,819 216.9,818.5 216.8,818 216.7,817.5 216.7,817 216.6,816.5 216.5,816 216.4,815.5 216.3,815 216.3,814.5 216.2,814 216.1,813.5 216.1,813 216,812.5 216,812 215.9,811.5 215.8,811 215.8,810.5 215.7,810 215.7,809.5 215.6,809 215.6,808.5 215.5,808 215.5,807.5 215.5,807 215.4,806.5 215.4,806 215.4,805.5 215.4,805 215.4,804.5 215.4,804 215.5,803.5 215.5,803 215.6,802.5 215.6,802 215.7,801.5 215.8,801 215.8,800.5 215.9,800 216,799.5 216.1,799 216.1,798.5 216.2,798 216.3,797.5 216.3,797 216.4,796.5 216.5,796 216.6,795.5 216.6,795 216.7,794.5 216.8,794 216.8,793.5 216.9,793 217,792.5 217.1,792 217.1,791.5 217.2,791 217.3,790.5 217.4,790 217.5,789.5 217.5,789 217.6,788.5 217.7,788 217.8,787.5 217.9,787 218,786.5 218.1,786 218.2,785.5 218.3,785 218.4,784.5 218.5,784 218.6,783.5 218.7,783 218.8,782.5 218.9,782 219,781.5 219.1,781 219.1,780.5 219.2,780 219.3,779.5 219.3,779 219.4,778.5 219.4,778 219.5,777.5 219.5,777 219.6,776.5 219.6,776 219.6,775.5 219.7,775 219.7,774.5 219.7,774 219.8,773.5 219.8,773Z" fill="#fbb4b4" stroke="#111" stroke-width="0.5" stroke-linejoin="round"/>
<path d="M273.2,807.2 277.7,808.5 281.2,809.4 284.4,809.9 281.2,810.5 277.7,811.4 275.2,812.8 282.8,814.3 290.4,815.2 297.1,815.8 290.4,816.4 282.8,817.4 273.4,818.9 273.4,826.8 277.7,828.2 281.2,829 284.4,829.6 281.2,830.2 277.7,831.1 273.2,832.5 273.2,832.5 268.7,831.1 265.2,830.2 262,829.6 265.2,829 268.7,828.2 273,826.8 273,818.9 263.7,817.4 256,816.4 249.3,815.8 256,815.2 263.7,814.3 271.2,812.8 268.7,811.4 265.2,810.5 262,809.9 265.2,809.4 268.7,808.5 273.2,807.2Z" fill="#a6d1fb" stroke="#111" stroke-width="0.5" stroke-linejoin="round"/>
<rect x="215.51" y="800.51" width="9.09" height="17.8" fill="#fbb4b4" fill-opacity="0"/>
<path d="M220.05,795.8V800.51M220.05,818.31V821.2M215.51,800.51H224.6V818.31H215.51ZM215.51,807.41H224.6" fill="none" stroke="#1a1a1a" stroke-width="0.4"/>
<path d="M220.22,810.26L272.77,816.17" stroke="#000" stroke-width="0.45" fill="none"/>
<circle cx="216.93" cy="795.8" r="1.25"/>
<circle cx="223.5" cy="796.46" r="1.25"/>
<circle cx="224.6" cy="799.31" r="1.25"/>
<circle cx="217.37" cy="804.12" r="1.25"/>
<circle cx="222.41" cy="805.22" r="1.25"/>
<circle cx="219.56" cy="809.6" r="1.25"/>
<circle cx="220.88" cy="811.79" r="1.25"/>
<circle cx="221.31" cy="820.55" r="1.25"/>
<circle cx="222.85" cy="821.64" r="1.25"/>
<circle cx="223.5" cy="839.16" r="1.25"/>
<circle cx="271.68" cy="810.04" r="1.25"/>
<circle cx="271.02" cy="816.17" r="1.25"/>
<circle cx="276.06" cy="815.07" r="1.25"/>
<circle cx="273.21" cy="817.92" r="1.25"/>
<circle cx="275.4" cy="829.31" r="1.25"/>
<rect x="218.87" y="808.91" width="2.7" height="2.7"/>
<rect x="271.42" y="814.82" width="2.7" height="2.7"/>
<rect x="187.81" y="759.89" width="117.15" height="8.54" fill="#fff" stroke="#2b2b2b" stroke-width="0.7"/>
<text x="246.39" y="766" font-size="4.7" fill="#333" text-anchor="middle">A_0011</text>
<path d="M187.81,768.43V866.53" stroke="#000" stroke-width="0.75" fill="none"/>
<path d="M186.41,769.53H187.81" stroke="#222" stroke-width="0.5"/>
<text x="184.91" y="771.22" font-size="4.7" fill="#333" stroke="#333" stroke-width="0.12" text-anchor="end">-9.0</text>
<path d="M186.41,795.8H187.81" stroke="#222" stroke-width="0.5"/>
<text x="184.91" y="797.49" font-size="4.7" fill="#333" stroke="#333" stroke-width="0.12" text-anchor="end">-9.5</text>
<path d="M186.41,822.08H187.81" stroke="#222" stroke-width="0.5"/>
<text x="184.91" y="823.77" font-size="4.7" fill="#333" stroke="#333" stroke-width="0.12" text-anchor="end">-10.0</text>
<path d="M186.41,848.36H187.81" stroke="#222" stroke-width="0.5"/>
<text x="184.91" y="850.05" font-size="4.7" fill="#333" stroke="#333" stroke-width="0.12" text-anchor="end">-10.5</text>
<path d="M187.44,866.53H305.46" stroke="#000" stroke-width="0.75" fill="none"/>
<path d="M219.78,866.53V867.93" stroke="#222" stroke-width="0.5"/>
<text x="219.78" y="873.03" font-size="5" fill="#222" stroke="#222" stroke-width="0.1" text-anchor="middle">Ctrl</text>
<path d="M273.21,866.53V867.93" stroke="#222" stroke-width="0.5"/>
<text x="273.21" y="873.03" font-size="5" fill="#222" stroke="#222" stroke-width="0.1" text-anchor="middle">PEG</text>
</g>
<rect x="652.2" y="291.2" width="12.9" height="12.9" fill="#fbb4b4" stroke="#333" stroke-width="0.8"/>
<rect x="652.2" y="304.1" width="12.9" height="12.9" fill="#a6d1fb" stroke="#333" stroke-width="0.8"/>
<circle cx="658.65" cy="297.65" r="2"/>
<circle cx="658.65" cy="310.55" r="2"/>
<text x="669.8" y="300.28" font-size="7.3" fill="#000">High</text>
<text x="669.8" y="313.18" font-size="7.3" fill="#000">Low</text>
<rect x="449.8" y="753.9" width="8.9" height="8.9" fill="#fbb4b4" stroke="#333" stroke-width="0.45"/>
<rect x="449.8" y="762.8" width="8.9" height="8.9" fill="#a6d1fb" stroke="#333" stroke-width="0.45"/>
<circle cx="454.25" cy="758.35" r="1.3"/>
<circle cx="454.25" cy="767.25" r="1.3"/>
<text x="461.8" y="760.15" font-size="5" fill="#000">High</text>
<text x="461.8" y="769.05" font-size="5" fill="#000">Low</text>
</svg>
</body></html>
